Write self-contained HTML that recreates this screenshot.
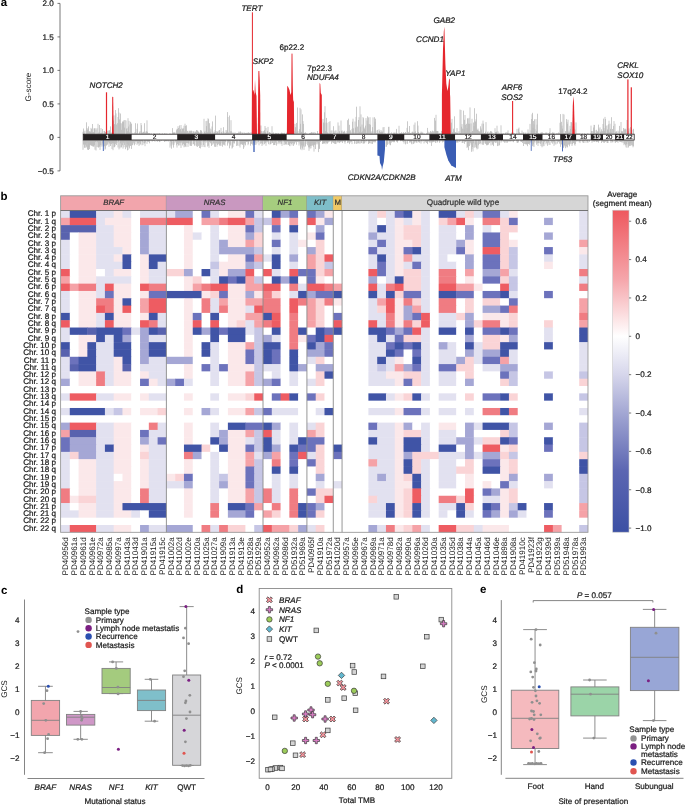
<!DOCTYPE html>
<html><head><meta charset="utf-8"><style>
html,body{margin:0;padding:0;background:#fff;}
body{width:685px;height:805px;overflow:hidden;}
svg{display:block;font-family:"Liberation Sans", sans-serif;will-change:transform;text-rendering:geometricPrecision;}
</style></head><body>
<svg width="685" height="805" viewBox="0 0 685 805" font-family='"Liberation Sans", sans-serif'>
<rect width="685" height="805" fill="#fff"/>
<text x="0.80" y="5.80" font-size="11.5" text-anchor="start" fill="#000" font-weight="bold" >a</text>
<line x1="60.0" y1="3.4000000000000057" x2="60.0" y2="170.9" stroke="#555" stroke-width="0.8"/>
<line x1="57.5" y1="3.40" x2="60.0" y2="3.40" stroke="#555" stroke-width="0.8"/>
<text x="53.80" y="6.20" font-size="8.1" text-anchor="end" fill="#1a1a1a" stroke="#1a1a1a" stroke-width="0.22"  >2.0</text>
<line x1="57.5" y1="36.90" x2="60.0" y2="36.90" stroke="#555" stroke-width="0.8"/>
<text x="53.80" y="39.70" font-size="8.1" text-anchor="end" fill="#1a1a1a" stroke="#1a1a1a" stroke-width="0.22"  >1.5</text>
<line x1="57.5" y1="70.40" x2="60.0" y2="70.40" stroke="#555" stroke-width="0.8"/>
<text x="53.80" y="73.20" font-size="8.1" text-anchor="end" fill="#1a1a1a" stroke="#1a1a1a" stroke-width="0.22"  >1.0</text>
<line x1="57.5" y1="103.90" x2="60.0" y2="103.90" stroke="#555" stroke-width="0.8"/>
<text x="53.80" y="106.70" font-size="8.1" text-anchor="end" fill="#1a1a1a" stroke="#1a1a1a" stroke-width="0.22"  >0.5</text>
<line x1="57.5" y1="137.40" x2="60.0" y2="137.40" stroke="#555" stroke-width="0.8"/>
<text x="53.80" y="140.20" font-size="8.1" text-anchor="end" fill="#1a1a1a" stroke="#1a1a1a" stroke-width="0.22"  >0</text>
<line x1="57.5" y1="170.90" x2="60.0" y2="170.90" stroke="#555" stroke-width="0.8"/>
<text x="53.80" y="173.70" font-size="8.1" text-anchor="end" fill="#1a1a1a" stroke="#1a1a1a" stroke-width="0.22"  >−0.5</text>
<text x="30.50" y="87.00" font-size="8.1" text-anchor="middle" fill="#1a1a1a"  transform="rotate(-90 30.5 87)" >G-score</text>
<path d="M83.0,134.2v-2.4M83.5,134.2v-5.7M84.0,134.2v-2.8M84.5,134.2v-0.8M85.0,134.2v-3.6M86.5,134.2v-11.9M87.0,134.2v-6.0M87.5,134.2v-4.3M88.0,134.2v-5.7M88.5,134.2v-7.8M89.0,134.2v-2.4M89.5,134.2v-2.9M90.0,134.2v-2.7M90.5,134.2v-2.5M91.0,134.2v-6.3M91.5,134.2v-5.1M92.0,134.2v-1.6M92.5,134.2v-10.2M93.0,134.2v-2.1M93.5,134.2v-2.0M94.0,134.2v-5.8M94.5,134.2v-5.6M95.0,134.2v-6.2M96.0,134.2v-4.7M97.0,134.2v-6.0M97.5,134.2v-0.5M98.0,134.2v-10.4M98.5,134.2v-0.8M99.0,134.2v-2.4M99.5,134.2v-9.2M100.0,134.2v-0.5M100.5,134.2v-1.0M101.0,134.2v-6.1M101.5,134.2v-1.5M102.0,134.2v-1.0M102.5,134.2v-5.2M103.5,134.2v-0.7M104.0,134.2v-3.1M104.5,134.2v-3.3M105.0,134.2v-2.2M105.5,134.2v-2.3M106.0,134.2v-1.6M106.5,134.2v-1.8M107.0,134.2v-3.5M107.5,134.2v-0.4M108.0,134.2v-3.3M108.5,134.2v-0.6M109.0,134.2v-3.9M109.5,134.2v-3.9M110.0,134.2v-2.3M110.5,134.2v-7.8M111.0,134.2v-0.8M111.5,134.2v-0.8M112.0,134.2v-2.3M112.5,134.2v-0.5M113.0,134.2v-18.6M113.5,134.2v-13.8M114.0,134.2v-9.4M114.5,134.2v-10.1M115.0,134.2v-18.8M115.5,134.2v-24.2M116.0,134.2v-20.8M116.5,134.2v-9.7M117.5,134.2v-11.0M118.0,134.2v-17.2M118.5,134.2v-26.0M119.0,134.2v-21.6M119.5,134.2v-14.8M120.0,134.2v-11.0M120.5,134.2v-20.7M121.0,134.2v-11.1M121.5,134.2v-4.4M122.0,134.2v-10.6M122.5,134.2v-12.4M123.0,134.2v-13.0M123.5,134.2v-12.5M124.0,134.2v-14.1M124.5,134.2v-6.6M125.0,134.2v-14.2M126.0,134.2v-13.7M126.5,134.2v-5.4M127.0,134.2v-6.1M127.5,134.2v-3.0M128.0,134.2v-16.0M128.5,134.2v-7.7M129.0,134.2v-13.3M129.5,134.2v-1.8M130.0,134.2v-9.7M130.5,134.2v-12.4M131.0,134.2v-11.4M131.5,134.2v-10.2M132.0,134.2v-1.4M132.5,134.2v-0.4M133.0,134.2v-0.8M134.0,134.2v-1.2M134.5,134.2v-0.5M135.0,134.2v-2.1M135.5,134.2v-11.0M136.5,134.2v-1.1M137.0,134.2v-5.3M137.5,134.2v-10.7M139.0,134.2v-1.2M139.5,134.2v-1.9M140.0,134.2v-3.0M140.5,134.2v-0.5M141.0,134.2v-11.2M141.5,134.2v-9.0M142.0,134.2v-0.9M142.5,134.2v-1.4M143.0,134.2v-2.3M143.5,134.2v-2.4M144.5,134.2v-11.0M145.0,134.2v-1.8M145.5,134.2v-1.0M146.0,134.2v-2.7M146.5,134.2v-2.9M147.0,134.2v-13.9M147.5,134.2v-2.5M148.0,134.2v-0.7M148.5,134.2v-0.9M149.0,134.2v-1.0M149.5,134.2v-0.8M150.0,134.2v-0.9M151.5,134.2v-0.8M153.5,134.2v-0.8M154.5,134.2v-0.7M155.0,134.2v-0.7M155.5,134.2v-0.4M156.5,134.2v-0.5M157.0,134.2v-0.7M157.5,134.2v-0.5M158.0,134.2v-0.5M159.0,134.2v-0.9M159.5,134.2v-0.9M160.0,134.2v-0.5M161.0,134.2v-0.5M162.0,134.2v-0.5M162.5,134.2v-0.8M163.0,134.2v-0.4M164.5,134.2v-1.0M165.0,134.2v-0.4M166.0,134.2v-0.9M167.0,134.2v-0.6M169.5,134.2v-0.6M170.0,134.2v-0.7M170.5,134.2v-0.5M172.0,134.2v-0.7M172.5,134.2v-6.1M173.0,134.2v-1.2M173.5,134.2v-1.7M174.0,134.2v-1.7M174.5,134.2v-1.5M175.0,134.2v-1.9M175.5,134.2v-0.5M176.5,134.2v-4.0M177.0,134.2v-5.4M177.5,134.2v-5.1M178.0,134.2v-8.0M178.5,134.2v-6.2M179.0,134.2v-4.0M179.5,134.2v-8.8M180.0,134.2v-4.5M180.5,134.2v-5.1M181.0,134.2v-9.2M181.5,134.2v-2.8M182.0,134.2v-6.3M182.5,134.2v-5.1M183.0,134.2v-5.1M183.5,134.2v-5.9M184.0,134.2v-8.5M184.5,134.2v-2.8M185.0,134.2v-10.5M185.5,134.2v-8.4M186.0,134.2v-4.4M186.5,134.2v-8.9M187.5,134.2v-3.2M188.0,134.2v-3.5M188.5,134.2v-1.4M189.0,134.2v-1.8M189.5,134.2v-3.2M190.0,134.2v-3.8M190.5,134.2v-3.1M191.0,134.2v-1.4M191.5,134.2v-3.6M192.0,134.2v-3.1M192.5,134.2v-1.4M193.5,134.2v-2.9M194.0,134.2v-2.5M194.5,134.2v-0.7M195.0,134.2v-2.6M195.5,134.2v-2.5M196.0,134.2v-2.0M196.5,134.2v-4.2M197.0,134.2v-2.7M197.5,134.2v-3.8M198.0,134.2v-2.9M198.5,134.2v-2.4M199.0,134.2v-1.3M199.5,134.2v-0.8M200.0,134.2v-2.0M200.5,134.2v-4.0M201.0,134.2v-4.2M201.5,134.2v-3.3M202.0,134.2v-2.3M203.0,134.2v-0.5M203.5,134.2v-0.5M204.0,134.2v-15.4M204.5,134.2v-2.2M205.0,134.2v-3.4M205.5,134.2v-1.4M206.0,134.2v-13.1M206.5,134.2v-8.1M207.0,134.2v-13.4M207.5,134.2v-2.0M208.0,134.2v-15.9M208.5,134.2v-15.0M209.0,134.2v-2.3M209.5,134.2v-11.0M210.0,134.2v-5.8M210.5,134.2v-2.5M211.0,134.2v-4.9M211.5,134.2v-0.5M212.0,134.2v-7.7M212.5,134.2v-12.8M213.0,134.2v-2.6M213.5,134.2v-0.8M214.0,134.2v-1.5M214.5,134.2v-2.0M215.0,134.2v-4.0M215.5,134.2v-18.6M216.0,134.2v-3.1M216.5,134.2v-1.2M217.0,134.2v-2.7M217.5,134.2v-2.2M218.0,134.2v-3.0M218.5,134.2v-0.8M219.0,134.2v-3.8M219.5,134.2v-4.2M220.0,134.2v-1.5M221.0,134.2v-6.3M221.5,134.2v-2.1M222.0,134.2v-1.3M222.5,134.2v-0.6M223.0,134.2v-2.9M223.5,134.2v-7.0M224.0,134.2v-2.4M224.5,134.2v-0.7M225.0,134.2v-0.8M225.5,134.2v-1.3M226.0,134.2v-4.1M226.5,134.2v-2.0M227.0,134.2v-3.8M227.5,134.2v-22.1M228.0,134.2v-17.2M228.5,134.2v-1.8M229.0,134.2v-1.0M229.5,134.2v-18.7M230.5,134.2v-2.9M231.0,134.2v-14.0M231.5,134.2v-2.9M232.5,134.2v-1.1M233.0,134.2v-1.9M233.5,134.2v-0.8M234.0,134.2v-0.5M234.5,134.2v-0.7M235.0,134.2v-1.8M235.5,134.2v-0.6M236.0,134.2v-0.6M236.5,134.2v-0.7M237.0,134.2v-1.1M237.5,134.2v-1.0M238.0,134.2v-1.1M238.5,134.2v-1.5M239.0,134.2v-2.7M239.5,134.2v-1.0M240.0,134.2v-2.0M240.5,134.2v-2.8M241.0,134.2v-1.6M242.0,134.2v-1.8M242.5,134.2v-1.2M243.0,134.2v-1.5M244.0,134.2v-1.5M244.5,134.2v-1.5M245.0,134.2v-0.6M245.5,134.2v-1.3M246.0,134.2v-1.0M246.5,134.2v-1.4M247.0,134.2v-0.7M247.5,134.2v-1.3M248.0,134.2v-1.6M248.5,134.2v-1.8M249.0,134.2v-1.2M249.5,134.2v-1.4M250.0,134.2v-0.7M251.0,134.2v-2.1M260.0,134.2v-1.2M260.5,134.2v-4.0M261.0,134.2v-8.7M261.5,134.2v-3.2M262.0,134.2v-1.9M262.5,134.2v-0.9M263.0,134.2v-3.2M263.5,134.2v-1.7M264.0,134.2v-3.2M264.5,134.2v-4.1M265.0,134.2v-8.2M265.5,134.2v-1.9M266.0,134.2v-6.3M266.5,134.2v-0.4M267.5,134.2v-3.4M268.0,134.2v-7.3M269.0,134.2v-1.7M269.5,134.2v-2.2M270.0,134.2v-1.0M270.5,134.2v-1.5M271.5,134.2v-0.6M272.0,134.2v-8.0M272.5,134.2v-1.0M273.5,134.2v-1.7M274.0,134.2v-0.5M275.0,134.2v-0.7M275.5,134.2v-1.3M276.5,134.2v-1.1M277.0,134.2v-0.8M278.0,134.2v-1.3M278.5,134.2v-0.9M279.0,134.2v-0.5M280.0,134.2v-0.5M281.0,134.2v-1.2M281.5,134.2v-1.6M282.0,134.2v-1.1M282.5,134.2v-1.3M283.5,134.2v-1.1M284.5,134.2v-1.4M286.0,134.2v-0.6M286.5,134.2v-1.5M294.0,134.2v-3.0M294.5,134.2v-1.0M295.0,134.2v-10.3M295.5,134.2v-7.0M296.0,134.2v-1.5M296.5,134.2v-11.3M297.0,134.2v-1.9M297.5,134.2v-26.7M298.0,134.2v-3.1M298.5,134.2v-0.9M299.0,134.2v-1.0M299.5,134.2v-5.1M300.0,134.2v-26.3M300.5,134.2v-10.4M301.0,134.2v-24.8M301.5,134.2v-2.4M302.0,134.2v-1.9M302.5,134.2v-19.8M303.0,134.2v-13.1M303.5,134.2v-10.3M304.0,134.2v-1.3M304.5,134.2v-1.3M305.0,134.2v-0.7M305.5,134.2v-1.9M306.0,134.2v-0.8M306.5,134.2v-0.7M307.5,134.2v-0.4M308.0,134.2v-0.6M309.5,134.2v-1.1M310.0,134.2v-0.7M310.5,134.2v-1.3M311.0,134.2v-1.5M311.5,134.2v-2.1M312.0,134.2v-1.7M312.5,134.2v-0.8M313.0,134.2v-1.9M313.5,134.2v-1.0M314.0,134.2v-1.9M315.0,134.2v-1.9M315.5,134.2v-1.1M316.0,134.2v-0.5M317.0,134.2v-0.8M317.5,134.2v-3.2M318.0,134.2v-1.0M318.5,134.2v-0.5M322.0,134.2v-0.8M322.5,134.2v-1.0M323.0,134.2v-15.3M323.5,134.2v-11.7M324.0,134.2v-11.0M324.5,134.2v-21.9M325.0,134.2v-28.0M325.5,134.2v-3.1M326.0,134.2v-11.6M326.5,134.2v-16.3M327.0,134.2v-11.4M327.5,134.2v-1.8M328.0,134.2v-1.2M328.5,134.2v-0.5M329.0,134.2v-12.2M329.5,134.2v-0.6M330.0,134.2v-13.1M330.5,134.2v-1.0M331.0,134.2v-3.6M332.0,134.2v-3.9M333.0,134.2v-1.0M333.5,134.2v-8.0M334.0,134.2v-2.6M334.5,134.2v-1.3M335.0,134.2v-3.6M335.5,134.2v-0.7M336.0,134.2v-3.8M336.5,134.2v-0.9M337.5,134.2v-1.6M338.0,134.2v-11.8M338.5,134.2v-0.9M339.0,134.2v-8.6M339.5,134.2v-3.0M340.0,134.2v-0.9M340.5,134.2v-0.6M341.0,134.2v-13.7M341.5,134.2v-3.0M342.0,134.2v-3.8M342.5,134.2v-0.5M343.0,134.2v-2.5M343.5,134.2v-2.5M344.0,134.2v-1.9M344.5,134.2v-3.4M345.0,134.2v-1.9M345.5,134.2v-0.5M346.0,134.2v-0.5M346.5,134.2v-0.7M347.0,134.2v-3.1M347.5,134.2v-14.0M348.0,134.2v-0.7M348.5,134.2v-15.5M349.0,134.2v-2.8M349.5,134.2v-9.4M350.5,134.2v-3.9M351.0,134.2v-2.1M351.5,134.2v-0.5M352.0,134.2v-5.3M352.5,134.2v-12.5M353.0,134.2v-15.5M353.5,134.2v-5.9M354.0,134.2v-2.1M354.5,134.2v-0.6M355.0,134.2v-12.7M355.5,134.2v-6.7M356.0,134.2v-17.3M356.5,134.2v-27.5M357.5,134.2v-7.6M358.0,134.2v-1.0M358.5,134.2v-14.2M359.0,134.2v-17.0M359.5,134.2v-2.5M360.0,134.2v-27.9M360.5,134.2v-7.6M361.0,134.2v-19.8M361.5,134.2v-1.9M362.0,134.2v-9.7M362.5,134.2v-2.8M363.0,134.2v-17.1M363.5,134.2v-16.0M364.0,134.2v-6.8M364.5,134.2v-5.6M365.0,134.2v-4.2M365.5,134.2v-8.6M366.0,134.2v-16.1M366.5,134.2v-1.4M367.0,134.2v-13.7M367.5,134.2v-17.9M368.0,134.2v-10.4M368.5,134.2v-16.8M369.0,134.2v-0.5M369.5,134.2v-10.1M370.0,134.2v-17.0M370.5,134.2v-9.5M371.0,134.2v-2.2M371.5,134.2v-1.1M372.0,134.2v-3.1M372.5,134.2v-7.1M373.0,134.2v-16.8M373.5,134.2v-0.5M374.0,134.2v-2.7M374.5,134.2v-17.0M375.0,134.2v-12.5M375.5,134.2v-15.5M376.0,134.2v-3.8M376.5,134.2v-1.0M377.0,134.2v-0.8M377.5,134.2v-4.3M378.0,134.2v-0.9M378.5,134.2v-1.4M379.0,134.2v-4.9M379.5,134.2v-3.4M380.5,134.2v-2.1M381.0,134.2v-4.1M381.5,134.2v-2.6M382.0,134.2v-0.7M382.5,134.2v-2.6M383.0,134.2v-6.9M384.0,134.2v-7.2M384.5,134.2v-0.6M385.0,134.2v-0.5M385.5,134.2v-0.7M387.0,134.2v-0.6M388.0,134.2v-1.4M388.5,134.2v-7.3M389.0,134.2v-7.4M390.0,134.2v-1.1M390.5,134.2v-0.5M391.5,134.2v-1.8M392.0,134.2v-0.4M393.0,134.2v-1.2M393.5,134.2v-0.6M394.0,134.2v-2.0M394.5,134.2v-1.2M395.0,134.2v-0.7M395.5,134.2v-0.4M396.0,134.2v-1.8M396.5,134.2v-5.3M397.0,134.2v-0.9M397.5,134.2v-0.6M399.0,134.2v-8.4M399.5,134.2v-0.7M400.0,134.2v-0.9M400.5,134.2v-1.0M401.0,134.2v-1.0M401.5,134.2v-2.0M402.0,134.2v-0.6M402.5,134.2v-0.5M403.0,134.2v-1.4M403.5,134.2v-2.0M404.5,134.2v-1.3M405.0,134.2v-1.0M405.5,134.2v-2.2M406.0,134.2v-0.6M406.5,134.2v-0.8M407.0,134.2v-6.3M407.5,134.2v-12.9M408.5,134.2v-2.3M409.5,134.2v-8.2M410.0,134.2v-1.4M410.5,134.2v-1.0M411.0,134.2v-0.6M411.5,134.2v-0.8M412.0,134.2v-2.3M412.5,134.2v-2.5M413.0,134.2v-1.1M413.5,134.2v-1.8M414.0,134.2v-9.5M414.5,134.2v-1.9M415.0,134.2v-11.7M415.5,134.2v-2.9M416.5,134.2v-1.1M417.0,134.2v-1.0M417.5,134.2v-13.0M418.0,134.2v-8.6M418.5,134.2v-2.2M420.0,134.2v-1.3M420.5,134.2v-0.8M421.0,134.2v-2.6M421.5,134.2v-1.0M422.0,134.2v-2.3M422.5,134.2v-1.0M423.0,134.2v-1.5M424.5,134.2v-0.6M426.5,134.2v-0.7M427.0,134.2v-1.3M427.5,134.2v-6.3M428.0,134.2v-2.7M429.0,134.2v-1.8M429.5,134.2v-0.6M430.0,134.2v-1.8M430.5,134.2v-3.2M431.5,134.2v-2.5M432.0,134.2v-0.9M432.5,134.2v-3.5M433.0,134.2v-1.6M433.5,134.2v-2.9M434.5,134.2v-16.3M435.0,134.2v-3.0M435.5,134.2v-13.6M436.0,134.2v-19.4M436.5,134.2v-3.3M437.0,134.2v-2.9M437.5,134.2v-3.2M438.0,134.2v-3.1M439.0,134.2v-1.4M439.5,134.2v-0.8M440.5,134.2v-0.7M441.0,134.2v-1.3M441.5,134.2v-3.3M451.0,134.2v-3.9M451.5,134.2v-11.6M452.0,134.2v-15.3M452.5,134.2v-2.0M453.0,134.2v-1.0M453.5,134.2v-5.5M454.0,134.2v-3.6M454.5,134.2v-17.9M455.0,134.2v-2.0M455.5,134.2v-1.9M456.0,134.2v-1.0M456.5,134.2v-1.7M457.0,134.2v-6.1M457.5,134.2v-1.2M458.0,134.2v-1.7M459.0,134.2v-3.1M459.5,134.2v-0.8M460.0,134.2v-24.7M460.5,134.2v-1.1M461.0,134.2v-24.2M461.5,134.2v-7.5M462.0,134.2v-10.1M462.5,134.2v-5.6M463.0,134.2v-0.5M463.5,134.2v-23.6M464.0,134.2v-4.9M464.5,134.2v-14.4M465.0,134.2v-19.2M465.5,134.2v-9.5M466.0,134.2v-2.3M466.5,134.2v-10.4M467.0,134.2v-6.1M467.5,134.2v-15.9M468.0,134.2v-15.5M468.5,134.2v-10.6M469.0,134.2v-16.3M469.5,134.2v-10.4M470.0,134.2v-26.8M470.5,134.2v-1.9M471.0,134.2v-10.8M471.5,134.2v-1.8M472.0,134.2v-15.4M472.5,134.2v-3.2M473.0,134.2v-2.7M473.5,134.2v-11.7M474.0,134.2v-8.1M474.5,134.2v-26.0M475.0,134.2v-12.9M475.5,134.2v-12.5M476.0,134.2v-14.9M476.5,134.2v-20.5M477.0,134.2v-4.5M477.5,134.2v-4.3M478.0,134.2v-5.6M478.5,134.2v-3.5M479.0,134.2v-2.2M479.5,134.2v-2.8M480.0,134.2v-2.8M480.5,134.2v-7.9M481.0,134.2v-5.8M481.5,134.2v-4.4M482.0,134.2v-10.6M482.5,134.2v-1.4M483.0,134.2v-13.6M483.5,134.2v-10.5M484.0,134.2v-0.6M484.5,134.2v-1.2M485.0,134.2v-0.9M485.5,134.2v-2.6M486.0,134.2v-12.1M487.0,134.2v-1.0M487.5,134.2v-1.9M488.0,134.2v-2.8M489.0,134.2v-1.3M489.5,134.2v-1.3M490.0,134.2v-2.0M490.5,134.2v-3.0M491.0,134.2v-3.1M491.5,134.2v-2.5M492.0,134.2v-2.1M493.0,134.2v-1.1M493.5,134.2v-0.5M494.0,134.2v-0.5M495.0,134.2v-6.0M495.5,134.2v-1.9M496.0,134.2v-2.2M496.5,134.2v-2.5M497.0,134.2v-8.5M498.0,134.2v-2.9M499.0,134.2v-1.5M500.0,134.2v-0.7M501.0,134.2v-8.9M501.5,134.2v-0.7M502.0,134.2v-0.6M503.0,134.2v-0.8M503.5,134.2v-0.8M505.0,134.2v-1.0M505.5,134.2v-1.2M506.0,134.2v-2.0M507.0,134.2v-1.7M507.5,134.2v-1.4M508.0,134.2v-3.8M508.5,134.2v-0.5M509.0,134.2v-1.2M511.0,134.2v-0.6M511.5,134.2v-1.3M512.0,134.2v-2.0M512.5,134.2v-0.9M513.0,134.2v-0.7M513.5,134.2v-1.5M514.0,134.2v-0.6M514.5,134.2v-0.9M515.0,134.2v-0.8M516.5,134.2v-1.0M517.0,134.2v-5.3M517.5,134.2v-0.5M518.5,134.2v-5.5M519.0,134.2v-6.6M519.5,134.2v-2.0M520.0,134.2v-1.1M520.5,134.2v-0.5M521.0,134.2v-1.1M521.5,134.2v-0.9M522.0,134.2v-3.7M522.5,134.2v-0.4M523.0,134.2v-1.6M523.5,134.2v-1.8M524.0,134.2v-0.5M525.0,134.2v-1.7M525.5,134.2v-0.5M526.0,134.2v-1.6M527.5,134.2v-1.0M528.0,134.2v-4.8M528.5,134.2v-1.5M529.5,134.2v-0.7M530.0,134.2v-10.3M530.5,134.2v-0.5M531.0,134.2v-3.9M531.5,134.2v-15.2M532.0,134.2v-19.9M532.5,134.2v-21.4M533.0,134.2v-6.4M533.5,134.2v-13.2M534.0,134.2v-9.9M534.5,134.2v-14.9M535.0,134.2v-5.0M535.5,134.2v-0.9M536.0,134.2v-15.1M536.5,134.2v-3.3M537.0,134.2v-9.6M537.5,134.2v-20.5M538.0,134.2v-0.7M538.5,134.2v-1.2M540.0,134.2v-1.1M540.5,134.2v-0.7M541.0,134.2v-1.7M541.5,134.2v-1.1M542.0,134.2v-2.1M542.5,134.2v-1.4M543.0,134.2v-0.4M543.5,134.2v-1.1M544.5,134.2v-0.7M545.0,134.2v-0.8M545.5,134.2v-1.0M546.0,134.2v-1.9M546.5,134.2v-0.9M547.0,134.2v-1.5M547.5,134.2v-0.5M548.5,134.2v-1.1M549.0,134.2v-0.6M549.5,134.2v-2.0M550.0,134.2v-6.0M551.0,134.2v-1.0M552.0,134.2v-1.1M552.5,134.2v-1.9M553.0,134.2v-0.6M553.5,134.2v-1.4M554.0,134.2v-1.7M554.5,134.2v-0.4M555.5,134.2v-0.4M556.0,134.2v-0.4M556.5,134.2v-0.9M557.0,134.2v-0.5M557.5,134.2v-0.9M558.5,134.2v-1.7M559.0,134.2v-1.0M559.5,134.2v-1.0M560.0,134.2v-11.4M560.5,134.2v-20.1M561.0,134.2v-3.7M561.5,134.2v-12.4M562.0,134.2v-8.6M562.5,134.2v-5.6M563.0,134.2v-20.3M563.5,134.2v-0.9M564.0,134.2v-19.7M564.5,134.2v-0.8M565.0,134.2v-1.0M565.5,134.2v-3.1M566.0,134.2v-0.4M566.5,134.2v-15.1M567.0,134.2v-12.3M567.5,134.2v-10.4M568.0,134.2v-14.5M568.5,134.2v-1.7M569.0,134.2v-3.6M569.5,134.2v-1.8M570.0,134.2v-8.4M570.5,134.2v-5.3M571.0,134.2v-12.2M571.5,134.2v-11.9M575.0,134.2v-4.7M575.5,134.2v-0.4M576.0,134.2v-11.8M576.5,134.2v-0.9M577.5,134.2v-0.8M578.0,134.2v-0.5M578.5,134.2v-0.8M579.5,134.2v-0.8M580.0,134.2v-0.8M582.0,134.2v-0.5M582.5,134.2v-0.7M584.5,134.2v-0.8M587.5,134.2v-0.7M588.0,134.2v-0.8M590.5,134.2v-0.9M591.0,134.2v-8.6M591.5,134.2v-3.1M592.0,134.2v-3.2M592.5,134.2v-0.9M593.0,134.2v-2.9M593.5,134.2v-6.7M594.0,134.2v-9.4M594.5,134.2v-9.2M595.0,134.2v-4.0M595.5,134.2v-1.2M596.0,134.2v-0.4M596.5,134.2v-4.4M597.0,134.2v-2.6M597.5,134.2v-2.9M598.0,134.2v-1.6M598.5,134.2v-9.6M599.0,134.2v-5.8M600.0,134.2v-6.9M600.5,134.2v-2.0M601.0,134.2v-3.0M601.5,134.2v-4.9M602.5,134.2v-3.0M603.0,134.2v-10.2M603.5,134.2v-15.6M604.0,134.2v-6.1M604.5,134.2v-3.4M605.0,134.2v-17.3M605.5,134.2v-15.2M606.0,134.2v-8.2M606.5,134.2v-0.8M607.0,134.2v-8.9M607.5,134.2v-4.8M608.0,134.2v-3.8M608.5,134.2v-9.9M609.0,134.2v-13.5M609.5,134.2v-1.9M610.0,134.2v-10.5M610.5,134.2v-5.4M611.0,134.2v-2.2M611.5,134.2v-17.0M612.0,134.2v-1.1M612.5,134.2v-5.2M613.0,134.2v-0.7M613.5,134.2v-8.3M614.0,134.2v-13.1M614.5,134.2v-0.7M615.0,134.2v-10.4M615.5,134.2v-1.8M616.0,134.2v-2.7M616.5,134.2v-2.8M617.5,134.2v-1.3M618.0,134.2v-3.6M619.0,134.2v-2.6M619.5,134.2v-8.3M620.5,134.2v-1.1M621.0,134.2v-12.2M621.5,134.2v-2.8M622.0,134.2v-3.1M622.5,134.2v-2.7M623.0,134.2v-1.4M623.5,134.2v-6.2M624.0,134.2v-1.0M624.5,134.2v-4.8M625.0,134.2v-5.7M625.5,134.2v-4.8M626.0,134.2v-4.9M626.5,134.2v-0.8M627.0,134.2v-14.2M628.0,134.2v-1.7M628.5,134.2v-3.5M629.0,134.2v-5.8M630.0,134.2v-0.4M630.5,134.2v-7.1M631.0,134.2v-4.1M631.5,134.2v-6.2M632.0,134.2v-0.5M633.0,134.2v-4.6M633.5,134.2v-5.4" stroke="#b8b8b8" stroke-width="0.75" fill="none"/>
<path d="M83.0,140.0v9.8M83.5,140.0v4.5M84.0,140.0v4.5M84.5,140.0v7.7M85.0,140.0v7.7M85.5,140.0v4.7M86.0,140.0v7.7M86.5,140.0v6.7M87.0,140.0v2.8M87.5,140.0v9.4M88.0,140.0v9.9M88.5,140.0v10.0M89.0,140.0v6.9M89.5,140.0v9.1M90.0,140.0v5.0M90.5,140.0v4.8M91.0,140.0v5.6M91.5,140.0v5.8M92.0,140.0v4.9M92.5,140.0v6.1M93.0,140.0v6.6M93.5,140.0v6.3M94.0,140.0v6.7M94.5,140.0v5.2M95.0,140.0v9.7M95.5,140.0v2.0M96.0,140.0v10.5M96.5,140.0v1.4M97.0,140.0v7.1M97.5,140.0v2.2M98.0,140.0v7.2M98.5,140.0v7.6M99.0,140.0v6.9M99.5,140.0v6.6M100.0,140.0v9.9M100.5,140.0v5.3M101.0,140.0v6.8M101.5,140.0v0.9M102.0,140.0v5.4M102.5,140.0v3.5M103.0,140.0v6.6M104.0,140.0v6.6M104.5,140.0v6.0M105.0,140.0v9.7M105.5,140.0v8.7M106.0,140.0v5.5M106.5,140.0v5.5M107.0,140.0v1.7M107.5,140.0v4.7M108.0,140.0v3.5M108.5,140.0v2.1M109.0,140.0v6.9M109.5,140.0v3.1M110.0,140.0v4.1M110.5,140.0v6.0M111.0,140.0v2.5M111.5,140.0v4.1M112.0,140.0v9.0M112.5,140.0v3.2M113.0,140.0v10.2M113.5,140.0v3.5M114.0,140.0v7.3M114.5,140.0v7.1M115.0,140.0v6.3M115.5,140.0v3.9M116.0,140.0v1.8M116.5,140.0v5.0M117.0,140.0v2.9M118.0,140.0v7.5M118.5,140.0v1.7M119.0,140.0v9.4M120.0,140.0v8.3M120.5,140.0v3.4M121.0,140.0v7.0M121.5,140.0v7.4M122.0,140.0v2.0M122.5,140.0v5.3M123.0,140.0v8.6M123.5,140.0v2.7M124.0,140.0v7.2M124.5,140.0v4.9M125.0,140.0v1.2M125.5,140.0v9.2M126.0,140.0v2.4M126.5,140.0v7.4M127.0,140.0v4.1M127.5,140.0v10.4M128.0,140.0v9.9M128.5,140.0v5.5M129.0,140.0v6.7M129.5,140.0v8.4M130.0,140.0v2.2M130.5,140.0v5.9M131.0,140.0v5.5M131.5,140.0v8.9M132.0,140.0v1.2M132.5,140.0v5.2M133.0,140.0v4.4M133.5,140.0v2.7M134.5,140.0v5.3M135.0,140.0v4.1M135.5,140.0v1.7M136.0,140.0v1.0M136.5,140.0v1.6M137.0,140.0v4.9M137.5,140.0v3.5M138.0,140.0v1.0M138.5,140.0v3.5M139.0,140.0v6.0M139.5,140.0v2.4M140.0,140.0v5.0M140.5,140.0v3.9M141.0,140.0v1.8M141.5,140.0v1.0M142.0,140.0v5.3M142.5,140.0v1.9M143.0,140.0v4.8M144.0,140.0v3.0M144.5,140.0v3.5M145.0,140.0v6.2M145.5,140.0v2.5M146.5,140.0v0.8M147.0,140.0v3.9M147.5,140.0v1.6M148.0,140.0v1.4M148.5,140.0v1.8M149.0,140.0v1.2M149.5,140.0v3.3M150.0,140.0v1.1M151.0,140.0v0.8M151.5,140.0v0.5M152.0,140.0v1.5M152.5,140.0v1.3M153.0,140.0v0.9M153.5,140.0v0.7M154.0,140.0v0.8M154.5,140.0v1.0M155.0,140.0v1.8M156.5,140.0v1.2M157.5,140.0v1.7M158.0,140.0v1.3M158.5,140.0v0.8M159.0,140.0v1.0M159.5,140.0v2.1M160.0,140.0v1.7M161.0,140.0v1.0M161.5,140.0v0.5M162.0,140.0v1.0M163.5,140.0v0.7M164.5,140.0v1.9M165.0,140.0v1.5M165.5,140.0v1.1M166.0,140.0v0.8M166.5,140.0v1.3M167.0,140.0v0.8M167.5,140.0v0.6M168.0,140.0v1.5M168.5,140.0v1.3M169.5,140.0v0.6M170.0,140.0v7.6M170.5,140.0v1.7M171.0,140.0v5.7M171.5,140.0v8.7M172.0,140.0v3.7M172.5,140.0v1.0M173.0,140.0v5.2M173.5,140.0v7.6M174.0,140.0v4.7M175.0,140.0v2.7M175.5,140.0v1.6M176.0,140.0v1.1M176.5,140.0v5.3M177.0,140.0v7.6M177.5,140.0v4.0M178.0,140.0v1.9M178.5,140.0v5.5M179.0,140.0v5.2M179.5,140.0v2.7M180.0,140.0v5.4M180.5,140.0v2.7M181.0,140.0v7.9M181.5,140.0v2.6M182.0,140.0v0.9M182.5,140.0v5.4M183.0,140.0v3.7M183.5,140.0v3.8M184.0,140.0v7.3M184.5,140.0v5.2M185.0,140.0v6.9M185.5,140.0v5.9M186.0,140.0v7.1M186.5,140.0v3.0M187.5,140.0v3.0M188.0,140.0v6.9M188.5,140.0v3.4M189.0,140.0v3.4M189.5,140.0v1.2M190.0,140.0v5.6M190.5,140.0v5.8M191.0,140.0v3.7M191.5,140.0v6.0M192.0,140.0v1.2M193.0,140.0v4.4M193.5,140.0v4.0M194.0,140.0v0.7M194.5,140.0v5.6M195.0,140.0v5.5M196.0,140.0v1.9M196.5,140.0v6.3M197.0,140.0v4.8M197.5,140.0v6.9M198.0,140.0v0.6M198.5,140.0v5.9M199.0,140.0v2.5M199.5,140.0v8.0M200.0,140.0v4.3M200.5,140.0v8.4M201.0,140.0v5.1M201.5,140.0v0.8M202.0,140.0v6.9M203.0,140.0v1.8M203.5,140.0v5.1M204.0,140.0v7.0M204.5,140.0v1.7M205.0,140.0v7.2M205.5,140.0v1.2M206.0,140.0v2.8M207.0,140.0v1.8M207.5,140.0v6.5M208.0,140.0v1.5M208.5,140.0v5.7M209.0,140.0v7.8M209.5,140.0v2.1M210.0,140.0v2.1M210.5,140.0v3.3M211.0,140.0v0.9M211.5,140.0v6.0M212.0,140.0v5.0M212.5,140.0v1.1M213.0,140.0v4.3M213.5,140.0v3.3M214.5,140.0v6.7M215.0,140.0v3.1M215.5,140.0v6.9M216.5,140.0v3.5M217.0,140.0v6.7M217.5,140.0v5.0M218.0,140.0v0.5M218.5,140.0v4.3M219.0,140.0v3.1M219.5,140.0v5.3M220.0,140.0v6.1M220.5,140.0v4.6M221.0,140.0v5.9M221.5,140.0v1.3M222.0,140.0v2.8M222.5,140.0v6.7M223.0,140.0v4.0M223.5,140.0v4.8M224.0,140.0v2.5M224.5,140.0v4.8M225.0,140.0v5.7M225.5,140.0v2.1M226.0,140.0v1.8M227.5,140.0v5.6M228.0,140.0v3.4M228.5,140.0v2.4M229.0,140.0v1.9M229.5,140.0v8.3M230.0,140.0v3.9M230.5,140.0v5.5M231.5,140.0v1.0M232.0,140.0v8.6M232.5,140.0v7.7M233.0,140.0v7.0M233.5,140.0v2.5M234.0,140.0v3.4M234.5,140.0v3.4M235.0,140.0v1.5M235.5,140.0v1.0M236.5,140.0v5.9M237.0,140.0v1.6M237.5,140.0v5.6M238.5,140.0v0.6M239.0,140.0v5.9M239.5,140.0v1.2M240.0,140.0v7.5M240.5,140.0v4.5M241.0,140.0v2.2M241.5,140.0v4.3M242.0,140.0v4.1M242.5,140.0v5.0M243.0,140.0v3.7M243.5,140.0v8.9M244.0,140.0v7.3M244.5,140.0v3.4M245.0,140.0v4.6M245.5,140.0v5.4M246.0,140.0v2.1M246.5,140.0v1.9M247.0,140.0v1.9M247.5,140.0v1.8M248.0,140.0v5.2M248.5,140.0v3.9M249.0,140.0v2.0M249.5,140.0v1.2M250.0,140.0v0.4M250.5,140.0v5.7M251.0,140.0v4.0M251.5,140.0v3.7M252.5,140.0v4.5M253.0,140.0v5.4M253.5,140.0v3.2M254.0,140.0v2.3M254.5,140.0v4.6M255.0,140.0v4.8M255.5,140.0v2.4M256.0,140.0v4.8M257.0,140.0v3.4M258.0,140.0v1.8M258.5,140.0v1.8M259.0,140.0v5.3M259.5,140.0v0.5M260.5,140.0v3.7M261.0,140.0v0.7M261.5,140.0v3.3M262.0,140.0v6.0M262.5,140.0v3.7M263.0,140.0v4.7M263.5,140.0v0.7M264.0,140.0v2.2M264.5,140.0v4.2M265.0,140.0v3.2M265.5,140.0v2.7M266.0,140.0v5.8M266.5,140.0v1.5M267.0,140.0v2.5M267.5,140.0v1.4M268.0,140.0v1.7M268.5,140.0v4.2M270.0,140.0v4.6M270.5,140.0v3.9M271.0,140.0v3.9M271.5,140.0v1.2M272.0,140.0v2.9M272.5,140.0v3.0M273.5,140.0v5.1M274.0,140.0v0.7M274.5,140.0v5.0M275.0,140.0v5.0M275.5,140.0v2.7M276.0,140.0v1.1M276.5,140.0v5.6M277.0,140.0v0.5M277.5,140.0v1.1M278.0,140.0v4.2M278.5,140.0v2.3M279.0,140.0v2.5M279.5,140.0v2.4M280.0,140.0v4.2M280.5,140.0v2.3M281.0,140.0v2.0M281.5,140.0v3.8M282.0,140.0v5.9M283.0,140.0v1.9M283.5,140.0v0.6M284.0,140.0v5.1M284.5,140.0v2.2M285.0,140.0v4.6M285.5,140.0v4.3M286.0,140.0v3.3M286.5,140.0v4.6M287.0,140.0v1.5M287.5,140.0v1.8M288.0,140.0v4.8M288.5,140.0v4.9M289.0,140.0v3.4M289.5,140.0v5.8M290.0,140.0v6.2M290.5,140.0v3.3M291.0,140.0v2.4M291.5,140.0v4.0M292.0,140.0v5.5M292.5,140.0v3.2M293.0,140.0v1.4M293.5,140.0v5.9M294.0,140.0v3.1M294.5,140.0v4.3M295.0,140.0v2.3M295.5,140.0v2.2M296.0,140.0v2.1M296.5,140.0v4.7M297.0,140.0v1.7M297.5,140.0v2.0M298.5,140.0v2.2M299.0,140.0v5.5M299.5,140.0v1.9M300.0,140.0v3.7M300.5,140.0v9.4M301.0,140.0v7.5M301.5,140.0v5.5M302.0,140.0v10.2M302.5,140.0v8.6M303.0,140.0v5.0M303.5,140.0v6.5M304.0,140.0v9.9M305.0,140.0v7.0M305.5,140.0v5.9M306.0,140.0v3.9M306.5,140.0v1.4M307.0,140.0v1.2M307.5,140.0v5.3M308.0,140.0v3.1M308.5,140.0v7.4M309.0,140.0v10.8M309.5,140.0v7.3M310.0,140.0v8.6M310.5,140.0v6.0M311.0,140.0v8.3M311.5,140.0v5.8M312.0,140.0v2.7M312.5,140.0v5.6M313.0,140.0v5.1M313.5,140.0v6.8M314.0,140.0v11.6M314.5,140.0v4.6M315.0,140.0v5.0M315.5,140.0v9.0M316.0,140.0v3.7M316.5,140.0v1.9M317.0,140.0v4.5M317.5,140.0v2.3M318.0,140.0v3.7M318.5,140.0v12.1M319.0,140.0v8.4M319.5,140.0v8.9M320.0,140.0v1.9M320.5,140.0v1.9M321.0,140.0v1.1M321.5,140.0v0.4M322.0,140.0v0.7M322.5,140.0v4.0M323.0,140.0v3.8M323.5,140.0v3.4M324.0,140.0v3.3M324.5,140.0v3.4M325.0,140.0v3.3M325.5,140.0v1.8M326.0,140.0v4.2M326.5,140.0v2.6M327.0,140.0v2.7M327.5,140.0v3.7M328.0,140.0v2.8M328.5,140.0v1.7M329.0,140.0v1.6M329.5,140.0v1.4M330.0,140.0v1.4M330.5,140.0v0.7M331.0,140.0v1.5M331.5,140.0v3.8M332.5,140.0v2.3M333.0,140.0v2.3M333.5,140.0v3.1M334.5,140.0v3.8M335.0,140.0v2.3M335.5,140.0v4.0M336.0,140.0v4.1M337.0,140.0v2.5M337.5,140.0v2.3M338.5,140.0v2.4M339.0,140.0v2.2M339.5,140.0v3.1M340.0,140.0v1.7M340.5,140.0v2.2M341.0,140.0v1.2M341.5,140.0v1.4M342.0,140.0v2.2M342.5,140.0v3.0M343.0,140.0v1.5M343.5,140.0v1.1M344.0,140.0v0.6M344.5,140.0v2.2M345.0,140.0v3.7M345.5,140.0v1.8M346.0,140.0v0.9M347.0,140.0v0.9M347.5,140.0v3.1M348.0,140.0v2.3M348.5,140.0v1.7M349.0,140.0v3.0M349.5,140.0v4.1M350.0,140.0v0.5M350.5,140.0v2.4M351.5,140.0v1.9M352.0,140.0v4.1M353.0,140.0v0.8M353.5,140.0v1.0M354.0,140.0v1.1M354.5,140.0v3.7M355.0,140.0v3.6M355.5,140.0v0.8M356.5,140.0v3.9M357.5,140.0v3.5M358.5,140.0v3.3M359.0,140.0v3.2M360.0,140.0v3.8M361.0,140.0v2.7M361.5,140.0v3.1M362.0,140.0v1.5M362.5,140.0v0.9M363.0,140.0v3.6M363.5,140.0v3.1M364.0,140.0v3.9M364.5,140.0v3.0M365.0,140.0v1.8M366.0,140.0v2.4M366.5,140.0v1.0M367.0,140.0v0.7M368.0,140.0v1.5M368.5,140.0v4.0M369.0,140.0v3.3M369.5,140.0v3.0M370.0,140.0v3.2M370.5,140.0v0.7M371.0,140.0v3.4M371.5,140.0v0.8M372.0,140.0v4.0M372.5,140.0v3.8M373.5,140.0v2.2M374.5,140.0v2.3M375.0,140.0v0.6M375.5,140.0v2.3M386.0,140.0v6.9M386.5,140.0v6.6M387.0,140.0v3.7M387.5,140.0v4.9M388.0,140.0v0.6M389.0,140.0v4.0M389.5,140.0v2.7M390.0,140.0v5.1M390.5,140.0v5.2M391.5,140.0v2.6M392.0,140.0v0.5M392.5,140.0v1.8M393.0,140.0v1.5M393.5,140.0v1.9M394.0,140.0v2.4M394.5,140.0v2.0M396.5,140.0v1.6M397.0,140.0v1.7M397.5,140.0v2.6M398.0,140.0v1.1M400.5,140.0v1.2M401.0,140.0v1.0M401.5,140.0v0.4M402.0,140.0v1.1M402.5,140.0v1.4M403.0,140.0v0.8M403.5,140.0v2.0M404.0,140.0v3.6M404.5,140.0v1.4M405.0,140.0v0.6M405.5,140.0v4.4M406.0,140.0v3.6M407.0,140.0v0.8M407.5,140.0v3.8M408.0,140.0v0.9M408.5,140.0v0.9M409.0,140.0v0.8M409.5,140.0v2.6M410.0,140.0v1.2M410.5,140.0v2.2M411.0,140.0v2.5M411.5,140.0v3.7M412.0,140.0v4.3M412.5,140.0v0.4M413.0,140.0v0.9M413.5,140.0v3.9M414.0,140.0v3.4M414.5,140.0v2.3M415.0,140.0v2.4M415.5,140.0v1.1M416.0,140.0v2.1M416.5,140.0v2.5M417.0,140.0v2.8M418.0,140.0v1.5M418.5,140.0v2.0M419.0,140.0v2.3M419.5,140.0v2.6M420.0,140.0v2.1M421.0,140.0v3.6M421.5,140.0v1.0M422.0,140.0v1.9M422.5,140.0v0.5M423.5,140.0v0.9M424.0,140.0v3.5M424.5,140.0v0.5M425.0,140.0v2.3M425.5,140.0v1.7M426.0,140.0v1.0M426.5,140.0v2.7M427.0,140.0v2.9M427.5,140.0v4.1M428.0,140.0v2.0M428.5,140.0v0.9M429.0,140.0v1.2M429.5,140.0v2.1M430.0,140.0v3.0M430.5,140.0v1.4M431.0,140.0v1.8M431.5,140.0v5.9M432.0,140.0v2.1M432.5,140.0v2.3M433.0,140.0v2.2M433.5,140.0v1.8M434.0,140.0v1.9M435.0,140.0v2.1M435.5,140.0v3.0M436.5,140.0v0.9M437.0,140.0v2.7M437.5,140.0v2.1M438.0,140.0v1.4M439.5,140.0v2.8M440.0,140.0v1.8M441.0,140.0v1.2M442.0,140.0v1.3M442.5,140.0v2.4M443.0,140.0v0.8M443.5,140.0v1.7M444.0,140.0v1.5M456.0,140.0v2.8M456.5,140.0v1.8M457.0,140.0v2.5M457.5,140.0v2.2M458.0,140.0v2.6M458.5,140.0v1.3M459.5,140.0v1.8M460.0,140.0v1.8M460.5,140.0v0.9M461.5,140.0v0.6M462.0,140.0v2.7M462.5,140.0v2.7M463.0,140.0v3.0M463.5,140.0v1.1M464.0,140.0v1.6M464.5,140.0v3.8M465.0,140.0v2.0M465.5,140.0v2.0M466.0,140.0v0.8M466.5,140.0v1.6M467.0,140.0v7.9M467.5,140.0v7.1M468.0,140.0v6.0M468.5,140.0v10.2M469.0,140.0v2.4M469.5,140.0v6.1M470.0,140.0v1.7M470.5,140.0v2.8M471.0,140.0v4.6M471.5,140.0v11.8M472.0,140.0v9.2M472.5,140.0v7.0M473.0,140.0v11.4M473.5,140.0v3.2M474.0,140.0v7.7M475.0,140.0v7.4M475.5,140.0v4.6M476.0,140.0v6.8M476.5,140.0v8.0M477.0,140.0v9.4M477.5,140.0v0.8M478.0,140.0v8.7M478.5,140.0v5.2M479.0,140.0v1.4M479.5,140.0v3.9M480.5,140.0v3.2M481.0,140.0v4.3M482.5,140.0v4.7M483.0,140.0v1.1M483.5,140.0v4.8M484.0,140.0v2.4M484.5,140.0v0.8M485.0,140.0v3.4M485.5,140.0v3.7M486.0,140.0v3.7M486.5,140.0v5.1M487.0,140.0v5.4M487.5,140.0v5.0M488.0,140.0v4.0M488.5,140.0v4.7M489.0,140.0v1.2M489.5,140.0v3.1M490.0,140.0v2.3M490.5,140.0v1.5M491.0,140.0v5.4M491.5,140.0v1.6M492.0,140.0v2.3M492.5,140.0v4.5M493.0,140.0v4.9M493.5,140.0v6.1M494.0,140.0v2.4M494.5,140.0v1.6M495.0,140.0v2.2M495.5,140.0v2.9M496.5,140.0v2.6M497.0,140.0v0.6M497.5,140.0v6.1M498.0,140.0v5.5M499.0,140.0v5.8M499.5,140.0v5.0M500.0,140.0v0.8M501.0,140.0v2.7M501.5,140.0v1.4M502.0,140.0v0.6M503.0,140.0v1.7M503.5,140.0v1.1M504.0,140.0v2.1M504.5,140.0v2.7M505.0,140.0v0.7M505.5,140.0v1.7M506.0,140.0v2.9M506.5,140.0v1.3M507.0,140.0v2.3M507.5,140.0v2.6M508.0,140.0v0.6M508.5,140.0v1.3M509.0,140.0v1.6M509.5,140.0v1.1M510.0,140.0v1.5M510.5,140.0v1.1M511.0,140.0v1.7M511.5,140.0v0.7M512.0,140.0v0.9M512.5,140.0v0.6M513.0,140.0v2.0M513.5,140.0v2.2M514.0,140.0v1.0M514.5,140.0v0.8M516.0,140.0v0.9M516.5,140.0v1.1M517.0,140.0v2.7M517.5,140.0v2.6M518.0,140.0v2.9M518.5,140.0v1.8M519.0,140.0v0.8M520.5,140.0v1.3M521.0,140.0v1.8M521.5,140.0v1.9M522.0,140.0v1.8M522.5,140.0v3.0M523.0,140.0v1.3M523.5,140.0v6.0M524.0,140.0v1.2M524.5,140.0v3.9M525.5,140.0v4.3M526.0,140.0v4.0M526.5,140.0v4.2M527.0,140.0v4.8M527.5,140.0v6.2M528.0,140.0v3.7M528.5,140.0v4.0M529.0,140.0v2.7M529.5,140.0v4.7M530.0,140.0v2.9M531.0,140.0v2.0M531.5,140.0v0.4M532.0,140.0v3.6M532.5,140.0v5.8M533.0,140.0v6.3M533.5,140.0v4.3M534.0,140.0v6.9M534.5,140.0v2.4M535.5,140.0v0.5M536.0,140.0v2.6M536.5,140.0v4.7M537.0,140.0v1.4M537.5,140.0v3.4M538.0,140.0v6.0M538.5,140.0v3.0M539.0,140.0v3.0M539.5,140.0v0.4M540.0,140.0v3.5M540.5,140.0v3.8M541.0,140.0v6.0M541.5,140.0v2.3M542.0,140.0v7.3M542.5,140.0v0.7M543.0,140.0v6.3M543.5,140.0v4.3M544.0,140.0v6.1M544.5,140.0v2.1M545.5,140.0v1.3M546.0,140.0v4.3M546.5,140.0v2.8M547.5,140.0v5.8M548.0,140.0v2.7M548.5,140.0v2.4M549.0,140.0v4.8M550.0,140.0v5.0M550.5,140.0v0.8M551.0,140.0v0.8M551.5,140.0v2.6M552.0,140.0v1.9M552.5,140.0v3.7M553.0,140.0v1.2M553.5,140.0v2.2M554.0,140.0v5.8M554.5,140.0v2.5M555.0,140.0v4.4M556.0,140.0v4.4M556.5,140.0v0.5M557.0,140.0v0.8M557.5,140.0v3.6M558.5,140.0v1.9M559.0,140.0v2.2M559.5,140.0v3.6M560.0,140.0v0.4M560.5,140.0v6.8M561.0,140.0v1.3M561.5,140.0v4.5M562.0,140.0v3.6M562.5,140.0v5.8M563.0,140.0v7.2M563.5,140.0v8.1M564.0,140.0v6.6M564.5,140.0v5.0M565.0,140.0v6.0M565.5,140.0v8.2M566.0,140.0v3.2M566.5,140.0v6.3M567.0,140.0v7.5M567.5,140.0v7.2M568.5,140.0v4.7M569.0,140.0v4.2M569.5,140.0v6.3M570.0,140.0v4.2M570.5,140.0v2.5M571.0,140.0v4.1M572.0,140.0v6.0M572.5,140.0v4.3M573.0,140.0v3.3M573.5,140.0v2.9M574.0,140.0v2.9M574.5,140.0v4.6M575.0,140.0v5.7M575.5,140.0v3.9M576.0,140.0v0.5M576.5,140.0v1.3M577.0,140.0v1.7M577.5,140.0v0.7M578.0,140.0v0.6M578.5,140.0v0.5M579.0,140.0v2.2M579.5,140.0v1.5M580.0,140.0v3.1M580.5,140.0v0.9M581.0,140.0v1.4M582.0,140.0v1.0M582.5,140.0v2.4M583.0,140.0v0.9M583.5,140.0v2.8M584.0,140.0v3.0M584.5,140.0v1.0M585.0,140.0v1.2M586.0,140.0v2.8M586.5,140.0v0.9M587.0,140.0v1.2M587.5,140.0v2.4M588.0,140.0v2.8M589.0,140.0v1.4M589.5,140.0v1.8M591.0,140.0v0.7M592.0,140.0v2.8M592.5,140.0v0.5M593.0,140.0v1.7M593.5,140.0v0.9M594.0,140.0v2.0M594.5,140.0v1.7M595.5,140.0v0.9M596.0,140.0v1.8M596.5,140.0v2.1M597.0,140.0v2.0M597.5,140.0v1.5M598.0,140.0v1.6M598.5,140.0v2.7M599.0,140.0v1.2M599.5,140.0v0.7M600.5,140.0v0.5M601.5,140.0v3.0M602.5,140.0v1.8M603.0,140.0v0.5M603.5,140.0v2.4M604.0,140.0v2.7M604.5,140.0v2.6M605.0,140.0v0.8M605.5,140.0v1.8M606.0,140.0v1.5M606.5,140.0v1.2M607.0,140.0v2.8M607.5,140.0v3.0M608.0,140.0v3.0M609.0,140.0v0.9M610.5,140.0v1.3M611.0,140.0v2.9M611.5,140.0v1.4M612.0,140.0v0.9M612.5,140.0v2.3M613.0,140.0v2.2M614.5,140.0v0.6M615.0,140.0v2.4M615.5,140.0v2.8M616.0,140.0v2.0M616.5,140.0v2.0M617.0,140.0v1.7M617.5,140.0v1.5M618.0,140.0v2.9M618.5,140.0v0.4M619.0,140.0v0.8M619.5,140.0v1.5M620.0,140.0v1.8M620.5,140.0v2.0M621.5,140.0v2.3M622.0,140.0v1.8M622.5,140.0v1.4M623.0,140.0v3.1M623.5,140.0v1.2M624.0,140.0v5.2M624.5,140.0v3.9M625.0,140.0v1.5M625.5,140.0v5.3M626.0,140.0v7.3M626.5,140.0v4.4M627.0,140.0v7.8M627.5,140.0v1.9M628.0,140.0v4.4M628.5,140.0v7.5M629.0,140.0v6.1M629.5,140.0v5.8M630.0,140.0v3.3M630.5,140.0v5.8M631.0,140.0v3.3M631.5,140.0v5.3M632.0,140.0v0.7M632.5,140.0v5.6M633.0,140.0v7.3M633.5,140.0v6.2" stroke="#b8b8b8" stroke-width="0.75" fill="none"/>
<rect x="105.90" y="92.30" width="1.2" height="41.90" fill="#e5262d"/>
<polygon points="112.00,134.20 112.20,96.60 113.20,97.50 113.80,134.20" fill="#e5262d"/>
<rect x="251.90" y="12.30" width="1.0" height="121.90" fill="#e5262d"/>
<polygon points="251.80,134.20 252.00,92.00 253.50,90.00 254.50,95.00 255.00,79.50 255.60,92.00 256.50,96.00 257.00,134.20" fill="#e5262d"/>
<polygon points="257.80,134.20 258.20,96.00 258.90,71.00 259.60,80.00 260.20,95.00 260.40,134.20" fill="#e5262d"/>
<polygon points="286.90,134.20 287.20,85.80 288.20,87.00 289.50,90.00 290.50,95.00 291.50,92.00 292.00,53.60 292.60,85.00 293.20,100.00 293.90,102.00 294.20,134.20" fill="#e5262d"/>
<rect x="291.55" y="53.60" width="0.9" height="80.60" fill="#e5262d"/>
<rect x="258.45" y="71.00" width="0.9" height="63.20" fill="#e5262d"/>
<rect x="449.00" y="79.30" width="0.8" height="54.90" fill="#e5262d"/>
<polygon points="319.30,134.20 319.60,83.00 320.30,84.00 320.80,93.00 321.80,95.00 322.00,134.20" fill="#e5262d"/>
<polygon points="441.90,134.20 441.90,95.00 442.50,70.00 443.00,48.80 443.80,31.50 444.40,26.70 445.00,50.00 445.40,64.00 446.30,83.50 447.00,88.00 447.70,91.00 448.50,85.00 449.20,77.70 449.70,90.00 450.20,97.00 450.80,134.20" fill="#e5262d"/>
<rect x="512.05" y="101.00" width="1.1" height="33.20" fill="#e5262d"/>
<polygon points="572.20,134.20 572.80,105.00 573.30,96.20 574.00,103.00 574.80,134.20" fill="#e5262d"/>
<rect x="627.30" y="79.40" width="1.2" height="54.80" fill="#e5262d"/>
<rect x="630.70" y="87.30" width="1.2" height="46.90" fill="#e5262d"/>
<rect x="102.85" y="140.0" width="0.9" height="11.00" fill="#3a5db4"/>
<rect x="253.35" y="140.0" width="1.3" height="12.00" fill="#3a5db4"/>
<polygon points="377.40,140.00 377.40,155.50 379.50,156.00 380.00,163.00 381.50,166.00 382.00,170.00 382.80,166.00 383.80,162.00 385.00,149.00 385.00,140.00" fill="#3a5db4"/>
<polygon points="444.40,140.00 444.40,147.00 446.30,154.60 448.30,160.40 451.20,165.20 454.00,167.10 456.00,168.00 456.00,140.00" fill="#3a5db4"/>
<rect x="530.80" y="140.0" width="0.8" height="10.90" fill="#3a5db4"/>
<rect x="562.05" y="140.0" width="0.9" height="11.40" fill="#3a5db4"/>
<rect x="83.20" y="134.2" width="48.60" height="5.80" fill="#231f20"/>
<text x="107.50" y="139.20" font-size="6.6" text-anchor="middle" fill="#fff" stroke="#fff" stroke-width="0.22"  >1</text>
<rect x="131.80" y="134.2" width="45.40" height="5.80" fill="#fff"/>
<text x="154.50" y="139.20" font-size="6.6" text-anchor="middle" fill="#231f20" stroke="#231f20" stroke-width="0.22"  >2</text>
<rect x="177.20" y="134.2" width="38.10" height="5.80" fill="#231f20"/>
<text x="196.25" y="139.20" font-size="6.6" text-anchor="middle" fill="#fff" stroke="#fff" stroke-width="0.22"  >3</text>
<rect x="215.30" y="134.2" width="36.80" height="5.80" fill="#fff"/>
<text x="233.70" y="139.20" font-size="6.6" text-anchor="middle" fill="#231f20" stroke="#231f20" stroke-width="0.22"  >4</text>
<rect x="252.10" y="134.2" width="34.70" height="5.80" fill="#231f20"/>
<text x="269.45" y="139.20" font-size="6.6" text-anchor="middle" fill="#fff" stroke="#fff" stroke-width="0.22"  >5</text>
<rect x="286.80" y="134.2" width="32.80" height="5.80" fill="#fff"/>
<text x="303.20" y="139.20" font-size="6.6" text-anchor="middle" fill="#231f20" stroke="#231f20" stroke-width="0.22"  >6</text>
<rect x="319.60" y="134.2" width="30.20" height="5.80" fill="#231f20"/>
<text x="334.70" y="139.20" font-size="6.6" text-anchor="middle" fill="#fff" stroke="#fff" stroke-width="0.22"  >7</text>
<rect x="349.80" y="134.2" width="27.60" height="5.80" fill="#fff"/>
<text x="363.60" y="139.20" font-size="6.6" text-anchor="middle" fill="#231f20" stroke="#231f20" stroke-width="0.22"  >8</text>
<rect x="377.40" y="134.2" width="27.10" height="5.80" fill="#231f20"/>
<text x="390.95" y="139.20" font-size="6.6" text-anchor="middle" fill="#fff" stroke="#fff" stroke-width="0.22"  >9</text>
<rect x="404.50" y="134.2" width="24.90" height="5.80" fill="#fff"/>
<text x="416.95" y="139.20" font-size="6.6" text-anchor="middle" fill="#231f20" stroke="#231f20" stroke-width="0.22"  >10</text>
<rect x="429.40" y="134.2" width="25.80" height="5.80" fill="#231f20"/>
<text x="442.30" y="139.20" font-size="6.6" text-anchor="middle" fill="#fff" stroke="#fff" stroke-width="0.22"  >11</text>
<rect x="455.20" y="134.2" width="25.70" height="5.80" fill="#fff"/>
<text x="468.05" y="139.20" font-size="6.6" text-anchor="middle" fill="#231f20" stroke="#231f20" stroke-width="0.22"  >12</text>
<rect x="480.90" y="134.2" width="22.10" height="5.80" fill="#231f20"/>
<text x="491.95" y="139.20" font-size="6.6" text-anchor="middle" fill="#fff" stroke="#fff" stroke-width="0.22"  >13</text>
<rect x="503.00" y="134.2" width="20.00" height="5.80" fill="#fff"/>
<text x="513.00" y="139.20" font-size="6.6" text-anchor="middle" fill="#231f20" stroke="#231f20" stroke-width="0.22"  >14</text>
<rect x="523.00" y="134.2" width="19.70" height="5.80" fill="#231f20"/>
<text x="532.85" y="139.20" font-size="6.6" text-anchor="middle" fill="#fff" stroke="#fff" stroke-width="0.22"  >15</text>
<rect x="542.70" y="134.2" width="17.50" height="5.80" fill="#fff"/>
<text x="551.45" y="139.20" font-size="6.6" text-anchor="middle" fill="#231f20" stroke="#231f20" stroke-width="0.22"  >16</text>
<rect x="560.20" y="134.2" width="16.10" height="5.80" fill="#231f20"/>
<text x="568.25" y="139.20" font-size="6.6" text-anchor="middle" fill="#fff" stroke="#fff" stroke-width="0.22"  >17</text>
<rect x="576.30" y="134.2" width="14.50" height="5.80" fill="#fff"/>
<text x="583.55" y="139.20" font-size="6.6" text-anchor="middle" fill="#231f20" stroke="#231f20" stroke-width="0.22"  >18</text>
<rect x="590.80" y="134.2" width="12.30" height="5.80" fill="#231f20"/>
<text x="596.95" y="139.20" font-size="6.6" text-anchor="middle" fill="#fff" stroke="#fff" stroke-width="0.22"  >19</text>
<rect x="603.10" y="134.2" width="12.00" height="5.80" fill="#fff"/>
<text x="609.10" y="139.20" font-size="6.0" text-anchor="middle" fill="#231f20" stroke="#231f20" stroke-width="0.22"  >20</text>
<rect x="615.10" y="134.2" width="9.20" height="5.80" fill="#231f20"/>
<text x="619.70" y="139.20" font-size="6.0" text-anchor="middle" fill="#fff" stroke="#fff" stroke-width="0.22"  >21</text>
<rect x="624.30" y="134.2" width="9.90" height="5.80" fill="#fff"/>
<text x="629.25" y="139.20" font-size="6.0" text-anchor="middle" fill="#231f20" stroke="#231f20" stroke-width="0.22"  >22</text>
<rect x="83.20" y="134.2" width="551.00" height="5.80" fill="none" stroke="#231f20" stroke-width="0.8"/>
<text x="106.20" y="88.00" font-size="8.1" text-anchor="middle" fill="#1a1a1a" stroke="#1a1a1a" stroke-width="0.22" font-style="italic" >NOTCH2</text>
<text x="251.90" y="11.00" font-size="8.1" text-anchor="middle" fill="#1a1a1a" stroke="#1a1a1a" stroke-width="0.22" font-style="italic" >TERT</text>
<text x="263.10" y="64.30" font-size="8.1" text-anchor="middle" fill="#1a1a1a" stroke="#1a1a1a" stroke-width="0.22" font-style="italic" >SKP2</text>
<text x="291.80" y="50.40" font-size="8.1" text-anchor="middle" fill="#1a1a1a" stroke="#1a1a1a" stroke-width="0.22"  >6p22.2</text>
<text x="319.70" y="71.20" font-size="8.1" text-anchor="middle" fill="#1a1a1a" stroke="#1a1a1a" stroke-width="0.22"  >7p22.3</text>
<text x="322.90" y="80.20" font-size="8.1" text-anchor="middle" fill="#1a1a1a" stroke="#1a1a1a" stroke-width="0.22" font-style="italic" >NDUFA4</text>
<text x="444.30" y="22.80" font-size="8.1" text-anchor="middle" fill="#1a1a1a" stroke="#1a1a1a" stroke-width="0.22" font-style="italic" >GAB2</text>
<text x="430.00" y="41.80" font-size="8.1" text-anchor="middle" fill="#1a1a1a" stroke="#1a1a1a" stroke-width="0.22" font-style="italic" >CCND1</text>
<text x="455.30" y="76.00" font-size="8.1" text-anchor="middle" fill="#1a1a1a" stroke="#1a1a1a" stroke-width="0.22" font-style="italic" >YAP1</text>
<text x="512.00" y="89.70" font-size="8.1" text-anchor="middle" fill="#1a1a1a" stroke="#1a1a1a" stroke-width="0.22" font-style="italic" >ARF6</text>
<text x="512.00" y="99.70" font-size="8.1" text-anchor="middle" fill="#1a1a1a" stroke="#1a1a1a" stroke-width="0.22" font-style="italic" >SOS2</text>
<text x="573.00" y="93.70" font-size="8.1" text-anchor="middle" fill="#1a1a1a" stroke="#1a1a1a" stroke-width="0.22"  >17q24.2</text>
<text x="628.00" y="68.20" font-size="8.1" text-anchor="middle" fill="#1a1a1a" stroke="#1a1a1a" stroke-width="0.22" font-style="italic" >CRKL</text>
<text x="630.30" y="77.90" font-size="8.1" text-anchor="middle" fill="#1a1a1a" stroke="#1a1a1a" stroke-width="0.22" font-style="italic" >SOX10</text>
<text x="381.70" y="180.30" font-size="8.1" text-anchor="middle" fill="#1a1a1a" stroke="#1a1a1a" stroke-width="0.22" font-style="italic" >CDKN2A/CDKN2B</text>
<text x="453.40" y="180.70" font-size="8.1" text-anchor="middle" fill="#1a1a1a" stroke="#1a1a1a" stroke-width="0.22" font-style="italic" >ATM</text>
<text x="562.70" y="162.20" font-size="8.1" text-anchor="middle" fill="#1a1a1a" stroke="#1a1a1a" stroke-width="0.22" font-style="italic" >TP53</text>
<text x="0.60" y="199.70" font-size="11.5" text-anchor="start" fill="#000" font-weight="bold" >b</text>
<rect x="61.00" y="210.50" width="9.23" height="7.76" fill="rgb(226, 225, 240)"/>
<rect x="69.78" y="210.50" width="26.80" height="7.76" fill="rgb(64, 84, 166)"/>
<rect x="96.13" y="210.50" width="18.02" height="7.76" fill="rgb(226, 225, 240)"/>
<rect x="113.70" y="210.50" width="9.23" height="7.76" fill="rgb(251, 232, 234)"/>
<rect x="122.48" y="210.50" width="9.23" height="7.76" fill="rgb(226, 225, 240)"/>
<rect x="131.26" y="210.50" width="9.23" height="7.76" fill="rgb(255, 255, 255)"/>
<rect x="140.05" y="210.50" width="35.58" height="7.76" fill="rgb(226, 225, 240)"/>
<rect x="175.18" y="210.50" width="18.02" height="7.76" fill="rgb(165, 167, 213)"/>
<rect x="192.75" y="210.50" width="9.23" height="7.76" fill="rgb(255, 255, 255)"/>
<rect x="201.53" y="210.50" width="9.23" height="7.76" fill="rgb(108, 114, 188)"/>
<rect x="210.31" y="210.50" width="9.23" height="7.76" fill="rgb(226, 225, 240)"/>
<rect x="219.09" y="210.50" width="9.23" height="7.76" fill="rgb(255, 255, 255)"/>
<rect x="227.88" y="210.50" width="18.02" height="7.76" fill="rgb(251, 232, 234)"/>
<rect x="245.44" y="210.50" width="9.23" height="7.76" fill="rgb(108, 114, 188)"/>
<rect x="254.23" y="210.50" width="9.23" height="7.76" fill="rgb(226, 225, 240)"/>
<rect x="263.01" y="210.50" width="9.23" height="7.76" fill="rgb(255, 255, 255)"/>
<rect x="271.79" y="210.50" width="9.23" height="7.76" fill="rgb(64, 84, 166)"/>
<rect x="280.57" y="210.50" width="9.23" height="7.76" fill="rgb(165, 167, 213)"/>
<rect x="289.36" y="210.50" width="9.23" height="7.76" fill="rgb(108, 114, 188)"/>
<rect x="298.14" y="210.50" width="9.23" height="7.76" fill="rgb(255, 255, 255)"/>
<rect x="306.92" y="210.50" width="9.23" height="7.76" fill="rgb(108, 114, 188)"/>
<rect x="315.71" y="210.50" width="9.23" height="7.76" fill="rgb(165, 167, 213)"/>
<rect x="324.49" y="210.50" width="9.23" height="7.76" fill="rgb(251, 232, 234)"/>
<rect x="333.27" y="210.50" width="35.58" height="7.76" fill="rgb(255, 255, 255)"/>
<rect x="368.40" y="210.50" width="9.23" height="7.76" fill="rgb(226, 225, 240)"/>
<rect x="377.19" y="210.50" width="9.23" height="7.76" fill="rgb(250, 212, 214)"/>
<rect x="385.97" y="210.50" width="9.23" height="7.76" fill="rgb(226, 225, 240)"/>
<rect x="394.75" y="210.50" width="9.23" height="7.76" fill="rgb(108, 114, 188)"/>
<rect x="403.54" y="210.50" width="9.23" height="7.76" fill="rgb(64, 84, 166)"/>
<rect x="412.32" y="210.50" width="9.23" height="7.76" fill="rgb(251, 232, 234)"/>
<rect x="421.10" y="210.50" width="9.23" height="7.76" fill="rgb(226, 225, 240)"/>
<rect x="429.89" y="210.50" width="9.23" height="7.76" fill="rgb(255, 255, 255)"/>
<rect x="438.67" y="210.50" width="18.02" height="7.76" fill="rgb(64, 84, 166)"/>
<rect x="456.23" y="210.50" width="9.23" height="7.76" fill="rgb(226, 225, 240)"/>
<rect x="465.02" y="210.50" width="9.23" height="7.76" fill="rgb(250, 212, 214)"/>
<rect x="473.80" y="210.50" width="9.23" height="7.76" fill="rgb(226, 225, 240)"/>
<rect x="482.58" y="210.50" width="18.02" height="7.76" fill="rgb(108, 114, 188)"/>
<rect x="500.15" y="210.50" width="9.23" height="7.76" fill="rgb(226, 225, 240)"/>
<rect x="508.93" y="210.50" width="9.23" height="7.76" fill="rgb(251, 232, 234)"/>
<rect x="517.72" y="210.50" width="61.93" height="7.76" fill="rgb(255, 255, 255)"/>
<rect x="579.20" y="210.50" width="8.78" height="7.76" fill="rgb(226, 225, 240)"/>
<rect x="61.00" y="217.81" width="9.23" height="7.76" fill="rgb(245, 162, 167)"/>
<rect x="69.78" y="217.81" width="26.80" height="7.76" fill="rgb(238, 92, 98)"/>
<rect x="96.13" y="217.81" width="9.23" height="7.76" fill="rgb(226, 225, 240)"/>
<rect x="104.91" y="217.81" width="26.80" height="7.76" fill="rgb(251, 232, 234)"/>
<rect x="131.26" y="217.81" width="9.23" height="7.76" fill="rgb(255, 255, 255)"/>
<rect x="140.05" y="217.81" width="26.80" height="7.76" fill="rgb(240, 124, 130)"/>
<rect x="166.40" y="217.81" width="26.80" height="7.76" fill="rgb(238, 92, 98)"/>
<rect x="192.75" y="217.81" width="9.23" height="7.76" fill="rgb(255, 255, 255)"/>
<rect x="201.53" y="217.81" width="18.02" height="7.76" fill="rgb(245, 162, 167)"/>
<rect x="219.09" y="217.81" width="9.23" height="7.76" fill="rgb(240, 124, 130)"/>
<rect x="227.88" y="217.81" width="18.02" height="7.76" fill="rgb(238, 92, 98)"/>
<rect x="245.44" y="217.81" width="9.23" height="7.76" fill="rgb(245, 162, 167)"/>
<rect x="254.23" y="217.81" width="18.02" height="7.76" fill="rgb(198, 198, 229)"/>
<rect x="271.79" y="217.81" width="9.23" height="7.76" fill="rgb(240, 124, 130)"/>
<rect x="280.57" y="217.81" width="9.23" height="7.76" fill="rgb(255, 255, 255)"/>
<rect x="289.36" y="217.81" width="9.23" height="7.76" fill="rgb(245, 162, 167)"/>
<rect x="298.14" y="217.81" width="9.23" height="7.76" fill="rgb(255, 255, 255)"/>
<rect x="306.92" y="217.81" width="9.23" height="7.76" fill="rgb(238, 92, 98)"/>
<rect x="315.71" y="217.81" width="9.23" height="7.76" fill="rgb(251, 232, 234)"/>
<rect x="324.49" y="217.81" width="9.23" height="7.76" fill="rgb(165, 167, 213)"/>
<rect x="333.27" y="217.81" width="35.58" height="7.76" fill="rgb(255, 255, 255)"/>
<rect x="368.40" y="217.81" width="9.23" height="7.76" fill="rgb(226, 225, 240)"/>
<rect x="377.19" y="217.81" width="9.23" height="7.76" fill="rgb(255, 255, 255)"/>
<rect x="385.97" y="217.81" width="9.23" height="7.76" fill="rgb(226, 225, 240)"/>
<rect x="394.75" y="217.81" width="9.23" height="7.76" fill="rgb(251, 232, 234)"/>
<rect x="403.54" y="217.81" width="9.23" height="7.76" fill="rgb(226, 225, 240)"/>
<rect x="412.32" y="217.81" width="9.23" height="7.76" fill="rgb(251, 232, 234)"/>
<rect x="421.10" y="217.81" width="9.23" height="7.76" fill="rgb(226, 225, 240)"/>
<rect x="429.89" y="217.81" width="9.23" height="7.76" fill="rgb(255, 255, 255)"/>
<rect x="438.67" y="217.81" width="9.23" height="7.76" fill="rgb(250, 212, 214)"/>
<rect x="447.45" y="217.81" width="9.23" height="7.76" fill="rgb(245, 162, 167)"/>
<rect x="456.23" y="217.81" width="9.23" height="7.76" fill="rgb(238, 92, 98)"/>
<rect x="465.02" y="217.81" width="9.23" height="7.76" fill="rgb(251, 232, 234)"/>
<rect x="473.80" y="217.81" width="9.23" height="7.76" fill="rgb(255, 255, 255)"/>
<rect x="482.58" y="217.81" width="18.02" height="7.76" fill="rgb(240, 124, 130)"/>
<rect x="500.15" y="217.81" width="9.23" height="7.76" fill="rgb(250, 212, 214)"/>
<rect x="508.93" y="217.81" width="9.23" height="7.76" fill="rgb(108, 114, 188)"/>
<rect x="517.72" y="217.81" width="26.80" height="7.76" fill="rgb(255, 255, 255)"/>
<rect x="544.07" y="217.81" width="9.23" height="7.76" fill="rgb(165, 167, 213)"/>
<rect x="552.85" y="217.81" width="26.80" height="7.76" fill="rgb(255, 255, 255)"/>
<rect x="579.20" y="217.81" width="8.78" height="7.76" fill="rgb(226, 225, 240)"/>
<rect x="61.00" y="225.13" width="35.58" height="7.76" fill="rgb(88, 98, 174)"/>
<rect x="96.13" y="225.13" width="18.02" height="7.76" fill="rgb(226, 225, 240)"/>
<rect x="113.70" y="225.13" width="18.02" height="7.76" fill="rgb(251, 232, 234)"/>
<rect x="131.26" y="225.13" width="9.23" height="7.76" fill="rgb(255, 255, 255)"/>
<rect x="140.05" y="225.13" width="9.23" height="7.76" fill="rgb(165, 167, 213)"/>
<rect x="148.83" y="225.13" width="18.02" height="7.76" fill="rgb(226, 225, 240)"/>
<rect x="166.40" y="225.13" width="18.02" height="7.76" fill="rgb(255, 255, 255)"/>
<rect x="183.96" y="225.13" width="9.23" height="7.76" fill="rgb(251, 232, 234)"/>
<rect x="192.75" y="225.13" width="18.02" height="7.76" fill="rgb(255, 255, 255)"/>
<rect x="210.31" y="225.13" width="9.23" height="7.76" fill="rgb(226, 225, 240)"/>
<rect x="219.09" y="225.13" width="9.23" height="7.76" fill="rgb(255, 255, 255)"/>
<rect x="227.88" y="225.13" width="18.02" height="7.76" fill="rgb(251, 232, 234)"/>
<rect x="245.44" y="225.13" width="9.23" height="7.76" fill="rgb(108, 114, 188)"/>
<rect x="254.23" y="225.13" width="9.23" height="7.76" fill="rgb(198, 198, 229)"/>
<rect x="263.01" y="225.13" width="9.23" height="7.76" fill="rgb(255, 255, 255)"/>
<rect x="271.79" y="225.13" width="9.23" height="7.76" fill="rgb(108, 114, 188)"/>
<rect x="280.57" y="225.13" width="9.23" height="7.76" fill="rgb(255, 255, 255)"/>
<rect x="289.36" y="225.13" width="9.23" height="7.76" fill="rgb(64, 84, 166)"/>
<rect x="298.14" y="225.13" width="18.02" height="7.76" fill="rgb(255, 255, 255)"/>
<rect x="315.71" y="225.13" width="9.23" height="7.76" fill="rgb(165, 167, 213)"/>
<rect x="324.49" y="225.13" width="44.36" height="7.76" fill="rgb(255, 255, 255)"/>
<rect x="368.40" y="225.13" width="9.23" height="7.76" fill="rgb(226, 225, 240)"/>
<rect x="377.19" y="225.13" width="9.23" height="7.76" fill="rgb(64, 84, 166)"/>
<rect x="385.97" y="225.13" width="9.23" height="7.76" fill="rgb(226, 225, 240)"/>
<rect x="394.75" y="225.13" width="9.23" height="7.76" fill="rgb(251, 232, 234)"/>
<rect x="403.54" y="225.13" width="18.02" height="7.76" fill="rgb(250, 212, 214)"/>
<rect x="421.10" y="225.13" width="9.23" height="7.76" fill="rgb(226, 225, 240)"/>
<rect x="429.89" y="225.13" width="9.23" height="7.76" fill="rgb(255, 255, 255)"/>
<rect x="438.67" y="225.13" width="18.02" height="7.76" fill="rgb(226, 225, 240)"/>
<rect x="456.23" y="225.13" width="9.23" height="7.76" fill="rgb(255, 255, 255)"/>
<rect x="465.02" y="225.13" width="9.23" height="7.76" fill="rgb(165, 167, 213)"/>
<rect x="473.80" y="225.13" width="9.23" height="7.76" fill="rgb(255, 255, 255)"/>
<rect x="482.58" y="225.13" width="9.23" height="7.76" fill="rgb(226, 225, 240)"/>
<rect x="491.37" y="225.13" width="9.23" height="7.76" fill="rgb(255, 255, 255)"/>
<rect x="500.15" y="225.13" width="18.02" height="7.76" fill="rgb(250, 212, 214)"/>
<rect x="517.72" y="225.13" width="61.93" height="7.76" fill="rgb(255, 255, 255)"/>
<rect x="579.20" y="225.13" width="8.78" height="7.76" fill="rgb(226, 225, 240)"/>
<rect x="61.00" y="232.44" width="9.23" height="7.76" fill="rgb(88, 98, 174)"/>
<rect x="69.78" y="232.44" width="9.23" height="7.76" fill="rgb(255, 255, 255)"/>
<rect x="78.57" y="232.44" width="18.02" height="7.76" fill="rgb(251, 232, 234)"/>
<rect x="96.13" y="232.44" width="18.02" height="7.76" fill="rgb(226, 225, 240)"/>
<rect x="113.70" y="232.44" width="18.02" height="7.76" fill="rgb(251, 232, 234)"/>
<rect x="131.26" y="232.44" width="9.23" height="7.76" fill="rgb(255, 255, 255)"/>
<rect x="140.05" y="232.44" width="9.23" height="7.76" fill="rgb(165, 167, 213)"/>
<rect x="148.83" y="232.44" width="18.02" height="7.76" fill="rgb(226, 225, 240)"/>
<rect x="166.40" y="232.44" width="18.02" height="7.76" fill="rgb(255, 255, 255)"/>
<rect x="183.96" y="232.44" width="9.23" height="7.76" fill="rgb(251, 232, 234)"/>
<rect x="192.75" y="232.44" width="9.23" height="7.76" fill="rgb(226, 225, 240)"/>
<rect x="201.53" y="232.44" width="9.23" height="7.76" fill="rgb(255, 255, 255)"/>
<rect x="210.31" y="232.44" width="9.23" height="7.76" fill="rgb(226, 225, 240)"/>
<rect x="219.09" y="232.44" width="9.23" height="7.76" fill="rgb(255, 255, 255)"/>
<rect x="227.88" y="232.44" width="18.02" height="7.76" fill="rgb(251, 232, 234)"/>
<rect x="245.44" y="232.44" width="9.23" height="7.76" fill="rgb(165, 167, 213)"/>
<rect x="254.23" y="232.44" width="9.23" height="7.76" fill="rgb(250, 212, 214)"/>
<rect x="263.01" y="232.44" width="9.23" height="7.76" fill="rgb(255, 255, 255)"/>
<rect x="271.79" y="232.44" width="9.23" height="7.76" fill="rgb(226, 225, 240)"/>
<rect x="280.57" y="232.44" width="9.23" height="7.76" fill="rgb(255, 255, 255)"/>
<rect x="289.36" y="232.44" width="9.23" height="7.76" fill="rgb(226, 225, 240)"/>
<rect x="298.14" y="232.44" width="9.23" height="7.76" fill="rgb(255, 255, 255)"/>
<rect x="306.92" y="232.44" width="9.23" height="7.76" fill="rgb(251, 232, 234)"/>
<rect x="315.71" y="232.44" width="9.23" height="7.76" fill="rgb(108, 114, 188)"/>
<rect x="324.49" y="232.44" width="44.36" height="7.76" fill="rgb(255, 255, 255)"/>
<rect x="368.40" y="232.44" width="9.23" height="7.76" fill="rgb(165, 167, 213)"/>
<rect x="377.19" y="232.44" width="18.02" height="7.76" fill="rgb(226, 225, 240)"/>
<rect x="394.75" y="232.44" width="9.23" height="7.76" fill="rgb(251, 232, 234)"/>
<rect x="403.54" y="232.44" width="18.02" height="7.76" fill="rgb(250, 212, 214)"/>
<rect x="421.10" y="232.44" width="9.23" height="7.76" fill="rgb(226, 225, 240)"/>
<rect x="429.89" y="232.44" width="9.23" height="7.76" fill="rgb(255, 255, 255)"/>
<rect x="438.67" y="232.44" width="18.02" height="7.76" fill="rgb(226, 225, 240)"/>
<rect x="456.23" y="232.44" width="9.23" height="7.76" fill="rgb(255, 255, 255)"/>
<rect x="465.02" y="232.44" width="9.23" height="7.76" fill="rgb(165, 167, 213)"/>
<rect x="473.80" y="232.44" width="9.23" height="7.76" fill="rgb(255, 255, 255)"/>
<rect x="482.58" y="232.44" width="18.02" height="7.76" fill="rgb(108, 114, 188)"/>
<rect x="500.15" y="232.44" width="9.23" height="7.76" fill="rgb(250, 212, 214)"/>
<rect x="508.93" y="232.44" width="35.58" height="7.76" fill="rgb(255, 255, 255)"/>
<rect x="544.07" y="232.44" width="9.23" height="7.76" fill="rgb(165, 167, 213)"/>
<rect x="552.85" y="232.44" width="26.80" height="7.76" fill="rgb(255, 255, 255)"/>
<rect x="579.20" y="232.44" width="8.78" height="7.76" fill="rgb(226, 225, 240)"/>
<rect x="61.00" y="239.76" width="9.23" height="7.76" fill="rgb(226, 225, 240)"/>
<rect x="69.78" y="239.76" width="9.23" height="7.76" fill="rgb(255, 255, 255)"/>
<rect x="78.57" y="239.76" width="18.02" height="7.76" fill="rgb(251, 232, 234)"/>
<rect x="96.13" y="239.76" width="18.02" height="7.76" fill="rgb(226, 225, 240)"/>
<rect x="113.70" y="239.76" width="18.02" height="7.76" fill="rgb(251, 232, 234)"/>
<rect x="131.26" y="239.76" width="9.23" height="7.76" fill="rgb(255, 255, 255)"/>
<rect x="140.05" y="239.76" width="9.23" height="7.76" fill="rgb(165, 167, 213)"/>
<rect x="148.83" y="239.76" width="18.02" height="7.76" fill="rgb(226, 225, 240)"/>
<rect x="166.40" y="239.76" width="18.02" height="7.76" fill="rgb(255, 255, 255)"/>
<rect x="183.96" y="239.76" width="9.23" height="7.76" fill="rgb(251, 232, 234)"/>
<rect x="192.75" y="239.76" width="18.02" height="7.76" fill="rgb(255, 255, 255)"/>
<rect x="210.31" y="239.76" width="9.23" height="7.76" fill="rgb(226, 225, 240)"/>
<rect x="219.09" y="239.76" width="9.23" height="7.76" fill="rgb(165, 167, 213)"/>
<rect x="227.88" y="239.76" width="18.02" height="7.76" fill="rgb(251, 232, 234)"/>
<rect x="245.44" y="239.76" width="9.23" height="7.76" fill="rgb(245, 162, 167)"/>
<rect x="254.23" y="239.76" width="9.23" height="7.76" fill="rgb(250, 212, 214)"/>
<rect x="263.01" y="239.76" width="9.23" height="7.76" fill="rgb(255, 255, 255)"/>
<rect x="271.79" y="239.76" width="9.23" height="7.76" fill="rgb(108, 114, 188)"/>
<rect x="280.57" y="239.76" width="9.23" height="7.76" fill="rgb(255, 255, 255)"/>
<rect x="289.36" y="239.76" width="9.23" height="7.76" fill="rgb(226, 225, 240)"/>
<rect x="298.14" y="239.76" width="9.23" height="7.76" fill="rgb(251, 232, 234)"/>
<rect x="306.92" y="239.76" width="9.23" height="7.76" fill="rgb(255, 255, 255)"/>
<rect x="315.71" y="239.76" width="9.23" height="7.76" fill="rgb(250, 212, 214)"/>
<rect x="324.49" y="239.76" width="44.36" height="7.76" fill="rgb(255, 255, 255)"/>
<rect x="368.40" y="239.76" width="9.23" height="7.76" fill="rgb(226, 225, 240)"/>
<rect x="377.19" y="239.76" width="9.23" height="7.76" fill="rgb(108, 114, 188)"/>
<rect x="385.97" y="239.76" width="9.23" height="7.76" fill="rgb(226, 225, 240)"/>
<rect x="394.75" y="239.76" width="18.02" height="7.76" fill="rgb(251, 232, 234)"/>
<rect x="412.32" y="239.76" width="9.23" height="7.76" fill="rgb(250, 212, 214)"/>
<rect x="421.10" y="239.76" width="9.23" height="7.76" fill="rgb(226, 225, 240)"/>
<rect x="429.89" y="239.76" width="9.23" height="7.76" fill="rgb(255, 255, 255)"/>
<rect x="438.67" y="239.76" width="18.02" height="7.76" fill="rgb(226, 225, 240)"/>
<rect x="456.23" y="239.76" width="9.23" height="7.76" fill="rgb(165, 167, 213)"/>
<rect x="465.02" y="239.76" width="9.23" height="7.76" fill="rgb(251, 232, 234)"/>
<rect x="473.80" y="239.76" width="9.23" height="7.76" fill="rgb(255, 255, 255)"/>
<rect x="482.58" y="239.76" width="18.02" height="7.76" fill="rgb(108, 114, 188)"/>
<rect x="500.15" y="239.76" width="9.23" height="7.76" fill="rgb(250, 212, 214)"/>
<rect x="508.93" y="239.76" width="9.23" height="7.76" fill="rgb(251, 232, 234)"/>
<rect x="517.72" y="239.76" width="61.93" height="7.76" fill="rgb(255, 255, 255)"/>
<rect x="579.20" y="239.76" width="8.78" height="7.76" fill="rgb(245, 162, 167)"/>
<rect x="61.00" y="247.07" width="9.23" height="7.76" fill="rgb(226, 225, 240)"/>
<rect x="69.78" y="247.07" width="9.23" height="7.76" fill="rgb(255, 255, 255)"/>
<rect x="78.57" y="247.07" width="18.02" height="7.76" fill="rgb(251, 232, 234)"/>
<rect x="96.13" y="247.07" width="26.80" height="7.76" fill="rgb(226, 225, 240)"/>
<rect x="122.48" y="247.07" width="9.23" height="7.76" fill="rgb(251, 232, 234)"/>
<rect x="131.26" y="247.07" width="9.23" height="7.76" fill="rgb(255, 255, 255)"/>
<rect x="140.05" y="247.07" width="9.23" height="7.76" fill="rgb(165, 167, 213)"/>
<rect x="148.83" y="247.07" width="18.02" height="7.76" fill="rgb(226, 225, 240)"/>
<rect x="166.40" y="247.07" width="18.02" height="7.76" fill="rgb(255, 255, 255)"/>
<rect x="183.96" y="247.07" width="9.23" height="7.76" fill="rgb(251, 232, 234)"/>
<rect x="192.75" y="247.07" width="18.02" height="7.76" fill="rgb(255, 255, 255)"/>
<rect x="210.31" y="247.07" width="9.23" height="7.76" fill="rgb(226, 225, 240)"/>
<rect x="219.09" y="247.07" width="35.58" height="7.76" fill="rgb(165, 167, 213)"/>
<rect x="254.23" y="247.07" width="9.23" height="7.76" fill="rgb(198, 198, 229)"/>
<rect x="263.01" y="247.07" width="9.23" height="7.76" fill="rgb(255, 255, 255)"/>
<rect x="271.79" y="247.07" width="9.23" height="7.76" fill="rgb(226, 225, 240)"/>
<rect x="280.57" y="247.07" width="9.23" height="7.76" fill="rgb(255, 255, 255)"/>
<rect x="289.36" y="247.07" width="9.23" height="7.76" fill="rgb(226, 225, 240)"/>
<rect x="298.14" y="247.07" width="9.23" height="7.76" fill="rgb(255, 255, 255)"/>
<rect x="306.92" y="247.07" width="9.23" height="7.76" fill="rgb(165, 167, 213)"/>
<rect x="315.71" y="247.07" width="9.23" height="7.76" fill="rgb(250, 212, 214)"/>
<rect x="324.49" y="247.07" width="44.36" height="7.76" fill="rgb(255, 255, 255)"/>
<rect x="368.40" y="247.07" width="9.23" height="7.76" fill="rgb(108, 114, 188)"/>
<rect x="377.19" y="247.07" width="18.02" height="7.76" fill="rgb(226, 225, 240)"/>
<rect x="394.75" y="247.07" width="9.23" height="7.76" fill="rgb(251, 232, 234)"/>
<rect x="403.54" y="247.07" width="9.23" height="7.76" fill="rgb(108, 114, 188)"/>
<rect x="412.32" y="247.07" width="9.23" height="7.76" fill="rgb(64, 84, 166)"/>
<rect x="421.10" y="247.07" width="9.23" height="7.76" fill="rgb(226, 225, 240)"/>
<rect x="429.89" y="247.07" width="9.23" height="7.76" fill="rgb(255, 255, 255)"/>
<rect x="438.67" y="247.07" width="18.02" height="7.76" fill="rgb(226, 225, 240)"/>
<rect x="456.23" y="247.07" width="9.23" height="7.76" fill="rgb(108, 114, 188)"/>
<rect x="465.02" y="247.07" width="9.23" height="7.76" fill="rgb(251, 232, 234)"/>
<rect x="473.80" y="247.07" width="9.23" height="7.76" fill="rgb(255, 255, 255)"/>
<rect x="482.58" y="247.07" width="18.02" height="7.76" fill="rgb(238, 92, 98)"/>
<rect x="500.15" y="247.07" width="9.23" height="7.76" fill="rgb(250, 212, 214)"/>
<rect x="508.93" y="247.07" width="9.23" height="7.76" fill="rgb(198, 198, 229)"/>
<rect x="517.72" y="247.07" width="26.80" height="7.76" fill="rgb(255, 255, 255)"/>
<rect x="544.07" y="247.07" width="9.23" height="7.76" fill="rgb(108, 114, 188)"/>
<rect x="552.85" y="247.07" width="26.80" height="7.76" fill="rgb(255, 255, 255)"/>
<rect x="579.20" y="247.07" width="8.78" height="7.76" fill="rgb(251, 232, 234)"/>
<rect x="61.00" y="254.38" width="9.23" height="7.76" fill="rgb(226, 225, 240)"/>
<rect x="69.78" y="254.38" width="9.23" height="7.76" fill="rgb(255, 255, 255)"/>
<rect x="78.57" y="254.38" width="18.02" height="7.76" fill="rgb(251, 232, 234)"/>
<rect x="96.13" y="254.38" width="18.02" height="7.76" fill="rgb(226, 225, 240)"/>
<rect x="113.70" y="254.38" width="9.23" height="7.76" fill="rgb(251, 232, 234)"/>
<rect x="122.48" y="254.38" width="9.23" height="7.76" fill="rgb(64, 84, 166)"/>
<rect x="131.26" y="254.38" width="9.23" height="7.76" fill="rgb(255, 255, 255)"/>
<rect x="140.05" y="254.38" width="9.23" height="7.76" fill="rgb(251, 232, 234)"/>
<rect x="148.83" y="254.38" width="18.02" height="7.76" fill="rgb(64, 84, 166)"/>
<rect x="166.40" y="254.38" width="18.02" height="7.76" fill="rgb(255, 255, 255)"/>
<rect x="183.96" y="254.38" width="9.23" height="7.76" fill="rgb(251, 232, 234)"/>
<rect x="192.75" y="254.38" width="18.02" height="7.76" fill="rgb(255, 255, 255)"/>
<rect x="210.31" y="254.38" width="9.23" height="7.76" fill="rgb(226, 225, 240)"/>
<rect x="219.09" y="254.38" width="9.23" height="7.76" fill="rgb(255, 255, 255)"/>
<rect x="227.88" y="254.38" width="18.02" height="7.76" fill="rgb(251, 232, 234)"/>
<rect x="245.44" y="254.38" width="9.23" height="7.76" fill="rgb(108, 114, 188)"/>
<rect x="254.23" y="254.38" width="9.23" height="7.76" fill="rgb(245, 162, 167)"/>
<rect x="263.01" y="254.38" width="9.23" height="7.76" fill="rgb(226, 225, 240)"/>
<rect x="271.79" y="254.38" width="9.23" height="7.76" fill="rgb(64, 84, 166)"/>
<rect x="280.57" y="254.38" width="9.23" height="7.76" fill="rgb(255, 255, 255)"/>
<rect x="289.36" y="254.38" width="9.23" height="7.76" fill="rgb(165, 167, 213)"/>
<rect x="298.14" y="254.38" width="9.23" height="7.76" fill="rgb(255, 255, 255)"/>
<rect x="306.92" y="254.38" width="9.23" height="7.76" fill="rgb(245, 162, 167)"/>
<rect x="315.71" y="254.38" width="9.23" height="7.76" fill="rgb(250, 212, 214)"/>
<rect x="324.49" y="254.38" width="9.23" height="7.76" fill="rgb(238, 92, 98)"/>
<rect x="333.27" y="254.38" width="35.58" height="7.76" fill="rgb(255, 255, 255)"/>
<rect x="368.40" y="254.38" width="9.23" height="7.76" fill="rgb(226, 225, 240)"/>
<rect x="377.19" y="254.38" width="9.23" height="7.76" fill="rgb(64, 84, 166)"/>
<rect x="385.97" y="254.38" width="9.23" height="7.76" fill="rgb(226, 225, 240)"/>
<rect x="394.75" y="254.38" width="9.23" height="7.76" fill="rgb(251, 232, 234)"/>
<rect x="403.54" y="254.38" width="9.23" height="7.76" fill="rgb(245, 162, 167)"/>
<rect x="412.32" y="254.38" width="18.02" height="7.76" fill="rgb(226, 225, 240)"/>
<rect x="429.89" y="254.38" width="9.23" height="7.76" fill="rgb(255, 255, 255)"/>
<rect x="438.67" y="254.38" width="9.23" height="7.76" fill="rgb(226, 225, 240)"/>
<rect x="447.45" y="254.38" width="18.02" height="7.76" fill="rgb(255, 255, 255)"/>
<rect x="465.02" y="254.38" width="9.23" height="7.76" fill="rgb(165, 167, 213)"/>
<rect x="473.80" y="254.38" width="9.23" height="7.76" fill="rgb(255, 255, 255)"/>
<rect x="482.58" y="254.38" width="18.02" height="7.76" fill="rgb(108, 114, 188)"/>
<rect x="500.15" y="254.38" width="9.23" height="7.76" fill="rgb(250, 212, 214)"/>
<rect x="508.93" y="254.38" width="9.23" height="7.76" fill="rgb(198, 198, 229)"/>
<rect x="517.72" y="254.38" width="26.80" height="7.76" fill="rgb(255, 255, 255)"/>
<rect x="544.07" y="254.38" width="9.23" height="7.76" fill="rgb(226, 225, 240)"/>
<rect x="552.85" y="254.38" width="26.80" height="7.76" fill="rgb(255, 255, 255)"/>
<rect x="579.20" y="254.38" width="8.78" height="7.76" fill="rgb(226, 225, 240)"/>
<rect x="61.00" y="261.70" width="9.23" height="7.76" fill="rgb(226, 225, 240)"/>
<rect x="69.78" y="261.70" width="9.23" height="7.76" fill="rgb(255, 255, 255)"/>
<rect x="78.57" y="261.70" width="18.02" height="7.76" fill="rgb(251, 232, 234)"/>
<rect x="96.13" y="261.70" width="26.80" height="7.76" fill="rgb(226, 225, 240)"/>
<rect x="122.48" y="261.70" width="9.23" height="7.76" fill="rgb(64, 84, 166)"/>
<rect x="131.26" y="261.70" width="9.23" height="7.76" fill="rgb(255, 255, 255)"/>
<rect x="140.05" y="261.70" width="9.23" height="7.76" fill="rgb(251, 232, 234)"/>
<rect x="148.83" y="261.70" width="9.23" height="7.76" fill="rgb(64, 84, 166)"/>
<rect x="157.61" y="261.70" width="9.23" height="7.76" fill="rgb(226, 225, 240)"/>
<rect x="166.40" y="261.70" width="18.02" height="7.76" fill="rgb(255, 255, 255)"/>
<rect x="183.96" y="261.70" width="9.23" height="7.76" fill="rgb(251, 232, 234)"/>
<rect x="192.75" y="261.70" width="18.02" height="7.76" fill="rgb(255, 255, 255)"/>
<rect x="210.31" y="261.70" width="9.23" height="7.76" fill="rgb(198, 198, 229)"/>
<rect x="219.09" y="261.70" width="26.80" height="7.76" fill="rgb(251, 232, 234)"/>
<rect x="245.44" y="261.70" width="9.23" height="7.76" fill="rgb(165, 167, 213)"/>
<rect x="254.23" y="261.70" width="9.23" height="7.76" fill="rgb(198, 198, 229)"/>
<rect x="263.01" y="261.70" width="9.23" height="7.76" fill="rgb(255, 255, 255)"/>
<rect x="271.79" y="261.70" width="9.23" height="7.76" fill="rgb(64, 84, 166)"/>
<rect x="280.57" y="261.70" width="9.23" height="7.76" fill="rgb(255, 255, 255)"/>
<rect x="289.36" y="261.70" width="9.23" height="7.76" fill="rgb(226, 225, 240)"/>
<rect x="298.14" y="261.70" width="9.23" height="7.76" fill="rgb(255, 255, 255)"/>
<rect x="306.92" y="261.70" width="9.23" height="7.76" fill="rgb(245, 162, 167)"/>
<rect x="315.71" y="261.70" width="9.23" height="7.76" fill="rgb(250, 212, 214)"/>
<rect x="324.49" y="261.70" width="9.23" height="7.76" fill="rgb(198, 198, 229)"/>
<rect x="333.27" y="261.70" width="35.58" height="7.76" fill="rgb(255, 255, 255)"/>
<rect x="368.40" y="261.70" width="9.23" height="7.76" fill="rgb(226, 225, 240)"/>
<rect x="377.19" y="261.70" width="9.23" height="7.76" fill="rgb(108, 114, 188)"/>
<rect x="385.97" y="261.70" width="9.23" height="7.76" fill="rgb(226, 225, 240)"/>
<rect x="394.75" y="261.70" width="9.23" height="7.76" fill="rgb(251, 232, 234)"/>
<rect x="403.54" y="261.70" width="9.23" height="7.76" fill="rgb(226, 225, 240)"/>
<rect x="412.32" y="261.70" width="9.23" height="7.76" fill="rgb(108, 114, 188)"/>
<rect x="421.10" y="261.70" width="9.23" height="7.76" fill="rgb(226, 225, 240)"/>
<rect x="429.89" y="261.70" width="9.23" height="7.76" fill="rgb(255, 255, 255)"/>
<rect x="438.67" y="261.70" width="18.02" height="7.76" fill="rgb(226, 225, 240)"/>
<rect x="456.23" y="261.70" width="9.23" height="7.76" fill="rgb(255, 255, 255)"/>
<rect x="465.02" y="261.70" width="9.23" height="7.76" fill="rgb(165, 167, 213)"/>
<rect x="473.80" y="261.70" width="9.23" height="7.76" fill="rgb(255, 255, 255)"/>
<rect x="482.58" y="261.70" width="18.02" height="7.76" fill="rgb(108, 114, 188)"/>
<rect x="500.15" y="261.70" width="9.23" height="7.76" fill="rgb(250, 212, 214)"/>
<rect x="508.93" y="261.70" width="9.23" height="7.76" fill="rgb(198, 198, 229)"/>
<rect x="517.72" y="261.70" width="26.80" height="7.76" fill="rgb(255, 255, 255)"/>
<rect x="544.07" y="261.70" width="9.23" height="7.76" fill="rgb(251, 232, 234)"/>
<rect x="552.85" y="261.70" width="26.80" height="7.76" fill="rgb(255, 255, 255)"/>
<rect x="579.20" y="261.70" width="8.78" height="7.76" fill="rgb(226, 225, 240)"/>
<rect x="61.00" y="269.01" width="9.23" height="7.76" fill="rgb(238, 92, 98)"/>
<rect x="69.78" y="269.01" width="9.23" height="7.76" fill="rgb(255, 255, 255)"/>
<rect x="78.57" y="269.01" width="18.02" height="7.76" fill="rgb(251, 232, 234)"/>
<rect x="96.13" y="269.01" width="9.23" height="7.76" fill="rgb(255, 255, 255)"/>
<rect x="104.91" y="269.01" width="9.23" height="7.76" fill="rgb(226, 225, 240)"/>
<rect x="113.70" y="269.01" width="18.02" height="7.76" fill="rgb(251, 232, 234)"/>
<rect x="131.26" y="269.01" width="9.23" height="7.76" fill="rgb(255, 255, 255)"/>
<rect x="140.05" y="269.01" width="9.23" height="7.76" fill="rgb(251, 232, 234)"/>
<rect x="148.83" y="269.01" width="18.02" height="7.76" fill="rgb(226, 225, 240)"/>
<rect x="166.40" y="269.01" width="18.02" height="7.76" fill="rgb(250, 212, 214)"/>
<rect x="183.96" y="269.01" width="9.23" height="7.76" fill="rgb(165, 167, 213)"/>
<rect x="192.75" y="269.01" width="9.23" height="7.76" fill="rgb(255, 255, 255)"/>
<rect x="201.53" y="269.01" width="9.23" height="7.76" fill="rgb(64, 84, 166)"/>
<rect x="210.31" y="269.01" width="9.23" height="7.76" fill="rgb(226, 225, 240)"/>
<rect x="219.09" y="269.01" width="9.23" height="7.76" fill="rgb(251, 232, 234)"/>
<rect x="227.88" y="269.01" width="18.02" height="7.76" fill="rgb(165, 167, 213)"/>
<rect x="245.44" y="269.01" width="9.23" height="7.76" fill="rgb(238, 92, 98)"/>
<rect x="254.23" y="269.01" width="9.23" height="7.76" fill="rgb(255, 255, 255)"/>
<rect x="263.01" y="269.01" width="9.23" height="7.76" fill="rgb(238, 92, 98)"/>
<rect x="271.79" y="269.01" width="9.23" height="7.76" fill="rgb(226, 225, 240)"/>
<rect x="280.57" y="269.01" width="9.23" height="7.76" fill="rgb(255, 255, 255)"/>
<rect x="289.36" y="269.01" width="9.23" height="7.76" fill="rgb(238, 92, 98)"/>
<rect x="298.14" y="269.01" width="18.02" height="7.76" fill="rgb(108, 114, 188)"/>
<rect x="315.71" y="269.01" width="9.23" height="7.76" fill="rgb(250, 212, 214)"/>
<rect x="324.49" y="269.01" width="9.23" height="7.76" fill="rgb(245, 162, 167)"/>
<rect x="333.27" y="269.01" width="35.58" height="7.76" fill="rgb(255, 255, 255)"/>
<rect x="368.40" y="269.01" width="9.23" height="7.76" fill="rgb(238, 92, 98)"/>
<rect x="377.19" y="269.01" width="9.23" height="7.76" fill="rgb(108, 114, 188)"/>
<rect x="385.97" y="269.01" width="9.23" height="7.76" fill="rgb(226, 225, 240)"/>
<rect x="394.75" y="269.01" width="9.23" height="7.76" fill="rgb(251, 232, 234)"/>
<rect x="403.54" y="269.01" width="18.02" height="7.76" fill="rgb(250, 212, 214)"/>
<rect x="421.10" y="269.01" width="9.23" height="7.76" fill="rgb(226, 225, 240)"/>
<rect x="429.89" y="269.01" width="9.23" height="7.76" fill="rgb(255, 255, 255)"/>
<rect x="438.67" y="269.01" width="18.02" height="7.76" fill="rgb(240, 124, 130)"/>
<rect x="456.23" y="269.01" width="9.23" height="7.76" fill="rgb(255, 255, 255)"/>
<rect x="465.02" y="269.01" width="9.23" height="7.76" fill="rgb(245, 162, 167)"/>
<rect x="473.80" y="269.01" width="9.23" height="7.76" fill="rgb(255, 255, 255)"/>
<rect x="482.58" y="269.01" width="18.02" height="7.76" fill="rgb(165, 167, 213)"/>
<rect x="500.15" y="269.01" width="9.23" height="7.76" fill="rgb(245, 162, 167)"/>
<rect x="508.93" y="269.01" width="9.23" height="7.76" fill="rgb(226, 225, 240)"/>
<rect x="517.72" y="269.01" width="61.93" height="7.76" fill="rgb(255, 255, 255)"/>
<rect x="579.20" y="269.01" width="8.78" height="7.76" fill="rgb(240, 124, 130)"/>
<rect x="61.00" y="276.33" width="9.23" height="7.76" fill="rgb(245, 162, 167)"/>
<rect x="69.78" y="276.33" width="9.23" height="7.76" fill="rgb(255, 255, 255)"/>
<rect x="78.57" y="276.33" width="18.02" height="7.76" fill="rgb(251, 232, 234)"/>
<rect x="96.13" y="276.33" width="35.58" height="7.76" fill="rgb(226, 225, 240)"/>
<rect x="131.26" y="276.33" width="9.23" height="7.76" fill="rgb(255, 255, 255)"/>
<rect x="140.05" y="276.33" width="9.23" height="7.76" fill="rgb(251, 232, 234)"/>
<rect x="148.83" y="276.33" width="18.02" height="7.76" fill="rgb(226, 225, 240)"/>
<rect x="166.40" y="276.33" width="18.02" height="7.76" fill="rgb(255, 255, 255)"/>
<rect x="183.96" y="276.33" width="9.23" height="7.76" fill="rgb(251, 232, 234)"/>
<rect x="192.75" y="276.33" width="9.23" height="7.76" fill="rgb(250, 212, 214)"/>
<rect x="201.53" y="276.33" width="9.23" height="7.76" fill="rgb(255, 255, 255)"/>
<rect x="210.31" y="276.33" width="9.23" height="7.76" fill="rgb(226, 225, 240)"/>
<rect x="219.09" y="276.33" width="9.23" height="7.76" fill="rgb(64, 84, 166)"/>
<rect x="227.88" y="276.33" width="9.23" height="7.76" fill="rgb(108, 114, 188)"/>
<rect x="236.66" y="276.33" width="9.23" height="7.76" fill="rgb(64, 84, 166)"/>
<rect x="245.44" y="276.33" width="9.23" height="7.76" fill="rgb(245, 162, 167)"/>
<rect x="254.23" y="276.33" width="9.23" height="7.76" fill="rgb(198, 198, 229)"/>
<rect x="263.01" y="276.33" width="9.23" height="7.76" fill="rgb(255, 255, 255)"/>
<rect x="271.79" y="276.33" width="9.23" height="7.76" fill="rgb(64, 84, 166)"/>
<rect x="280.57" y="276.33" width="9.23" height="7.76" fill="rgb(165, 167, 213)"/>
<rect x="289.36" y="276.33" width="9.23" height="7.76" fill="rgb(64, 84, 166)"/>
<rect x="298.14" y="276.33" width="9.23" height="7.76" fill="rgb(255, 255, 255)"/>
<rect x="306.92" y="276.33" width="9.23" height="7.76" fill="rgb(108, 114, 188)"/>
<rect x="315.71" y="276.33" width="9.23" height="7.76" fill="rgb(251, 232, 234)"/>
<rect x="324.49" y="276.33" width="44.36" height="7.76" fill="rgb(255, 255, 255)"/>
<rect x="368.40" y="276.33" width="9.23" height="7.76" fill="rgb(165, 167, 213)"/>
<rect x="377.19" y="276.33" width="9.23" height="7.76" fill="rgb(255, 255, 255)"/>
<rect x="385.97" y="276.33" width="9.23" height="7.76" fill="rgb(226, 225, 240)"/>
<rect x="394.75" y="276.33" width="9.23" height="7.76" fill="rgb(64, 84, 166)"/>
<rect x="403.54" y="276.33" width="18.02" height="7.76" fill="rgb(250, 212, 214)"/>
<rect x="421.10" y="276.33" width="9.23" height="7.76" fill="rgb(226, 225, 240)"/>
<rect x="429.89" y="276.33" width="9.23" height="7.76" fill="rgb(255, 255, 255)"/>
<rect x="438.67" y="276.33" width="18.02" height="7.76" fill="rgb(240, 124, 130)"/>
<rect x="456.23" y="276.33" width="9.23" height="7.76" fill="rgb(255, 255, 255)"/>
<rect x="465.02" y="276.33" width="9.23" height="7.76" fill="rgb(251, 232, 234)"/>
<rect x="473.80" y="276.33" width="9.23" height="7.76" fill="rgb(255, 255, 255)"/>
<rect x="482.58" y="276.33" width="18.02" height="7.76" fill="rgb(108, 114, 188)"/>
<rect x="500.15" y="276.33" width="9.23" height="7.76" fill="rgb(250, 212, 214)"/>
<rect x="508.93" y="276.33" width="9.23" height="7.76" fill="rgb(198, 198, 229)"/>
<rect x="517.72" y="276.33" width="61.93" height="7.76" fill="rgb(255, 255, 255)"/>
<rect x="579.20" y="276.33" width="8.78" height="7.76" fill="rgb(226, 225, 240)"/>
<rect x="61.00" y="283.64" width="9.23" height="7.76" fill="rgb(238, 92, 98)"/>
<rect x="69.78" y="283.64" width="9.23" height="7.76" fill="rgb(245, 162, 167)"/>
<rect x="78.57" y="283.64" width="18.02" height="7.76" fill="rgb(240, 124, 130)"/>
<rect x="96.13" y="283.64" width="9.23" height="7.76" fill="rgb(226, 225, 240)"/>
<rect x="104.91" y="283.64" width="9.23" height="7.76" fill="rgb(238, 92, 98)"/>
<rect x="113.70" y="283.64" width="18.02" height="7.76" fill="rgb(251, 232, 234)"/>
<rect x="131.26" y="283.64" width="9.23" height="7.76" fill="rgb(255, 255, 255)"/>
<rect x="140.05" y="283.64" width="9.23" height="7.76" fill="rgb(238, 92, 98)"/>
<rect x="148.83" y="283.64" width="18.02" height="7.76" fill="rgb(240, 124, 130)"/>
<rect x="166.40" y="283.64" width="18.02" height="7.76" fill="rgb(255, 255, 255)"/>
<rect x="183.96" y="283.64" width="9.23" height="7.76" fill="rgb(251, 232, 234)"/>
<rect x="192.75" y="283.64" width="9.23" height="7.76" fill="rgb(245, 162, 167)"/>
<rect x="201.53" y="283.64" width="9.23" height="7.76" fill="rgb(240, 124, 130)"/>
<rect x="210.31" y="283.64" width="18.02" height="7.76" fill="rgb(238, 92, 98)"/>
<rect x="227.88" y="283.64" width="18.02" height="7.76" fill="rgb(251, 232, 234)"/>
<rect x="245.44" y="283.64" width="18.02" height="7.76" fill="rgb(245, 162, 167)"/>
<rect x="263.01" y="283.64" width="18.02" height="7.76" fill="rgb(238, 92, 98)"/>
<rect x="280.57" y="283.64" width="9.23" height="7.76" fill="rgb(255, 255, 255)"/>
<rect x="289.36" y="283.64" width="9.23" height="7.76" fill="rgb(240, 124, 130)"/>
<rect x="298.14" y="283.64" width="9.23" height="7.76" fill="rgb(226, 225, 240)"/>
<rect x="306.92" y="283.64" width="18.02" height="7.76" fill="rgb(238, 92, 98)"/>
<rect x="324.49" y="283.64" width="9.23" height="7.76" fill="rgb(240, 124, 130)"/>
<rect x="333.27" y="283.64" width="9.23" height="7.76" fill="rgb(245, 162, 167)"/>
<rect x="342.06" y="283.64" width="26.80" height="7.76" fill="rgb(255, 255, 255)"/>
<rect x="368.40" y="283.64" width="9.23" height="7.76" fill="rgb(238, 92, 98)"/>
<rect x="377.19" y="283.64" width="9.23" height="7.76" fill="rgb(226, 225, 240)"/>
<rect x="385.97" y="283.64" width="9.23" height="7.76" fill="rgb(240, 124, 130)"/>
<rect x="394.75" y="283.64" width="9.23" height="7.76" fill="rgb(238, 92, 98)"/>
<rect x="403.54" y="283.64" width="18.02" height="7.76" fill="rgb(250, 212, 214)"/>
<rect x="421.10" y="283.64" width="9.23" height="7.76" fill="rgb(226, 225, 240)"/>
<rect x="429.89" y="283.64" width="9.23" height="7.76" fill="rgb(255, 255, 255)"/>
<rect x="438.67" y="283.64" width="18.02" height="7.76" fill="rgb(238, 92, 98)"/>
<rect x="456.23" y="283.64" width="18.02" height="7.76" fill="rgb(245, 162, 167)"/>
<rect x="473.80" y="283.64" width="9.23" height="7.76" fill="rgb(251, 232, 234)"/>
<rect x="482.58" y="283.64" width="18.02" height="7.76" fill="rgb(255, 255, 255)"/>
<rect x="500.15" y="283.64" width="9.23" height="7.76" fill="rgb(238, 92, 98)"/>
<rect x="508.93" y="283.64" width="9.23" height="7.76" fill="rgb(198, 198, 229)"/>
<rect x="517.72" y="283.64" width="61.93" height="7.76" fill="rgb(255, 255, 255)"/>
<rect x="579.20" y="283.64" width="8.78" height="7.76" fill="rgb(240, 124, 130)"/>
<rect x="61.00" y="290.95" width="9.23" height="7.76" fill="rgb(226, 225, 240)"/>
<rect x="69.78" y="290.95" width="9.23" height="7.76" fill="rgb(255, 255, 255)"/>
<rect x="78.57" y="290.95" width="18.02" height="7.76" fill="rgb(251, 232, 234)"/>
<rect x="96.13" y="290.95" width="9.23" height="7.76" fill="rgb(226, 225, 240)"/>
<rect x="104.91" y="290.95" width="9.23" height="7.76" fill="rgb(108, 114, 188)"/>
<rect x="113.70" y="290.95" width="18.02" height="7.76" fill="rgb(251, 232, 234)"/>
<rect x="131.26" y="290.95" width="9.23" height="7.76" fill="rgb(255, 255, 255)"/>
<rect x="140.05" y="290.95" width="9.23" height="7.76" fill="rgb(251, 232, 234)"/>
<rect x="148.83" y="290.95" width="18.02" height="7.76" fill="rgb(108, 114, 188)"/>
<rect x="166.40" y="290.95" width="35.58" height="7.76" fill="rgb(64, 84, 166)"/>
<rect x="201.53" y="290.95" width="9.23" height="7.76" fill="rgb(251, 232, 234)"/>
<rect x="210.31" y="290.95" width="9.23" height="7.76" fill="rgb(250, 212, 214)"/>
<rect x="219.09" y="290.95" width="9.23" height="7.76" fill="rgb(108, 114, 188)"/>
<rect x="227.88" y="290.95" width="18.02" height="7.76" fill="rgb(251, 232, 234)"/>
<rect x="245.44" y="290.95" width="9.23" height="7.76" fill="rgb(165, 167, 213)"/>
<rect x="254.23" y="290.95" width="9.23" height="7.76" fill="rgb(251, 232, 234)"/>
<rect x="263.01" y="290.95" width="9.23" height="7.76" fill="rgb(240, 124, 130)"/>
<rect x="271.79" y="290.95" width="9.23" height="7.76" fill="rgb(250, 212, 214)"/>
<rect x="280.57" y="290.95" width="9.23" height="7.76" fill="rgb(255, 255, 255)"/>
<rect x="289.36" y="290.95" width="9.23" height="7.76" fill="rgb(226, 225, 240)"/>
<rect x="298.14" y="290.95" width="9.23" height="7.76" fill="rgb(64, 84, 166)"/>
<rect x="306.92" y="290.95" width="9.23" height="7.76" fill="rgb(165, 167, 213)"/>
<rect x="315.71" y="290.95" width="18.02" height="7.76" fill="rgb(108, 114, 188)"/>
<rect x="333.27" y="290.95" width="9.23" height="7.76" fill="rgb(64, 84, 166)"/>
<rect x="342.06" y="290.95" width="26.80" height="7.76" fill="rgb(255, 255, 255)"/>
<rect x="368.40" y="290.95" width="9.23" height="7.76" fill="rgb(64, 84, 166)"/>
<rect x="377.19" y="290.95" width="9.23" height="7.76" fill="rgb(226, 225, 240)"/>
<rect x="385.97" y="290.95" width="9.23" height="7.76" fill="rgb(64, 84, 166)"/>
<rect x="394.75" y="290.95" width="9.23" height="7.76" fill="rgb(250, 212, 214)"/>
<rect x="403.54" y="290.95" width="18.02" height="7.76" fill="rgb(108, 114, 188)"/>
<rect x="421.10" y="290.95" width="9.23" height="7.76" fill="rgb(226, 225, 240)"/>
<rect x="429.89" y="290.95" width="9.23" height="7.76" fill="rgb(255, 255, 255)"/>
<rect x="438.67" y="290.95" width="18.02" height="7.76" fill="rgb(64, 84, 166)"/>
<rect x="456.23" y="290.95" width="18.02" height="7.76" fill="rgb(108, 114, 188)"/>
<rect x="473.80" y="290.95" width="9.23" height="7.76" fill="rgb(255, 255, 255)"/>
<rect x="482.58" y="290.95" width="18.02" height="7.76" fill="rgb(108, 114, 188)"/>
<rect x="500.15" y="290.95" width="9.23" height="7.76" fill="rgb(64, 84, 166)"/>
<rect x="508.93" y="290.95" width="9.23" height="7.76" fill="rgb(226, 225, 240)"/>
<rect x="517.72" y="290.95" width="26.80" height="7.76" fill="rgb(255, 255, 255)"/>
<rect x="544.07" y="290.95" width="9.23" height="7.76" fill="rgb(108, 114, 188)"/>
<rect x="552.85" y="290.95" width="35.13" height="7.76" fill="rgb(255, 255, 255)"/>
<rect x="61.00" y="298.27" width="9.23" height="7.76" fill="rgb(226, 225, 240)"/>
<rect x="69.78" y="298.27" width="9.23" height="7.76" fill="rgb(255, 255, 255)"/>
<rect x="78.57" y="298.27" width="18.02" height="7.76" fill="rgb(251, 232, 234)"/>
<rect x="96.13" y="298.27" width="18.02" height="7.76" fill="rgb(240, 124, 130)"/>
<rect x="113.70" y="298.27" width="9.23" height="7.76" fill="rgb(251, 232, 234)"/>
<rect x="122.48" y="298.27" width="9.23" height="7.76" fill="rgb(64, 84, 166)"/>
<rect x="131.26" y="298.27" width="9.23" height="7.76" fill="rgb(255, 255, 255)"/>
<rect x="140.05" y="298.27" width="9.23" height="7.76" fill="rgb(245, 162, 167)"/>
<rect x="148.83" y="298.27" width="18.02" height="7.76" fill="rgb(238, 92, 98)"/>
<rect x="166.40" y="298.27" width="18.02" height="7.76" fill="rgb(255, 255, 255)"/>
<rect x="183.96" y="298.27" width="9.23" height="7.76" fill="rgb(251, 232, 234)"/>
<rect x="192.75" y="298.27" width="9.23" height="7.76" fill="rgb(255, 255, 255)"/>
<rect x="201.53" y="298.27" width="9.23" height="7.76" fill="rgb(240, 124, 130)"/>
<rect x="210.31" y="298.27" width="9.23" height="7.76" fill="rgb(226, 225, 240)"/>
<rect x="219.09" y="298.27" width="9.23" height="7.76" fill="rgb(245, 162, 167)"/>
<rect x="227.88" y="298.27" width="18.02" height="7.76" fill="rgb(251, 232, 234)"/>
<rect x="245.44" y="298.27" width="18.02" height="7.76" fill="rgb(245, 162, 167)"/>
<rect x="263.01" y="298.27" width="18.02" height="7.76" fill="rgb(240, 124, 130)"/>
<rect x="280.57" y="298.27" width="9.23" height="7.76" fill="rgb(255, 255, 255)"/>
<rect x="289.36" y="298.27" width="9.23" height="7.76" fill="rgb(238, 92, 98)"/>
<rect x="298.14" y="298.27" width="9.23" height="7.76" fill="rgb(240, 124, 130)"/>
<rect x="306.92" y="298.27" width="9.23" height="7.76" fill="rgb(245, 162, 167)"/>
<rect x="315.71" y="298.27" width="9.23" height="7.76" fill="rgb(250, 212, 214)"/>
<rect x="324.49" y="298.27" width="9.23" height="7.76" fill="rgb(240, 124, 130)"/>
<rect x="333.27" y="298.27" width="9.23" height="7.76" fill="rgb(251, 232, 234)"/>
<rect x="342.06" y="298.27" width="26.80" height="7.76" fill="rgb(255, 255, 255)"/>
<rect x="368.40" y="298.27" width="9.23" height="7.76" fill="rgb(226, 225, 240)"/>
<rect x="377.19" y="298.27" width="9.23" height="7.76" fill="rgb(245, 162, 167)"/>
<rect x="385.97" y="298.27" width="9.23" height="7.76" fill="rgb(238, 92, 98)"/>
<rect x="394.75" y="298.27" width="9.23" height="7.76" fill="rgb(251, 232, 234)"/>
<rect x="403.54" y="298.27" width="9.23" height="7.76" fill="rgb(240, 124, 130)"/>
<rect x="412.32" y="298.27" width="9.23" height="7.76" fill="rgb(250, 212, 214)"/>
<rect x="421.10" y="298.27" width="9.23" height="7.76" fill="rgb(226, 225, 240)"/>
<rect x="429.89" y="298.27" width="9.23" height="7.76" fill="rgb(255, 255, 255)"/>
<rect x="438.67" y="298.27" width="18.02" height="7.76" fill="rgb(240, 124, 130)"/>
<rect x="456.23" y="298.27" width="9.23" height="7.76" fill="rgb(255, 255, 255)"/>
<rect x="465.02" y="298.27" width="9.23" height="7.76" fill="rgb(250, 212, 214)"/>
<rect x="473.80" y="298.27" width="9.23" height="7.76" fill="rgb(255, 255, 255)"/>
<rect x="482.58" y="298.27" width="18.02" height="7.76" fill="rgb(250, 212, 214)"/>
<rect x="500.15" y="298.27" width="9.23" height="7.76" fill="rgb(255, 255, 255)"/>
<rect x="508.93" y="298.27" width="9.23" height="7.76" fill="rgb(108, 114, 188)"/>
<rect x="517.72" y="298.27" width="61.93" height="7.76" fill="rgb(255, 255, 255)"/>
<rect x="579.20" y="298.27" width="8.78" height="7.76" fill="rgb(245, 162, 167)"/>
<rect x="61.00" y="305.58" width="9.23" height="7.76" fill="rgb(226, 225, 240)"/>
<rect x="69.78" y="305.58" width="9.23" height="7.76" fill="rgb(255, 255, 255)"/>
<rect x="78.57" y="305.58" width="18.02" height="7.76" fill="rgb(251, 232, 234)"/>
<rect x="96.13" y="305.58" width="9.23" height="7.76" fill="rgb(238, 92, 98)"/>
<rect x="104.91" y="305.58" width="9.23" height="7.76" fill="rgb(240, 124, 130)"/>
<rect x="113.70" y="305.58" width="9.23" height="7.76" fill="rgb(251, 232, 234)"/>
<rect x="122.48" y="305.58" width="9.23" height="7.76" fill="rgb(238, 92, 98)"/>
<rect x="131.26" y="305.58" width="9.23" height="7.76" fill="rgb(255, 255, 255)"/>
<rect x="140.05" y="305.58" width="9.23" height="7.76" fill="rgb(245, 162, 167)"/>
<rect x="148.83" y="305.58" width="18.02" height="7.76" fill="rgb(238, 92, 98)"/>
<rect x="166.40" y="305.58" width="18.02" height="7.76" fill="rgb(255, 255, 255)"/>
<rect x="183.96" y="305.58" width="9.23" height="7.76" fill="rgb(251, 232, 234)"/>
<rect x="192.75" y="305.58" width="9.23" height="7.76" fill="rgb(255, 255, 255)"/>
<rect x="201.53" y="305.58" width="9.23" height="7.76" fill="rgb(240, 124, 130)"/>
<rect x="210.31" y="305.58" width="9.23" height="7.76" fill="rgb(226, 225, 240)"/>
<rect x="219.09" y="305.58" width="9.23" height="7.76" fill="rgb(240, 124, 130)"/>
<rect x="227.88" y="305.58" width="18.02" height="7.76" fill="rgb(251, 232, 234)"/>
<rect x="245.44" y="305.58" width="9.23" height="7.76" fill="rgb(226, 225, 240)"/>
<rect x="254.23" y="305.58" width="9.23" height="7.76" fill="rgb(238, 92, 98)"/>
<rect x="263.01" y="305.58" width="18.02" height="7.76" fill="rgb(240, 124, 130)"/>
<rect x="280.57" y="305.58" width="9.23" height="7.76" fill="rgb(255, 255, 255)"/>
<rect x="289.36" y="305.58" width="9.23" height="7.76" fill="rgb(238, 92, 98)"/>
<rect x="298.14" y="305.58" width="9.23" height="7.76" fill="rgb(255, 255, 255)"/>
<rect x="306.92" y="305.58" width="9.23" height="7.76" fill="rgb(245, 162, 167)"/>
<rect x="315.71" y="305.58" width="9.23" height="7.76" fill="rgb(250, 212, 214)"/>
<rect x="324.49" y="305.58" width="44.36" height="7.76" fill="rgb(255, 255, 255)"/>
<rect x="368.40" y="305.58" width="9.23" height="7.76" fill="rgb(226, 225, 240)"/>
<rect x="377.19" y="305.58" width="9.23" height="7.76" fill="rgb(250, 212, 214)"/>
<rect x="385.97" y="305.58" width="9.23" height="7.76" fill="rgb(238, 92, 98)"/>
<rect x="394.75" y="305.58" width="9.23" height="7.76" fill="rgb(251, 232, 234)"/>
<rect x="403.54" y="305.58" width="9.23" height="7.76" fill="rgb(165, 167, 213)"/>
<rect x="412.32" y="305.58" width="9.23" height="7.76" fill="rgb(245, 162, 167)"/>
<rect x="421.10" y="305.58" width="9.23" height="7.76" fill="rgb(226, 225, 240)"/>
<rect x="429.89" y="305.58" width="9.23" height="7.76" fill="rgb(255, 255, 255)"/>
<rect x="438.67" y="305.58" width="18.02" height="7.76" fill="rgb(240, 124, 130)"/>
<rect x="456.23" y="305.58" width="9.23" height="7.76" fill="rgb(255, 255, 255)"/>
<rect x="465.02" y="305.58" width="9.23" height="7.76" fill="rgb(250, 212, 214)"/>
<rect x="473.80" y="305.58" width="9.23" height="7.76" fill="rgb(255, 255, 255)"/>
<rect x="482.58" y="305.58" width="18.02" height="7.76" fill="rgb(165, 167, 213)"/>
<rect x="500.15" y="305.58" width="9.23" height="7.76" fill="rgb(108, 114, 188)"/>
<rect x="508.93" y="305.58" width="9.23" height="7.76" fill="rgb(240, 124, 130)"/>
<rect x="517.72" y="305.58" width="61.93" height="7.76" fill="rgb(255, 255, 255)"/>
<rect x="579.20" y="305.58" width="8.78" height="7.76" fill="rgb(245, 162, 167)"/>
<rect x="61.00" y="312.90" width="9.23" height="7.76" fill="rgb(64, 84, 166)"/>
<rect x="69.78" y="312.90" width="9.23" height="7.76" fill="rgb(255, 255, 255)"/>
<rect x="78.57" y="312.90" width="18.02" height="7.76" fill="rgb(251, 232, 234)"/>
<rect x="96.13" y="312.90" width="9.23" height="7.76" fill="rgb(226, 225, 240)"/>
<rect x="104.91" y="312.90" width="9.23" height="7.76" fill="rgb(64, 84, 166)"/>
<rect x="113.70" y="312.90" width="18.02" height="7.76" fill="rgb(251, 232, 234)"/>
<rect x="131.26" y="312.90" width="9.23" height="7.76" fill="rgb(255, 255, 255)"/>
<rect x="140.05" y="312.90" width="9.23" height="7.76" fill="rgb(251, 232, 234)"/>
<rect x="148.83" y="312.90" width="9.23" height="7.76" fill="rgb(64, 84, 166)"/>
<rect x="157.61" y="312.90" width="9.23" height="7.76" fill="rgb(226, 225, 240)"/>
<rect x="166.40" y="312.90" width="18.02" height="7.76" fill="rgb(255, 255, 255)"/>
<rect x="183.96" y="312.90" width="9.23" height="7.76" fill="rgb(251, 232, 234)"/>
<rect x="192.75" y="312.90" width="9.23" height="7.76" fill="rgb(108, 114, 188)"/>
<rect x="201.53" y="312.90" width="9.23" height="7.76" fill="rgb(255, 255, 255)"/>
<rect x="210.31" y="312.90" width="9.23" height="7.76" fill="rgb(64, 84, 166)"/>
<rect x="219.09" y="312.90" width="9.23" height="7.76" fill="rgb(255, 255, 255)"/>
<rect x="227.88" y="312.90" width="18.02" height="7.76" fill="rgb(251, 232, 234)"/>
<rect x="245.44" y="312.90" width="18.02" height="7.76" fill="rgb(245, 162, 167)"/>
<rect x="263.01" y="312.90" width="9.23" height="7.76" fill="rgb(64, 84, 166)"/>
<rect x="271.79" y="312.90" width="9.23" height="7.76" fill="rgb(238, 92, 98)"/>
<rect x="280.57" y="312.90" width="9.23" height="7.76" fill="rgb(255, 255, 255)"/>
<rect x="289.36" y="312.90" width="9.23" height="7.76" fill="rgb(240, 124, 130)"/>
<rect x="298.14" y="312.90" width="9.23" height="7.76" fill="rgb(255, 255, 255)"/>
<rect x="306.92" y="312.90" width="9.23" height="7.76" fill="rgb(245, 162, 167)"/>
<rect x="315.71" y="312.90" width="9.23" height="7.76" fill="rgb(250, 212, 214)"/>
<rect x="324.49" y="312.90" width="9.23" height="7.76" fill="rgb(255, 255, 255)"/>
<rect x="333.27" y="312.90" width="9.23" height="7.76" fill="rgb(108, 114, 188)"/>
<rect x="342.06" y="312.90" width="26.80" height="7.76" fill="rgb(255, 255, 255)"/>
<rect x="368.40" y="312.90" width="18.02" height="7.76" fill="rgb(226, 225, 240)"/>
<rect x="385.97" y="312.90" width="9.23" height="7.76" fill="rgb(240, 124, 130)"/>
<rect x="394.75" y="312.90" width="9.23" height="7.76" fill="rgb(251, 232, 234)"/>
<rect x="403.54" y="312.90" width="9.23" height="7.76" fill="rgb(165, 167, 213)"/>
<rect x="412.32" y="312.90" width="9.23" height="7.76" fill="rgb(108, 114, 188)"/>
<rect x="421.10" y="312.90" width="9.23" height="7.76" fill="rgb(238, 92, 98)"/>
<rect x="429.89" y="312.90" width="9.23" height="7.76" fill="rgb(255, 255, 255)"/>
<rect x="438.67" y="312.90" width="18.02" height="7.76" fill="rgb(226, 225, 240)"/>
<rect x="456.23" y="312.90" width="9.23" height="7.76" fill="rgb(250, 212, 214)"/>
<rect x="465.02" y="312.90" width="9.23" height="7.76" fill="rgb(165, 167, 213)"/>
<rect x="473.80" y="312.90" width="9.23" height="7.76" fill="rgb(255, 255, 255)"/>
<rect x="482.58" y="312.90" width="26.80" height="7.76" fill="rgb(251, 232, 234)"/>
<rect x="508.93" y="312.90" width="9.23" height="7.76" fill="rgb(250, 212, 214)"/>
<rect x="517.72" y="312.90" width="61.93" height="7.76" fill="rgb(255, 255, 255)"/>
<rect x="579.20" y="312.90" width="8.78" height="7.76" fill="rgb(240, 124, 130)"/>
<rect x="61.00" y="320.21" width="9.23" height="7.76" fill="rgb(238, 92, 98)"/>
<rect x="69.78" y="320.21" width="9.23" height="7.76" fill="rgb(255, 255, 255)"/>
<rect x="78.57" y="320.21" width="18.02" height="7.76" fill="rgb(251, 232, 234)"/>
<rect x="96.13" y="320.21" width="9.23" height="7.76" fill="rgb(226, 225, 240)"/>
<rect x="104.91" y="320.21" width="9.23" height="7.76" fill="rgb(238, 92, 98)"/>
<rect x="113.70" y="320.21" width="18.02" height="7.76" fill="rgb(251, 232, 234)"/>
<rect x="131.26" y="320.21" width="9.23" height="7.76" fill="rgb(255, 255, 255)"/>
<rect x="140.05" y="320.21" width="9.23" height="7.76" fill="rgb(238, 92, 98)"/>
<rect x="148.83" y="320.21" width="9.23" height="7.76" fill="rgb(240, 124, 130)"/>
<rect x="157.61" y="320.21" width="9.23" height="7.76" fill="rgb(226, 225, 240)"/>
<rect x="166.40" y="320.21" width="18.02" height="7.76" fill="rgb(255, 255, 255)"/>
<rect x="183.96" y="320.21" width="9.23" height="7.76" fill="rgb(251, 232, 234)"/>
<rect x="192.75" y="320.21" width="9.23" height="7.76" fill="rgb(238, 92, 98)"/>
<rect x="201.53" y="320.21" width="9.23" height="7.76" fill="rgb(255, 255, 255)"/>
<rect x="210.31" y="320.21" width="9.23" height="7.76" fill="rgb(238, 92, 98)"/>
<rect x="219.09" y="320.21" width="9.23" height="7.76" fill="rgb(255, 255, 255)"/>
<rect x="227.88" y="320.21" width="9.23" height="7.76" fill="rgb(251, 232, 234)"/>
<rect x="236.66" y="320.21" width="9.23" height="7.76" fill="rgb(250, 212, 214)"/>
<rect x="245.44" y="320.21" width="9.23" height="7.76" fill="rgb(226, 225, 240)"/>
<rect x="254.23" y="320.21" width="9.23" height="7.76" fill="rgb(245, 162, 167)"/>
<rect x="263.01" y="320.21" width="9.23" height="7.76" fill="rgb(240, 124, 130)"/>
<rect x="271.79" y="320.21" width="9.23" height="7.76" fill="rgb(238, 92, 98)"/>
<rect x="280.57" y="320.21" width="9.23" height="7.76" fill="rgb(255, 255, 255)"/>
<rect x="289.36" y="320.21" width="9.23" height="7.76" fill="rgb(240, 124, 130)"/>
<rect x="298.14" y="320.21" width="9.23" height="7.76" fill="rgb(255, 255, 255)"/>
<rect x="306.92" y="320.21" width="9.23" height="7.76" fill="rgb(245, 162, 167)"/>
<rect x="315.71" y="320.21" width="9.23" height="7.76" fill="rgb(250, 212, 214)"/>
<rect x="324.49" y="320.21" width="9.23" height="7.76" fill="rgb(255, 255, 255)"/>
<rect x="333.27" y="320.21" width="9.23" height="7.76" fill="rgb(238, 92, 98)"/>
<rect x="342.06" y="320.21" width="26.80" height="7.76" fill="rgb(255, 255, 255)"/>
<rect x="368.40" y="320.21" width="9.23" height="7.76" fill="rgb(238, 92, 98)"/>
<rect x="377.19" y="320.21" width="9.23" height="7.76" fill="rgb(226, 225, 240)"/>
<rect x="385.97" y="320.21" width="9.23" height="7.76" fill="rgb(240, 124, 130)"/>
<rect x="394.75" y="320.21" width="9.23" height="7.76" fill="rgb(251, 232, 234)"/>
<rect x="403.54" y="320.21" width="9.23" height="7.76" fill="rgb(240, 124, 130)"/>
<rect x="412.32" y="320.21" width="9.23" height="7.76" fill="rgb(250, 212, 214)"/>
<rect x="421.10" y="320.21" width="9.23" height="7.76" fill="rgb(238, 92, 98)"/>
<rect x="429.89" y="320.21" width="9.23" height="7.76" fill="rgb(255, 255, 255)"/>
<rect x="438.67" y="320.21" width="18.02" height="7.76" fill="rgb(226, 225, 240)"/>
<rect x="456.23" y="320.21" width="9.23" height="7.76" fill="rgb(255, 255, 255)"/>
<rect x="465.02" y="320.21" width="9.23" height="7.76" fill="rgb(165, 167, 213)"/>
<rect x="473.80" y="320.21" width="9.23" height="7.76" fill="rgb(250, 212, 214)"/>
<rect x="482.58" y="320.21" width="18.02" height="7.76" fill="rgb(240, 124, 130)"/>
<rect x="500.15" y="320.21" width="9.23" height="7.76" fill="rgb(251, 232, 234)"/>
<rect x="508.93" y="320.21" width="9.23" height="7.76" fill="rgb(250, 212, 214)"/>
<rect x="517.72" y="320.21" width="26.80" height="7.76" fill="rgb(255, 255, 255)"/>
<rect x="544.07" y="320.21" width="9.23" height="7.76" fill="rgb(250, 212, 214)"/>
<rect x="552.85" y="320.21" width="26.80" height="7.76" fill="rgb(255, 255, 255)"/>
<rect x="579.20" y="320.21" width="8.78" height="7.76" fill="rgb(245, 162, 167)"/>
<rect x="61.00" y="327.52" width="9.23" height="7.76" fill="rgb(226, 225, 240)"/>
<rect x="69.78" y="327.52" width="18.02" height="7.76" fill="rgb(64, 84, 166)"/>
<rect x="87.35" y="327.52" width="9.23" height="7.76" fill="rgb(88, 98, 174)"/>
<rect x="96.13" y="327.52" width="26.80" height="7.76" fill="rgb(64, 84, 166)"/>
<rect x="122.48" y="327.52" width="9.23" height="7.76" fill="rgb(108, 114, 188)"/>
<rect x="131.26" y="327.52" width="9.23" height="7.76" fill="rgb(226, 225, 240)"/>
<rect x="140.05" y="327.52" width="9.23" height="7.76" fill="rgb(165, 167, 213)"/>
<rect x="148.83" y="327.52" width="9.23" height="7.76" fill="rgb(64, 84, 166)"/>
<rect x="157.61" y="327.52" width="9.23" height="7.76" fill="rgb(88, 98, 174)"/>
<rect x="166.40" y="327.52" width="18.02" height="7.76" fill="rgb(255, 255, 255)"/>
<rect x="183.96" y="327.52" width="9.23" height="7.76" fill="rgb(251, 232, 234)"/>
<rect x="192.75" y="327.52" width="9.23" height="7.76" fill="rgb(64, 84, 166)"/>
<rect x="201.53" y="327.52" width="9.23" height="7.76" fill="rgb(165, 167, 213)"/>
<rect x="210.31" y="327.52" width="9.23" height="7.76" fill="rgb(64, 84, 166)"/>
<rect x="219.09" y="327.52" width="9.23" height="7.76" fill="rgb(108, 114, 188)"/>
<rect x="227.88" y="327.52" width="18.02" height="7.76" fill="rgb(64, 84, 166)"/>
<rect x="245.44" y="327.52" width="9.23" height="7.76" fill="rgb(226, 225, 240)"/>
<rect x="254.23" y="327.52" width="9.23" height="7.76" fill="rgb(198, 198, 229)"/>
<rect x="263.01" y="327.52" width="9.23" height="7.76" fill="rgb(255, 255, 255)"/>
<rect x="271.79" y="327.52" width="9.23" height="7.76" fill="rgb(64, 84, 166)"/>
<rect x="280.57" y="327.52" width="9.23" height="7.76" fill="rgb(255, 255, 255)"/>
<rect x="289.36" y="327.52" width="9.23" height="7.76" fill="rgb(240, 124, 130)"/>
<rect x="298.14" y="327.52" width="9.23" height="7.76" fill="rgb(64, 84, 166)"/>
<rect x="306.92" y="327.52" width="9.23" height="7.76" fill="rgb(255, 255, 255)"/>
<rect x="315.71" y="327.52" width="9.23" height="7.76" fill="rgb(64, 84, 166)"/>
<rect x="324.49" y="327.52" width="9.23" height="7.76" fill="rgb(108, 114, 188)"/>
<rect x="333.27" y="327.52" width="9.23" height="7.76" fill="rgb(64, 84, 166)"/>
<rect x="342.06" y="327.52" width="26.80" height="7.76" fill="rgb(255, 255, 255)"/>
<rect x="368.40" y="327.52" width="18.02" height="7.76" fill="rgb(64, 84, 166)"/>
<rect x="385.97" y="327.52" width="9.23" height="7.76" fill="rgb(108, 114, 188)"/>
<rect x="394.75" y="327.52" width="9.23" height="7.76" fill="rgb(165, 167, 213)"/>
<rect x="403.54" y="327.52" width="9.23" height="7.76" fill="rgb(108, 114, 188)"/>
<rect x="412.32" y="327.52" width="9.23" height="7.76" fill="rgb(238, 92, 98)"/>
<rect x="421.10" y="327.52" width="9.23" height="7.76" fill="rgb(226, 225, 240)"/>
<rect x="429.89" y="327.52" width="9.23" height="7.76" fill="rgb(255, 255, 255)"/>
<rect x="438.67" y="327.52" width="18.02" height="7.76" fill="rgb(64, 84, 166)"/>
<rect x="456.23" y="327.52" width="9.23" height="7.76" fill="rgb(255, 255, 255)"/>
<rect x="465.02" y="327.52" width="9.23" height="7.76" fill="rgb(64, 84, 166)"/>
<rect x="473.80" y="327.52" width="9.23" height="7.76" fill="rgb(255, 255, 255)"/>
<rect x="482.58" y="327.52" width="18.02" height="7.76" fill="rgb(108, 114, 188)"/>
<rect x="500.15" y="327.52" width="9.23" height="7.76" fill="rgb(64, 84, 166)"/>
<rect x="508.93" y="327.52" width="9.23" height="7.76" fill="rgb(108, 114, 188)"/>
<rect x="517.72" y="327.52" width="26.80" height="7.76" fill="rgb(255, 255, 255)"/>
<rect x="544.07" y="327.52" width="9.23" height="7.76" fill="rgb(226, 225, 240)"/>
<rect x="552.85" y="327.52" width="26.80" height="7.76" fill="rgb(255, 255, 255)"/>
<rect x="579.20" y="327.52" width="8.78" height="7.76" fill="rgb(64, 84, 166)"/>
<rect x="61.00" y="334.84" width="9.23" height="7.76" fill="rgb(226, 225, 240)"/>
<rect x="69.78" y="334.84" width="9.23" height="7.76" fill="rgb(255, 255, 255)"/>
<rect x="78.57" y="334.84" width="18.02" height="7.76" fill="rgb(251, 232, 234)"/>
<rect x="96.13" y="334.84" width="9.23" height="7.76" fill="rgb(64, 84, 166)"/>
<rect x="104.91" y="334.84" width="9.23" height="7.76" fill="rgb(226, 225, 240)"/>
<rect x="113.70" y="334.84" width="9.23" height="7.76" fill="rgb(64, 84, 166)"/>
<rect x="122.48" y="334.84" width="9.23" height="7.76" fill="rgb(165, 167, 213)"/>
<rect x="131.26" y="334.84" width="9.23" height="7.76" fill="rgb(255, 255, 255)"/>
<rect x="140.05" y="334.84" width="9.23" height="7.76" fill="rgb(165, 167, 213)"/>
<rect x="148.83" y="334.84" width="18.02" height="7.76" fill="rgb(226, 225, 240)"/>
<rect x="166.40" y="334.84" width="18.02" height="7.76" fill="rgb(255, 255, 255)"/>
<rect x="183.96" y="334.84" width="9.23" height="7.76" fill="rgb(251, 232, 234)"/>
<rect x="192.75" y="334.84" width="18.02" height="7.76" fill="rgb(255, 255, 255)"/>
<rect x="210.31" y="334.84" width="9.23" height="7.76" fill="rgb(64, 84, 166)"/>
<rect x="219.09" y="334.84" width="9.23" height="7.76" fill="rgb(255, 255, 255)"/>
<rect x="227.88" y="334.84" width="18.02" height="7.76" fill="rgb(64, 84, 166)"/>
<rect x="245.44" y="334.84" width="9.23" height="7.76" fill="rgb(255, 255, 255)"/>
<rect x="254.23" y="334.84" width="9.23" height="7.76" fill="rgb(198, 198, 229)"/>
<rect x="263.01" y="334.84" width="9.23" height="7.76" fill="rgb(165, 167, 213)"/>
<rect x="271.79" y="334.84" width="9.23" height="7.76" fill="rgb(226, 225, 240)"/>
<rect x="280.57" y="334.84" width="9.23" height="7.76" fill="rgb(255, 255, 255)"/>
<rect x="289.36" y="334.84" width="9.23" height="7.76" fill="rgb(240, 124, 130)"/>
<rect x="298.14" y="334.84" width="9.23" height="7.76" fill="rgb(251, 232, 234)"/>
<rect x="306.92" y="334.84" width="9.23" height="7.76" fill="rgb(108, 114, 188)"/>
<rect x="315.71" y="334.84" width="9.23" height="7.76" fill="rgb(64, 84, 166)"/>
<rect x="324.49" y="334.84" width="9.23" height="7.76" fill="rgb(238, 92, 98)"/>
<rect x="333.27" y="334.84" width="35.58" height="7.76" fill="rgb(255, 255, 255)"/>
<rect x="368.40" y="334.84" width="9.23" height="7.76" fill="rgb(226, 225, 240)"/>
<rect x="377.19" y="334.84" width="9.23" height="7.76" fill="rgb(64, 84, 166)"/>
<rect x="385.97" y="334.84" width="9.23" height="7.76" fill="rgb(226, 225, 240)"/>
<rect x="394.75" y="334.84" width="9.23" height="7.76" fill="rgb(108, 114, 188)"/>
<rect x="403.54" y="334.84" width="18.02" height="7.76" fill="rgb(250, 212, 214)"/>
<rect x="421.10" y="334.84" width="9.23" height="7.76" fill="rgb(226, 225, 240)"/>
<rect x="429.89" y="334.84" width="35.58" height="7.76" fill="rgb(255, 255, 255)"/>
<rect x="465.02" y="334.84" width="9.23" height="7.76" fill="rgb(165, 167, 213)"/>
<rect x="473.80" y="334.84" width="9.23" height="7.76" fill="rgb(255, 255, 255)"/>
<rect x="482.58" y="334.84" width="18.02" height="7.76" fill="rgb(250, 212, 214)"/>
<rect x="500.15" y="334.84" width="9.23" height="7.76" fill="rgb(251, 232, 234)"/>
<rect x="508.93" y="334.84" width="9.23" height="7.76" fill="rgb(165, 167, 213)"/>
<rect x="517.72" y="334.84" width="26.80" height="7.76" fill="rgb(255, 255, 255)"/>
<rect x="544.07" y="334.84" width="9.23" height="7.76" fill="rgb(226, 225, 240)"/>
<rect x="552.85" y="334.84" width="26.80" height="7.76" fill="rgb(255, 255, 255)"/>
<rect x="579.20" y="334.84" width="8.78" height="7.76" fill="rgb(64, 84, 166)"/>
<rect x="61.00" y="342.15" width="9.23" height="7.76" fill="rgb(64, 84, 166)"/>
<rect x="69.78" y="342.15" width="9.23" height="7.76" fill="rgb(255, 255, 255)"/>
<rect x="78.57" y="342.15" width="9.23" height="7.76" fill="rgb(251, 232, 234)"/>
<rect x="87.35" y="342.15" width="9.23" height="7.76" fill="rgb(64, 84, 166)"/>
<rect x="96.13" y="342.15" width="18.02" height="7.76" fill="rgb(226, 225, 240)"/>
<rect x="113.70" y="342.15" width="18.02" height="7.76" fill="rgb(64, 84, 166)"/>
<rect x="131.26" y="342.15" width="9.23" height="7.76" fill="rgb(255, 255, 255)"/>
<rect x="140.05" y="342.15" width="9.23" height="7.76" fill="rgb(165, 167, 213)"/>
<rect x="148.83" y="342.15" width="18.02" height="7.76" fill="rgb(64, 84, 166)"/>
<rect x="166.40" y="342.15" width="18.02" height="7.76" fill="rgb(255, 255, 255)"/>
<rect x="183.96" y="342.15" width="9.23" height="7.76" fill="rgb(251, 232, 234)"/>
<rect x="192.75" y="342.15" width="9.23" height="7.76" fill="rgb(255, 255, 255)"/>
<rect x="201.53" y="342.15" width="9.23" height="7.76" fill="rgb(64, 84, 166)"/>
<rect x="210.31" y="342.15" width="9.23" height="7.76" fill="rgb(226, 225, 240)"/>
<rect x="219.09" y="342.15" width="9.23" height="7.76" fill="rgb(255, 255, 255)"/>
<rect x="227.88" y="342.15" width="18.02" height="7.76" fill="rgb(251, 232, 234)"/>
<rect x="245.44" y="342.15" width="9.23" height="7.76" fill="rgb(245, 162, 167)"/>
<rect x="254.23" y="342.15" width="9.23" height="7.76" fill="rgb(198, 198, 229)"/>
<rect x="263.01" y="342.15" width="18.02" height="7.76" fill="rgb(64, 84, 166)"/>
<rect x="280.57" y="342.15" width="9.23" height="7.76" fill="rgb(255, 255, 255)"/>
<rect x="289.36" y="342.15" width="9.23" height="7.76" fill="rgb(240, 124, 130)"/>
<rect x="298.14" y="342.15" width="9.23" height="7.76" fill="rgb(255, 255, 255)"/>
<rect x="306.92" y="342.15" width="9.23" height="7.76" fill="rgb(64, 84, 166)"/>
<rect x="315.71" y="342.15" width="9.23" height="7.76" fill="rgb(165, 167, 213)"/>
<rect x="324.49" y="342.15" width="9.23" height="7.76" fill="rgb(108, 114, 188)"/>
<rect x="333.27" y="342.15" width="35.58" height="7.76" fill="rgb(255, 255, 255)"/>
<rect x="368.40" y="342.15" width="18.02" height="7.76" fill="rgb(226, 225, 240)"/>
<rect x="385.97" y="342.15" width="9.23" height="7.76" fill="rgb(108, 114, 188)"/>
<rect x="394.75" y="342.15" width="9.23" height="7.76" fill="rgb(64, 84, 166)"/>
<rect x="403.54" y="342.15" width="9.23" height="7.76" fill="rgb(108, 114, 188)"/>
<rect x="412.32" y="342.15" width="9.23" height="7.76" fill="rgb(64, 84, 166)"/>
<rect x="421.10" y="342.15" width="9.23" height="7.76" fill="rgb(226, 225, 240)"/>
<rect x="429.89" y="342.15" width="9.23" height="7.76" fill="rgb(255, 255, 255)"/>
<rect x="438.67" y="342.15" width="9.23" height="7.76" fill="rgb(165, 167, 213)"/>
<rect x="447.45" y="342.15" width="9.23" height="7.76" fill="rgb(226, 225, 240)"/>
<rect x="456.23" y="342.15" width="9.23" height="7.76" fill="rgb(255, 255, 255)"/>
<rect x="465.02" y="342.15" width="9.23" height="7.76" fill="rgb(64, 84, 166)"/>
<rect x="473.80" y="342.15" width="9.23" height="7.76" fill="rgb(226, 225, 240)"/>
<rect x="482.58" y="342.15" width="18.02" height="7.76" fill="rgb(250, 212, 214)"/>
<rect x="500.15" y="342.15" width="18.02" height="7.76" fill="rgb(64, 84, 166)"/>
<rect x="517.72" y="342.15" width="26.80" height="7.76" fill="rgb(255, 255, 255)"/>
<rect x="544.07" y="342.15" width="9.23" height="7.76" fill="rgb(64, 84, 166)"/>
<rect x="552.85" y="342.15" width="26.80" height="7.76" fill="rgb(255, 255, 255)"/>
<rect x="579.20" y="342.15" width="8.78" height="7.76" fill="rgb(226, 225, 240)"/>
<rect x="61.00" y="349.47" width="9.23" height="7.76" fill="rgb(88, 98, 174)"/>
<rect x="69.78" y="349.47" width="9.23" height="7.76" fill="rgb(255, 255, 255)"/>
<rect x="78.57" y="349.47" width="9.23" height="7.76" fill="rgb(251, 232, 234)"/>
<rect x="87.35" y="349.47" width="9.23" height="7.76" fill="rgb(64, 84, 166)"/>
<rect x="96.13" y="349.47" width="18.02" height="7.76" fill="rgb(226, 225, 240)"/>
<rect x="113.70" y="349.47" width="18.02" height="7.76" fill="rgb(64, 84, 166)"/>
<rect x="131.26" y="349.47" width="9.23" height="7.76" fill="rgb(255, 255, 255)"/>
<rect x="140.05" y="349.47" width="9.23" height="7.76" fill="rgb(165, 167, 213)"/>
<rect x="148.83" y="349.47" width="18.02" height="7.76" fill="rgb(64, 84, 166)"/>
<rect x="166.40" y="349.47" width="18.02" height="7.76" fill="rgb(255, 255, 255)"/>
<rect x="183.96" y="349.47" width="9.23" height="7.76" fill="rgb(251, 232, 234)"/>
<rect x="192.75" y="349.47" width="9.23" height="7.76" fill="rgb(255, 255, 255)"/>
<rect x="201.53" y="349.47" width="9.23" height="7.76" fill="rgb(64, 84, 166)"/>
<rect x="210.31" y="349.47" width="9.23" height="7.76" fill="rgb(226, 225, 240)"/>
<rect x="219.09" y="349.47" width="9.23" height="7.76" fill="rgb(255, 255, 255)"/>
<rect x="227.88" y="349.47" width="18.02" height="7.76" fill="rgb(251, 232, 234)"/>
<rect x="245.44" y="349.47" width="9.23" height="7.76" fill="rgb(108, 114, 188)"/>
<rect x="254.23" y="349.47" width="9.23" height="7.76" fill="rgb(198, 198, 229)"/>
<rect x="263.01" y="349.47" width="9.23" height="7.76" fill="rgb(64, 84, 166)"/>
<rect x="271.79" y="349.47" width="9.23" height="7.76" fill="rgb(108, 114, 188)"/>
<rect x="280.57" y="349.47" width="9.23" height="7.76" fill="rgb(255, 255, 255)"/>
<rect x="289.36" y="349.47" width="9.23" height="7.76" fill="rgb(64, 84, 166)"/>
<rect x="298.14" y="349.47" width="9.23" height="7.76" fill="rgb(255, 255, 255)"/>
<rect x="306.92" y="349.47" width="18.02" height="7.76" fill="rgb(165, 167, 213)"/>
<rect x="324.49" y="349.47" width="9.23" height="7.76" fill="rgb(108, 114, 188)"/>
<rect x="333.27" y="349.47" width="35.58" height="7.76" fill="rgb(255, 255, 255)"/>
<rect x="368.40" y="349.47" width="18.02" height="7.76" fill="rgb(226, 225, 240)"/>
<rect x="385.97" y="349.47" width="9.23" height="7.76" fill="rgb(64, 84, 166)"/>
<rect x="394.75" y="349.47" width="9.23" height="7.76" fill="rgb(108, 114, 188)"/>
<rect x="403.54" y="349.47" width="9.23" height="7.76" fill="rgb(255, 255, 255)"/>
<rect x="412.32" y="349.47" width="9.23" height="7.76" fill="rgb(108, 114, 188)"/>
<rect x="421.10" y="349.47" width="9.23" height="7.76" fill="rgb(226, 225, 240)"/>
<rect x="429.89" y="349.47" width="9.23" height="7.76" fill="rgb(255, 255, 255)"/>
<rect x="438.67" y="349.47" width="18.02" height="7.76" fill="rgb(226, 225, 240)"/>
<rect x="456.23" y="349.47" width="9.23" height="7.76" fill="rgb(255, 255, 255)"/>
<rect x="465.02" y="349.47" width="9.23" height="7.76" fill="rgb(165, 167, 213)"/>
<rect x="473.80" y="349.47" width="9.23" height="7.76" fill="rgb(226, 225, 240)"/>
<rect x="482.58" y="349.47" width="18.02" height="7.76" fill="rgb(165, 167, 213)"/>
<rect x="500.15" y="349.47" width="9.23" height="7.76" fill="rgb(64, 84, 166)"/>
<rect x="508.93" y="349.47" width="9.23" height="7.76" fill="rgb(226, 225, 240)"/>
<rect x="517.72" y="349.47" width="61.93" height="7.76" fill="rgb(255, 255, 255)"/>
<rect x="579.20" y="349.47" width="8.78" height="7.76" fill="rgb(226, 225, 240)"/>
<rect x="61.00" y="356.78" width="9.23" height="7.76" fill="rgb(226, 225, 240)"/>
<rect x="69.78" y="356.78" width="9.23" height="7.76" fill="rgb(108, 114, 188)"/>
<rect x="78.57" y="356.78" width="18.02" height="7.76" fill="rgb(64, 84, 166)"/>
<rect x="96.13" y="356.78" width="18.02" height="7.76" fill="rgb(226, 225, 240)"/>
<rect x="113.70" y="356.78" width="9.23" height="7.76" fill="rgb(251, 232, 234)"/>
<rect x="122.48" y="356.78" width="9.23" height="7.76" fill="rgb(64, 84, 166)"/>
<rect x="131.26" y="356.78" width="9.23" height="7.76" fill="rgb(255, 255, 255)"/>
<rect x="140.05" y="356.78" width="9.23" height="7.76" fill="rgb(165, 167, 213)"/>
<rect x="148.83" y="356.78" width="18.02" height="7.76" fill="rgb(226, 225, 240)"/>
<rect x="166.40" y="356.78" width="26.80" height="7.76" fill="rgb(165, 167, 213)"/>
<rect x="192.75" y="356.78" width="18.02" height="7.76" fill="rgb(255, 255, 255)"/>
<rect x="210.31" y="356.78" width="9.23" height="7.76" fill="rgb(226, 225, 240)"/>
<rect x="219.09" y="356.78" width="9.23" height="7.76" fill="rgb(255, 255, 255)"/>
<rect x="227.88" y="356.78" width="18.02" height="7.76" fill="rgb(251, 232, 234)"/>
<rect x="245.44" y="356.78" width="9.23" height="7.76" fill="rgb(108, 114, 188)"/>
<rect x="254.23" y="356.78" width="9.23" height="7.76" fill="rgb(198, 198, 229)"/>
<rect x="263.01" y="356.78" width="9.23" height="7.76" fill="rgb(64, 84, 166)"/>
<rect x="271.79" y="356.78" width="9.23" height="7.76" fill="rgb(108, 114, 188)"/>
<rect x="280.57" y="356.78" width="9.23" height="7.76" fill="rgb(255, 255, 255)"/>
<rect x="289.36" y="356.78" width="9.23" height="7.76" fill="rgb(64, 84, 166)"/>
<rect x="298.14" y="356.78" width="9.23" height="7.76" fill="rgb(255, 255, 255)"/>
<rect x="306.92" y="356.78" width="9.23" height="7.76" fill="rgb(226, 225, 240)"/>
<rect x="315.71" y="356.78" width="9.23" height="7.76" fill="rgb(250, 212, 214)"/>
<rect x="324.49" y="356.78" width="44.36" height="7.76" fill="rgb(255, 255, 255)"/>
<rect x="368.40" y="356.78" width="9.23" height="7.76" fill="rgb(226, 225, 240)"/>
<rect x="377.19" y="356.78" width="9.23" height="7.76" fill="rgb(64, 84, 166)"/>
<rect x="385.97" y="356.78" width="9.23" height="7.76" fill="rgb(226, 225, 240)"/>
<rect x="394.75" y="356.78" width="9.23" height="7.76" fill="rgb(251, 232, 234)"/>
<rect x="403.54" y="356.78" width="9.23" height="7.76" fill="rgb(255, 255, 255)"/>
<rect x="412.32" y="356.78" width="9.23" height="7.76" fill="rgb(64, 84, 166)"/>
<rect x="421.10" y="356.78" width="9.23" height="7.76" fill="rgb(226, 225, 240)"/>
<rect x="429.89" y="356.78" width="9.23" height="7.76" fill="rgb(255, 255, 255)"/>
<rect x="438.67" y="356.78" width="18.02" height="7.76" fill="rgb(226, 225, 240)"/>
<rect x="456.23" y="356.78" width="9.23" height="7.76" fill="rgb(165, 167, 213)"/>
<rect x="465.02" y="356.78" width="9.23" height="7.76" fill="rgb(250, 212, 214)"/>
<rect x="473.80" y="356.78" width="9.23" height="7.76" fill="rgb(226, 225, 240)"/>
<rect x="482.58" y="356.78" width="18.02" height="7.76" fill="rgb(108, 114, 188)"/>
<rect x="500.15" y="356.78" width="9.23" height="7.76" fill="rgb(245, 162, 167)"/>
<rect x="508.93" y="356.78" width="9.23" height="7.76" fill="rgb(226, 225, 240)"/>
<rect x="517.72" y="356.78" width="61.93" height="7.76" fill="rgb(255, 255, 255)"/>
<rect x="579.20" y="356.78" width="8.78" height="7.76" fill="rgb(226, 225, 240)"/>
<rect x="61.00" y="364.09" width="9.23" height="7.76" fill="rgb(226, 225, 240)"/>
<rect x="69.78" y="364.09" width="9.23" height="7.76" fill="rgb(88, 98, 174)"/>
<rect x="78.57" y="364.09" width="18.02" height="7.76" fill="rgb(64, 84, 166)"/>
<rect x="96.13" y="364.09" width="18.02" height="7.76" fill="rgb(226, 225, 240)"/>
<rect x="113.70" y="364.09" width="9.23" height="7.76" fill="rgb(251, 232, 234)"/>
<rect x="122.48" y="364.09" width="9.23" height="7.76" fill="rgb(88, 98, 174)"/>
<rect x="131.26" y="364.09" width="9.23" height="7.76" fill="rgb(255, 255, 255)"/>
<rect x="140.05" y="364.09" width="26.80" height="7.76" fill="rgb(226, 225, 240)"/>
<rect x="166.40" y="364.09" width="18.02" height="7.76" fill="rgb(255, 255, 255)"/>
<rect x="183.96" y="364.09" width="9.23" height="7.76" fill="rgb(251, 232, 234)"/>
<rect x="192.75" y="364.09" width="9.23" height="7.76" fill="rgb(255, 255, 255)"/>
<rect x="201.53" y="364.09" width="9.23" height="7.76" fill="rgb(108, 114, 188)"/>
<rect x="210.31" y="364.09" width="9.23" height="7.76" fill="rgb(226, 225, 240)"/>
<rect x="219.09" y="364.09" width="9.23" height="7.76" fill="rgb(108, 114, 188)"/>
<rect x="227.88" y="364.09" width="26.80" height="7.76" fill="rgb(251, 232, 234)"/>
<rect x="254.23" y="364.09" width="9.23" height="7.76" fill="rgb(198, 198, 229)"/>
<rect x="263.01" y="364.09" width="18.02" height="7.76" fill="rgb(226, 225, 240)"/>
<rect x="280.57" y="364.09" width="9.23" height="7.76" fill="rgb(255, 255, 255)"/>
<rect x="289.36" y="364.09" width="9.23" height="7.76" fill="rgb(64, 84, 166)"/>
<rect x="298.14" y="364.09" width="9.23" height="7.76" fill="rgb(165, 167, 213)"/>
<rect x="306.92" y="364.09" width="9.23" height="7.76" fill="rgb(255, 255, 255)"/>
<rect x="315.71" y="364.09" width="18.02" height="7.76" fill="rgb(165, 167, 213)"/>
<rect x="333.27" y="364.09" width="35.58" height="7.76" fill="rgb(255, 255, 255)"/>
<rect x="368.40" y="364.09" width="9.23" height="7.76" fill="rgb(226, 225, 240)"/>
<rect x="377.19" y="364.09" width="9.23" height="7.76" fill="rgb(198, 198, 229)"/>
<rect x="385.97" y="364.09" width="9.23" height="7.76" fill="rgb(226, 225, 240)"/>
<rect x="394.75" y="364.09" width="9.23" height="7.76" fill="rgb(245, 162, 167)"/>
<rect x="403.54" y="364.09" width="9.23" height="7.76" fill="rgb(165, 167, 213)"/>
<rect x="412.32" y="364.09" width="9.23" height="7.76" fill="rgb(108, 114, 188)"/>
<rect x="421.10" y="364.09" width="9.23" height="7.76" fill="rgb(226, 225, 240)"/>
<rect x="429.89" y="364.09" width="9.23" height="7.76" fill="rgb(255, 255, 255)"/>
<rect x="438.67" y="364.09" width="18.02" height="7.76" fill="rgb(108, 114, 188)"/>
<rect x="456.23" y="364.09" width="18.02" height="7.76" fill="rgb(250, 212, 214)"/>
<rect x="473.80" y="364.09" width="9.23" height="7.76" fill="rgb(255, 255, 255)"/>
<rect x="482.58" y="364.09" width="18.02" height="7.76" fill="rgb(226, 225, 240)"/>
<rect x="500.15" y="364.09" width="18.02" height="7.76" fill="rgb(165, 167, 213)"/>
<rect x="517.72" y="364.09" width="61.93" height="7.76" fill="rgb(255, 255, 255)"/>
<rect x="579.20" y="364.09" width="8.78" height="7.76" fill="rgb(226, 225, 240)"/>
<rect x="61.00" y="371.41" width="9.23" height="7.76" fill="rgb(226, 225, 240)"/>
<rect x="69.78" y="371.41" width="9.23" height="7.76" fill="rgb(255, 255, 255)"/>
<rect x="78.57" y="371.41" width="18.02" height="7.76" fill="rgb(251, 232, 234)"/>
<rect x="96.13" y="371.41" width="9.23" height="7.76" fill="rgb(240, 124, 130)"/>
<rect x="104.91" y="371.41" width="9.23" height="7.76" fill="rgb(226, 225, 240)"/>
<rect x="113.70" y="371.41" width="18.02" height="7.76" fill="rgb(251, 232, 234)"/>
<rect x="131.26" y="371.41" width="9.23" height="7.76" fill="rgb(255, 255, 255)"/>
<rect x="140.05" y="371.41" width="9.23" height="7.76" fill="rgb(251, 232, 234)"/>
<rect x="148.83" y="371.41" width="18.02" height="7.76" fill="rgb(226, 225, 240)"/>
<rect x="166.40" y="371.41" width="18.02" height="7.76" fill="rgb(255, 255, 255)"/>
<rect x="183.96" y="371.41" width="9.23" height="7.76" fill="rgb(251, 232, 234)"/>
<rect x="192.75" y="371.41" width="18.02" height="7.76" fill="rgb(255, 255, 255)"/>
<rect x="210.31" y="371.41" width="9.23" height="7.76" fill="rgb(226, 225, 240)"/>
<rect x="219.09" y="371.41" width="9.23" height="7.76" fill="rgb(255, 255, 255)"/>
<rect x="227.88" y="371.41" width="18.02" height="7.76" fill="rgb(251, 232, 234)"/>
<rect x="245.44" y="371.41" width="9.23" height="7.76" fill="rgb(245, 162, 167)"/>
<rect x="254.23" y="371.41" width="9.23" height="7.76" fill="rgb(198, 198, 229)"/>
<rect x="263.01" y="371.41" width="9.23" height="7.76" fill="rgb(255, 255, 255)"/>
<rect x="271.79" y="371.41" width="9.23" height="7.76" fill="rgb(226, 225, 240)"/>
<rect x="280.57" y="371.41" width="9.23" height="7.76" fill="rgb(255, 255, 255)"/>
<rect x="289.36" y="371.41" width="9.23" height="7.76" fill="rgb(226, 225, 240)"/>
<rect x="298.14" y="371.41" width="18.02" height="7.76" fill="rgb(255, 255, 255)"/>
<rect x="315.71" y="371.41" width="9.23" height="7.76" fill="rgb(250, 212, 214)"/>
<rect x="324.49" y="371.41" width="9.23" height="7.76" fill="rgb(64, 84, 166)"/>
<rect x="333.27" y="371.41" width="35.58" height="7.76" fill="rgb(255, 255, 255)"/>
<rect x="368.40" y="371.41" width="18.02" height="7.76" fill="rgb(226, 225, 240)"/>
<rect x="385.97" y="371.41" width="18.02" height="7.76" fill="rgb(251, 232, 234)"/>
<rect x="403.54" y="371.41" width="18.02" height="7.76" fill="rgb(250, 212, 214)"/>
<rect x="421.10" y="371.41" width="9.23" height="7.76" fill="rgb(226, 225, 240)"/>
<rect x="429.89" y="371.41" width="9.23" height="7.76" fill="rgb(255, 255, 255)"/>
<rect x="438.67" y="371.41" width="18.02" height="7.76" fill="rgb(226, 225, 240)"/>
<rect x="456.23" y="371.41" width="9.23" height="7.76" fill="rgb(255, 255, 255)"/>
<rect x="465.02" y="371.41" width="9.23" height="7.76" fill="rgb(250, 212, 214)"/>
<rect x="473.80" y="371.41" width="26.80" height="7.76" fill="rgb(255, 255, 255)"/>
<rect x="500.15" y="371.41" width="9.23" height="7.76" fill="rgb(108, 114, 188)"/>
<rect x="508.93" y="371.41" width="9.23" height="7.76" fill="rgb(198, 198, 229)"/>
<rect x="517.72" y="371.41" width="26.80" height="7.76" fill="rgb(255, 255, 255)"/>
<rect x="544.07" y="371.41" width="9.23" height="7.76" fill="rgb(198, 198, 229)"/>
<rect x="552.85" y="371.41" width="26.80" height="7.76" fill="rgb(255, 255, 255)"/>
<rect x="579.20" y="371.41" width="8.78" height="7.76" fill="rgb(198, 198, 229)"/>
<rect x="61.00" y="378.72" width="9.23" height="7.76" fill="rgb(165, 167, 213)"/>
<rect x="69.78" y="378.72" width="9.23" height="7.76" fill="rgb(255, 255, 255)"/>
<rect x="78.57" y="378.72" width="18.02" height="7.76" fill="rgb(251, 232, 234)"/>
<rect x="96.13" y="378.72" width="9.23" height="7.76" fill="rgb(240, 124, 130)"/>
<rect x="104.91" y="378.72" width="9.23" height="7.76" fill="rgb(226, 225, 240)"/>
<rect x="113.70" y="378.72" width="18.02" height="7.76" fill="rgb(251, 232, 234)"/>
<rect x="131.26" y="378.72" width="9.23" height="7.76" fill="rgb(255, 255, 255)"/>
<rect x="140.05" y="378.72" width="9.23" height="7.76" fill="rgb(108, 114, 188)"/>
<rect x="148.83" y="378.72" width="9.23" height="7.76" fill="rgb(251, 232, 234)"/>
<rect x="157.61" y="378.72" width="9.23" height="7.76" fill="rgb(226, 225, 240)"/>
<rect x="166.40" y="378.72" width="9.23" height="7.76" fill="rgb(165, 167, 213)"/>
<rect x="175.18" y="378.72" width="9.23" height="7.76" fill="rgb(108, 114, 188)"/>
<rect x="183.96" y="378.72" width="9.23" height="7.76" fill="rgb(226, 225, 240)"/>
<rect x="192.75" y="378.72" width="18.02" height="7.76" fill="rgb(255, 255, 255)"/>
<rect x="210.31" y="378.72" width="9.23" height="7.76" fill="rgb(226, 225, 240)"/>
<rect x="219.09" y="378.72" width="9.23" height="7.76" fill="rgb(255, 255, 255)"/>
<rect x="227.88" y="378.72" width="18.02" height="7.76" fill="rgb(251, 232, 234)"/>
<rect x="245.44" y="378.72" width="9.23" height="7.76" fill="rgb(245, 162, 167)"/>
<rect x="254.23" y="378.72" width="9.23" height="7.76" fill="rgb(198, 198, 229)"/>
<rect x="263.01" y="378.72" width="9.23" height="7.76" fill="rgb(165, 167, 213)"/>
<rect x="271.79" y="378.72" width="9.23" height="7.76" fill="rgb(108, 114, 188)"/>
<rect x="280.57" y="378.72" width="9.23" height="7.76" fill="rgb(255, 255, 255)"/>
<rect x="289.36" y="378.72" width="9.23" height="7.76" fill="rgb(226, 225, 240)"/>
<rect x="298.14" y="378.72" width="9.23" height="7.76" fill="rgb(255, 255, 255)"/>
<rect x="306.92" y="378.72" width="9.23" height="7.76" fill="rgb(226, 225, 240)"/>
<rect x="315.71" y="378.72" width="9.23" height="7.76" fill="rgb(250, 212, 214)"/>
<rect x="324.49" y="378.72" width="44.36" height="7.76" fill="rgb(255, 255, 255)"/>
<rect x="368.40" y="378.72" width="26.80" height="7.76" fill="rgb(226, 225, 240)"/>
<rect x="394.75" y="378.72" width="9.23" height="7.76" fill="rgb(251, 232, 234)"/>
<rect x="403.54" y="378.72" width="9.23" height="7.76" fill="rgb(108, 114, 188)"/>
<rect x="412.32" y="378.72" width="9.23" height="7.76" fill="rgb(250, 212, 214)"/>
<rect x="421.10" y="378.72" width="9.23" height="7.76" fill="rgb(226, 225, 240)"/>
<rect x="429.89" y="378.72" width="9.23" height="7.76" fill="rgb(255, 255, 255)"/>
<rect x="438.67" y="378.72" width="18.02" height="7.76" fill="rgb(226, 225, 240)"/>
<rect x="456.23" y="378.72" width="9.23" height="7.76" fill="rgb(255, 255, 255)"/>
<rect x="465.02" y="378.72" width="9.23" height="7.76" fill="rgb(165, 167, 213)"/>
<rect x="473.80" y="378.72" width="26.80" height="7.76" fill="rgb(255, 255, 255)"/>
<rect x="500.15" y="378.72" width="9.23" height="7.76" fill="rgb(250, 212, 214)"/>
<rect x="508.93" y="378.72" width="9.23" height="7.76" fill="rgb(198, 198, 229)"/>
<rect x="517.72" y="378.72" width="61.93" height="7.76" fill="rgb(255, 255, 255)"/>
<rect x="579.20" y="378.72" width="8.78" height="7.76" fill="rgb(250, 212, 214)"/>
<rect x="61.00" y="386.04" width="526.98" height="7.76" fill="rgb(255, 255, 255)"/>
<rect x="61.00" y="393.35" width="9.23" height="7.76" fill="rgb(226, 225, 240)"/>
<rect x="69.78" y="393.35" width="26.80" height="7.76" fill="rgb(238, 92, 98)"/>
<rect x="96.13" y="393.35" width="18.02" height="7.76" fill="rgb(226, 225, 240)"/>
<rect x="113.70" y="393.35" width="18.02" height="7.76" fill="rgb(251, 232, 234)"/>
<rect x="131.26" y="393.35" width="9.23" height="7.76" fill="rgb(255, 255, 255)"/>
<rect x="140.05" y="393.35" width="9.23" height="7.76" fill="rgb(251, 232, 234)"/>
<rect x="148.83" y="393.35" width="18.02" height="7.76" fill="rgb(226, 225, 240)"/>
<rect x="166.40" y="393.35" width="18.02" height="7.76" fill="rgb(255, 255, 255)"/>
<rect x="183.96" y="393.35" width="9.23" height="7.76" fill="rgb(251, 232, 234)"/>
<rect x="192.75" y="393.35" width="18.02" height="7.76" fill="rgb(255, 255, 255)"/>
<rect x="210.31" y="393.35" width="9.23" height="7.76" fill="rgb(226, 225, 240)"/>
<rect x="219.09" y="393.35" width="9.23" height="7.76" fill="rgb(255, 255, 255)"/>
<rect x="227.88" y="393.35" width="18.02" height="7.76" fill="rgb(251, 232, 234)"/>
<rect x="245.44" y="393.35" width="9.23" height="7.76" fill="rgb(250, 212, 214)"/>
<rect x="254.23" y="393.35" width="9.23" height="7.76" fill="rgb(238, 92, 98)"/>
<rect x="263.01" y="393.35" width="9.23" height="7.76" fill="rgb(255, 255, 255)"/>
<rect x="271.79" y="393.35" width="9.23" height="7.76" fill="rgb(108, 114, 188)"/>
<rect x="280.57" y="393.35" width="9.23" height="7.76" fill="rgb(238, 92, 98)"/>
<rect x="289.36" y="393.35" width="9.23" height="7.76" fill="rgb(64, 84, 166)"/>
<rect x="298.14" y="393.35" width="9.23" height="7.76" fill="rgb(255, 255, 255)"/>
<rect x="306.92" y="393.35" width="9.23" height="7.76" fill="rgb(108, 114, 188)"/>
<rect x="315.71" y="393.35" width="9.23" height="7.76" fill="rgb(250, 212, 214)"/>
<rect x="324.49" y="393.35" width="44.36" height="7.76" fill="rgb(255, 255, 255)"/>
<rect x="368.40" y="393.35" width="18.02" height="7.76" fill="rgb(64, 84, 166)"/>
<rect x="385.97" y="393.35" width="9.23" height="7.76" fill="rgb(226, 225, 240)"/>
<rect x="394.75" y="393.35" width="9.23" height="7.76" fill="rgb(251, 232, 234)"/>
<rect x="403.54" y="393.35" width="9.23" height="7.76" fill="rgb(250, 212, 214)"/>
<rect x="412.32" y="393.35" width="9.23" height="7.76" fill="rgb(64, 84, 166)"/>
<rect x="421.10" y="393.35" width="9.23" height="7.76" fill="rgb(226, 225, 240)"/>
<rect x="429.89" y="393.35" width="9.23" height="7.76" fill="rgb(255, 255, 255)"/>
<rect x="438.67" y="393.35" width="18.02" height="7.76" fill="rgb(226, 225, 240)"/>
<rect x="456.23" y="393.35" width="9.23" height="7.76" fill="rgb(255, 255, 255)"/>
<rect x="465.02" y="393.35" width="9.23" height="7.76" fill="rgb(250, 212, 214)"/>
<rect x="473.80" y="393.35" width="9.23" height="7.76" fill="rgb(255, 255, 255)"/>
<rect x="482.58" y="393.35" width="18.02" height="7.76" fill="rgb(108, 114, 188)"/>
<rect x="500.15" y="393.35" width="9.23" height="7.76" fill="rgb(64, 84, 166)"/>
<rect x="508.93" y="393.35" width="9.23" height="7.76" fill="rgb(250, 212, 214)"/>
<rect x="517.72" y="393.35" width="26.80" height="7.76" fill="rgb(255, 255, 255)"/>
<rect x="544.07" y="393.35" width="9.23" height="7.76" fill="rgb(64, 84, 166)"/>
<rect x="552.85" y="393.35" width="26.80" height="7.76" fill="rgb(255, 255, 255)"/>
<rect x="579.20" y="393.35" width="8.78" height="7.76" fill="rgb(198, 198, 229)"/>
<rect x="61.00" y="400.66" width="526.98" height="7.76" fill="rgb(255, 255, 255)"/>
<rect x="61.00" y="407.98" width="9.23" height="7.76" fill="rgb(226, 225, 240)"/>
<rect x="69.78" y="407.98" width="35.58" height="7.76" fill="rgb(64, 84, 166)"/>
<rect x="104.91" y="407.98" width="9.23" height="7.76" fill="rgb(226, 225, 240)"/>
<rect x="113.70" y="407.98" width="9.23" height="7.76" fill="rgb(198, 198, 229)"/>
<rect x="122.48" y="407.98" width="9.23" height="7.76" fill="rgb(251, 232, 234)"/>
<rect x="131.26" y="407.98" width="9.23" height="7.76" fill="rgb(255, 255, 255)"/>
<rect x="140.05" y="407.98" width="18.02" height="7.76" fill="rgb(251, 232, 234)"/>
<rect x="157.61" y="407.98" width="9.23" height="7.76" fill="rgb(250, 212, 214)"/>
<rect x="166.40" y="407.98" width="18.02" height="7.76" fill="rgb(255, 255, 255)"/>
<rect x="183.96" y="407.98" width="9.23" height="7.76" fill="rgb(251, 232, 234)"/>
<rect x="192.75" y="407.98" width="9.23" height="7.76" fill="rgb(255, 255, 255)"/>
<rect x="201.53" y="407.98" width="9.23" height="7.76" fill="rgb(165, 167, 213)"/>
<rect x="210.31" y="407.98" width="9.23" height="7.76" fill="rgb(226, 225, 240)"/>
<rect x="219.09" y="407.98" width="9.23" height="7.76" fill="rgb(255, 255, 255)"/>
<rect x="227.88" y="407.98" width="18.02" height="7.76" fill="rgb(251, 232, 234)"/>
<rect x="245.44" y="407.98" width="9.23" height="7.76" fill="rgb(245, 162, 167)"/>
<rect x="254.23" y="407.98" width="9.23" height="7.76" fill="rgb(198, 198, 229)"/>
<rect x="263.01" y="407.98" width="9.23" height="7.76" fill="rgb(108, 114, 188)"/>
<rect x="271.79" y="407.98" width="26.80" height="7.76" fill="rgb(226, 225, 240)"/>
<rect x="298.14" y="407.98" width="18.02" height="7.76" fill="rgb(255, 255, 255)"/>
<rect x="315.71" y="407.98" width="9.23" height="7.76" fill="rgb(226, 225, 240)"/>
<rect x="324.49" y="407.98" width="9.23" height="7.76" fill="rgb(64, 84, 166)"/>
<rect x="333.27" y="407.98" width="35.58" height="7.76" fill="rgb(255, 255, 255)"/>
<rect x="368.40" y="407.98" width="26.80" height="7.76" fill="rgb(226, 225, 240)"/>
<rect x="394.75" y="407.98" width="9.23" height="7.76" fill="rgb(251, 232, 234)"/>
<rect x="403.54" y="407.98" width="18.02" height="7.76" fill="rgb(108, 114, 188)"/>
<rect x="421.10" y="407.98" width="9.23" height="7.76" fill="rgb(226, 225, 240)"/>
<rect x="429.89" y="407.98" width="9.23" height="7.76" fill="rgb(255, 255, 255)"/>
<rect x="438.67" y="407.98" width="18.02" height="7.76" fill="rgb(226, 225, 240)"/>
<rect x="456.23" y="407.98" width="9.23" height="7.76" fill="rgb(255, 255, 255)"/>
<rect x="465.02" y="407.98" width="9.23" height="7.76" fill="rgb(226, 225, 240)"/>
<rect x="473.80" y="407.98" width="9.23" height="7.76" fill="rgb(255, 255, 255)"/>
<rect x="482.58" y="407.98" width="18.02" height="7.76" fill="rgb(240, 124, 130)"/>
<rect x="500.15" y="407.98" width="9.23" height="7.76" fill="rgb(64, 84, 166)"/>
<rect x="508.93" y="407.98" width="9.23" height="7.76" fill="rgb(240, 124, 130)"/>
<rect x="517.72" y="407.98" width="61.93" height="7.76" fill="rgb(255, 255, 255)"/>
<rect x="579.20" y="407.98" width="8.78" height="7.76" fill="rgb(226, 225, 240)"/>
<rect x="61.00" y="415.29" width="526.98" height="7.76" fill="rgb(255, 255, 255)"/>
<rect x="61.00" y="422.61" width="9.23" height="7.76" fill="rgb(165, 167, 213)"/>
<rect x="69.78" y="422.61" width="26.80" height="7.76" fill="rgb(238, 92, 98)"/>
<rect x="96.13" y="422.61" width="18.02" height="7.76" fill="rgb(226, 225, 240)"/>
<rect x="113.70" y="422.61" width="18.02" height="7.76" fill="rgb(251, 232, 234)"/>
<rect x="131.26" y="422.61" width="18.02" height="7.76" fill="rgb(255, 255, 255)"/>
<rect x="148.83" y="422.61" width="9.23" height="7.76" fill="rgb(240, 124, 130)"/>
<rect x="157.61" y="422.61" width="9.23" height="7.76" fill="rgb(226, 225, 240)"/>
<rect x="166.40" y="422.61" width="18.02" height="7.76" fill="rgb(255, 255, 255)"/>
<rect x="183.96" y="422.61" width="9.23" height="7.76" fill="rgb(251, 232, 234)"/>
<rect x="192.75" y="422.61" width="18.02" height="7.76" fill="rgb(255, 255, 255)"/>
<rect x="210.31" y="422.61" width="9.23" height="7.76" fill="rgb(226, 225, 240)"/>
<rect x="219.09" y="422.61" width="9.23" height="7.76" fill="rgb(255, 255, 255)"/>
<rect x="227.88" y="422.61" width="18.02" height="7.76" fill="rgb(64, 84, 166)"/>
<rect x="245.44" y="422.61" width="18.02" height="7.76" fill="rgb(108, 114, 188)"/>
<rect x="263.01" y="422.61" width="9.23" height="7.76" fill="rgb(64, 84, 166)"/>
<rect x="271.79" y="422.61" width="9.23" height="7.76" fill="rgb(165, 167, 213)"/>
<rect x="280.57" y="422.61" width="9.23" height="7.76" fill="rgb(255, 255, 255)"/>
<rect x="289.36" y="422.61" width="9.23" height="7.76" fill="rgb(226, 225, 240)"/>
<rect x="298.14" y="422.61" width="9.23" height="7.76" fill="rgb(255, 255, 255)"/>
<rect x="306.92" y="422.61" width="9.23" height="7.76" fill="rgb(226, 225, 240)"/>
<rect x="315.71" y="422.61" width="9.23" height="7.76" fill="rgb(250, 212, 214)"/>
<rect x="324.49" y="422.61" width="44.36" height="7.76" fill="rgb(255, 255, 255)"/>
<rect x="368.40" y="422.61" width="9.23" height="7.76" fill="rgb(108, 114, 188)"/>
<rect x="377.19" y="422.61" width="18.02" height="7.76" fill="rgb(226, 225, 240)"/>
<rect x="394.75" y="422.61" width="9.23" height="7.76" fill="rgb(251, 232, 234)"/>
<rect x="403.54" y="422.61" width="9.23" height="7.76" fill="rgb(165, 167, 213)"/>
<rect x="412.32" y="422.61" width="9.23" height="7.76" fill="rgb(255, 255, 255)"/>
<rect x="421.10" y="422.61" width="9.23" height="7.76" fill="rgb(226, 225, 240)"/>
<rect x="429.89" y="422.61" width="9.23" height="7.76" fill="rgb(255, 255, 255)"/>
<rect x="438.67" y="422.61" width="18.02" height="7.76" fill="rgb(251, 232, 234)"/>
<rect x="456.23" y="422.61" width="9.23" height="7.76" fill="rgb(255, 255, 255)"/>
<rect x="465.02" y="422.61" width="9.23" height="7.76" fill="rgb(165, 167, 213)"/>
<rect x="473.80" y="422.61" width="9.23" height="7.76" fill="rgb(226, 225, 240)"/>
<rect x="482.58" y="422.61" width="26.80" height="7.76" fill="rgb(64, 84, 166)"/>
<rect x="508.93" y="422.61" width="9.23" height="7.76" fill="rgb(198, 198, 229)"/>
<rect x="517.72" y="422.61" width="26.80" height="7.76" fill="rgb(255, 255, 255)"/>
<rect x="544.07" y="422.61" width="9.23" height="7.76" fill="rgb(165, 167, 213)"/>
<rect x="552.85" y="422.61" width="26.80" height="7.76" fill="rgb(255, 255, 255)"/>
<rect x="579.20" y="422.61" width="8.78" height="7.76" fill="rgb(198, 198, 229)"/>
<rect x="61.00" y="429.92" width="9.23" height="7.76" fill="rgb(245, 162, 167)"/>
<rect x="69.78" y="429.92" width="26.80" height="7.76" fill="rgb(88, 98, 174)"/>
<rect x="96.13" y="429.92" width="18.02" height="7.76" fill="rgb(226, 225, 240)"/>
<rect x="113.70" y="429.92" width="18.02" height="7.76" fill="rgb(251, 232, 234)"/>
<rect x="131.26" y="429.92" width="9.23" height="7.76" fill="rgb(255, 255, 255)"/>
<rect x="140.05" y="429.92" width="9.23" height="7.76" fill="rgb(108, 114, 188)"/>
<rect x="148.83" y="429.92" width="18.02" height="7.76" fill="rgb(226, 225, 240)"/>
<rect x="166.40" y="429.92" width="18.02" height="7.76" fill="rgb(255, 255, 255)"/>
<rect x="183.96" y="429.92" width="9.23" height="7.76" fill="rgb(251, 232, 234)"/>
<rect x="192.75" y="429.92" width="18.02" height="7.76" fill="rgb(255, 255, 255)"/>
<rect x="210.31" y="429.92" width="9.23" height="7.76" fill="rgb(226, 225, 240)"/>
<rect x="219.09" y="429.92" width="9.23" height="7.76" fill="rgb(165, 167, 213)"/>
<rect x="227.88" y="429.92" width="18.02" height="7.76" fill="rgb(251, 232, 234)"/>
<rect x="245.44" y="429.92" width="9.23" height="7.76" fill="rgb(245, 162, 167)"/>
<rect x="254.23" y="429.92" width="9.23" height="7.76" fill="rgb(198, 198, 229)"/>
<rect x="263.01" y="429.92" width="9.23" height="7.76" fill="rgb(238, 92, 98)"/>
<rect x="271.79" y="429.92" width="9.23" height="7.76" fill="rgb(226, 225, 240)"/>
<rect x="280.57" y="429.92" width="9.23" height="7.76" fill="rgb(255, 255, 255)"/>
<rect x="289.36" y="429.92" width="9.23" height="7.76" fill="rgb(226, 225, 240)"/>
<rect x="298.14" y="429.92" width="9.23" height="7.76" fill="rgb(255, 255, 255)"/>
<rect x="306.92" y="429.92" width="9.23" height="7.76" fill="rgb(245, 162, 167)"/>
<rect x="315.71" y="429.92" width="9.23" height="7.76" fill="rgb(250, 212, 214)"/>
<rect x="324.49" y="429.92" width="44.36" height="7.76" fill="rgb(255, 255, 255)"/>
<rect x="368.40" y="429.92" width="26.80" height="7.76" fill="rgb(226, 225, 240)"/>
<rect x="394.75" y="429.92" width="9.23" height="7.76" fill="rgb(251, 232, 234)"/>
<rect x="403.54" y="429.92" width="18.02" height="7.76" fill="rgb(250, 212, 214)"/>
<rect x="421.10" y="429.92" width="9.23" height="7.76" fill="rgb(226, 225, 240)"/>
<rect x="429.89" y="429.92" width="9.23" height="7.76" fill="rgb(255, 255, 255)"/>
<rect x="438.67" y="429.92" width="18.02" height="7.76" fill="rgb(226, 225, 240)"/>
<rect x="456.23" y="429.92" width="9.23" height="7.76" fill="rgb(255, 255, 255)"/>
<rect x="465.02" y="429.92" width="9.23" height="7.76" fill="rgb(165, 167, 213)"/>
<rect x="473.80" y="429.92" width="26.80" height="7.76" fill="rgb(255, 255, 255)"/>
<rect x="500.15" y="429.92" width="9.23" height="7.76" fill="rgb(250, 212, 214)"/>
<rect x="508.93" y="429.92" width="9.23" height="7.76" fill="rgb(198, 198, 229)"/>
<rect x="517.72" y="429.92" width="61.93" height="7.76" fill="rgb(255, 255, 255)"/>
<rect x="579.20" y="429.92" width="8.78" height="7.76" fill="rgb(198, 198, 229)"/>
<rect x="61.00" y="437.23" width="9.23" height="7.76" fill="rgb(108, 114, 188)"/>
<rect x="69.78" y="437.23" width="26.80" height="7.76" fill="rgb(165, 167, 213)"/>
<rect x="96.13" y="437.23" width="18.02" height="7.76" fill="rgb(226, 225, 240)"/>
<rect x="113.70" y="437.23" width="18.02" height="7.76" fill="rgb(251, 232, 234)"/>
<rect x="131.26" y="437.23" width="9.23" height="7.76" fill="rgb(255, 255, 255)"/>
<rect x="140.05" y="437.23" width="9.23" height="7.76" fill="rgb(165, 167, 213)"/>
<rect x="148.83" y="437.23" width="9.23" height="7.76" fill="rgb(226, 225, 240)"/>
<rect x="157.61" y="437.23" width="9.23" height="7.76" fill="rgb(108, 114, 188)"/>
<rect x="166.40" y="437.23" width="18.02" height="7.76" fill="rgb(255, 255, 255)"/>
<rect x="183.96" y="437.23" width="9.23" height="7.76" fill="rgb(251, 232, 234)"/>
<rect x="192.75" y="437.23" width="18.02" height="7.76" fill="rgb(255, 255, 255)"/>
<rect x="210.31" y="437.23" width="9.23" height="7.76" fill="rgb(64, 84, 166)"/>
<rect x="219.09" y="437.23" width="9.23" height="7.76" fill="rgb(165, 167, 213)"/>
<rect x="227.88" y="437.23" width="18.02" height="7.76" fill="rgb(251, 232, 234)"/>
<rect x="245.44" y="437.23" width="9.23" height="7.76" fill="rgb(226, 225, 240)"/>
<rect x="254.23" y="437.23" width="9.23" height="7.76" fill="rgb(198, 198, 229)"/>
<rect x="263.01" y="437.23" width="9.23" height="7.76" fill="rgb(64, 84, 166)"/>
<rect x="271.79" y="437.23" width="9.23" height="7.76" fill="rgb(226, 225, 240)"/>
<rect x="280.57" y="437.23" width="9.23" height="7.76" fill="rgb(255, 255, 255)"/>
<rect x="289.36" y="437.23" width="9.23" height="7.76" fill="rgb(226, 225, 240)"/>
<rect x="298.14" y="437.23" width="9.23" height="7.76" fill="rgb(64, 84, 166)"/>
<rect x="306.92" y="437.23" width="18.02" height="7.76" fill="rgb(108, 114, 188)"/>
<rect x="324.49" y="437.23" width="44.36" height="7.76" fill="rgb(255, 255, 255)"/>
<rect x="368.40" y="437.23" width="9.23" height="7.76" fill="rgb(64, 84, 166)"/>
<rect x="377.19" y="437.23" width="18.02" height="7.76" fill="rgb(226, 225, 240)"/>
<rect x="394.75" y="437.23" width="9.23" height="7.76" fill="rgb(251, 232, 234)"/>
<rect x="403.54" y="437.23" width="18.02" height="7.76" fill="rgb(64, 84, 166)"/>
<rect x="421.10" y="437.23" width="9.23" height="7.76" fill="rgb(226, 225, 240)"/>
<rect x="429.89" y="437.23" width="9.23" height="7.76" fill="rgb(255, 255, 255)"/>
<rect x="438.67" y="437.23" width="18.02" height="7.76" fill="rgb(226, 225, 240)"/>
<rect x="456.23" y="437.23" width="18.02" height="7.76" fill="rgb(165, 167, 213)"/>
<rect x="473.80" y="437.23" width="9.23" height="7.76" fill="rgb(226, 225, 240)"/>
<rect x="482.58" y="437.23" width="18.02" height="7.76" fill="rgb(250, 212, 214)"/>
<rect x="500.15" y="437.23" width="9.23" height="7.76" fill="rgb(64, 84, 166)"/>
<rect x="508.93" y="437.23" width="9.23" height="7.76" fill="rgb(108, 114, 188)"/>
<rect x="517.72" y="437.23" width="26.80" height="7.76" fill="rgb(255, 255, 255)"/>
<rect x="544.07" y="437.23" width="9.23" height="7.76" fill="rgb(64, 84, 166)"/>
<rect x="552.85" y="437.23" width="26.80" height="7.76" fill="rgb(255, 255, 255)"/>
<rect x="579.20" y="437.23" width="8.78" height="7.76" fill="rgb(198, 198, 229)"/>
<rect x="61.00" y="444.55" width="9.23" height="7.76" fill="rgb(108, 114, 188)"/>
<rect x="69.78" y="444.55" width="26.80" height="7.76" fill="rgb(165, 167, 213)"/>
<rect x="96.13" y="444.55" width="9.23" height="7.76" fill="rgb(226, 225, 240)"/>
<rect x="104.91" y="444.55" width="9.23" height="7.76" fill="rgb(64, 84, 166)"/>
<rect x="113.70" y="444.55" width="18.02" height="7.76" fill="rgb(251, 232, 234)"/>
<rect x="131.26" y="444.55" width="9.23" height="7.76" fill="rgb(255, 255, 255)"/>
<rect x="140.05" y="444.55" width="9.23" height="7.76" fill="rgb(251, 232, 234)"/>
<rect x="148.83" y="444.55" width="18.02" height="7.76" fill="rgb(226, 225, 240)"/>
<rect x="166.40" y="444.55" width="18.02" height="7.76" fill="rgb(255, 255, 255)"/>
<rect x="183.96" y="444.55" width="18.02" height="7.76" fill="rgb(64, 84, 166)"/>
<rect x="201.53" y="444.55" width="9.23" height="7.76" fill="rgb(250, 212, 214)"/>
<rect x="210.31" y="444.55" width="9.23" height="7.76" fill="rgb(255, 255, 255)"/>
<rect x="219.09" y="444.55" width="9.23" height="7.76" fill="rgb(64, 84, 166)"/>
<rect x="227.88" y="444.55" width="18.02" height="7.76" fill="rgb(251, 232, 234)"/>
<rect x="245.44" y="444.55" width="9.23" height="7.76" fill="rgb(108, 114, 188)"/>
<rect x="254.23" y="444.55" width="9.23" height="7.76" fill="rgb(198, 198, 229)"/>
<rect x="263.01" y="444.55" width="9.23" height="7.76" fill="rgb(64, 84, 166)"/>
<rect x="271.79" y="444.55" width="9.23" height="7.76" fill="rgb(165, 167, 213)"/>
<rect x="280.57" y="444.55" width="9.23" height="7.76" fill="rgb(255, 255, 255)"/>
<rect x="289.36" y="444.55" width="9.23" height="7.76" fill="rgb(64, 84, 166)"/>
<rect x="298.14" y="444.55" width="18.02" height="7.76" fill="rgb(108, 114, 188)"/>
<rect x="315.71" y="444.55" width="9.23" height="7.76" fill="rgb(250, 212, 214)"/>
<rect x="324.49" y="444.55" width="9.23" height="7.76" fill="rgb(255, 255, 255)"/>
<rect x="333.27" y="444.55" width="9.23" height="7.76" fill="rgb(64, 84, 166)"/>
<rect x="342.06" y="444.55" width="26.80" height="7.76" fill="rgb(255, 255, 255)"/>
<rect x="368.40" y="444.55" width="26.80" height="7.76" fill="rgb(226, 225, 240)"/>
<rect x="394.75" y="444.55" width="9.23" height="7.76" fill="rgb(251, 232, 234)"/>
<rect x="403.54" y="444.55" width="18.02" height="7.76" fill="rgb(64, 84, 166)"/>
<rect x="421.10" y="444.55" width="9.23" height="7.76" fill="rgb(226, 225, 240)"/>
<rect x="429.89" y="444.55" width="9.23" height="7.76" fill="rgb(255, 255, 255)"/>
<rect x="438.67" y="444.55" width="18.02" height="7.76" fill="rgb(64, 84, 166)"/>
<rect x="456.23" y="444.55" width="9.23" height="7.76" fill="rgb(255, 255, 255)"/>
<rect x="465.02" y="444.55" width="9.23" height="7.76" fill="rgb(165, 167, 213)"/>
<rect x="473.80" y="444.55" width="9.23" height="7.76" fill="rgb(255, 255, 255)"/>
<rect x="482.58" y="444.55" width="18.02" height="7.76" fill="rgb(238, 92, 98)"/>
<rect x="500.15" y="444.55" width="9.23" height="7.76" fill="rgb(251, 232, 234)"/>
<rect x="508.93" y="444.55" width="9.23" height="7.76" fill="rgb(250, 212, 214)"/>
<rect x="517.72" y="444.55" width="26.80" height="7.76" fill="rgb(255, 255, 255)"/>
<rect x="544.07" y="444.55" width="9.23" height="7.76" fill="rgb(108, 114, 188)"/>
<rect x="552.85" y="444.55" width="26.80" height="7.76" fill="rgb(255, 255, 255)"/>
<rect x="579.20" y="444.55" width="8.78" height="7.76" fill="rgb(198, 198, 229)"/>
<rect x="61.00" y="451.86" width="9.23" height="7.76" fill="rgb(226, 225, 240)"/>
<rect x="69.78" y="451.86" width="9.23" height="7.76" fill="rgb(250, 212, 214)"/>
<rect x="78.57" y="451.86" width="18.02" height="7.76" fill="rgb(165, 167, 213)"/>
<rect x="96.13" y="451.86" width="18.02" height="7.76" fill="rgb(226, 225, 240)"/>
<rect x="113.70" y="451.86" width="18.02" height="7.76" fill="rgb(251, 232, 234)"/>
<rect x="131.26" y="451.86" width="9.23" height="7.76" fill="rgb(255, 255, 255)"/>
<rect x="140.05" y="451.86" width="9.23" height="7.76" fill="rgb(250, 212, 214)"/>
<rect x="148.83" y="451.86" width="18.02" height="7.76" fill="rgb(226, 225, 240)"/>
<rect x="166.40" y="451.86" width="18.02" height="7.76" fill="rgb(255, 255, 255)"/>
<rect x="183.96" y="451.86" width="9.23" height="7.76" fill="rgb(240, 124, 130)"/>
<rect x="192.75" y="451.86" width="9.23" height="7.76" fill="rgb(165, 167, 213)"/>
<rect x="201.53" y="451.86" width="9.23" height="7.76" fill="rgb(255, 255, 255)"/>
<rect x="210.31" y="451.86" width="9.23" height="7.76" fill="rgb(226, 225, 240)"/>
<rect x="219.09" y="451.86" width="9.23" height="7.76" fill="rgb(255, 255, 255)"/>
<rect x="227.88" y="451.86" width="18.02" height="7.76" fill="rgb(251, 232, 234)"/>
<rect x="245.44" y="451.86" width="9.23" height="7.76" fill="rgb(245, 162, 167)"/>
<rect x="254.23" y="451.86" width="9.23" height="7.76" fill="rgb(226, 225, 240)"/>
<rect x="263.01" y="451.86" width="9.23" height="7.76" fill="rgb(165, 167, 213)"/>
<rect x="271.79" y="451.86" width="9.23" height="7.76" fill="rgb(245, 162, 167)"/>
<rect x="280.57" y="451.86" width="9.23" height="7.76" fill="rgb(255, 255, 255)"/>
<rect x="289.36" y="451.86" width="9.23" height="7.76" fill="rgb(108, 114, 188)"/>
<rect x="298.14" y="451.86" width="9.23" height="7.76" fill="rgb(238, 92, 98)"/>
<rect x="306.92" y="451.86" width="9.23" height="7.76" fill="rgb(226, 225, 240)"/>
<rect x="315.71" y="451.86" width="9.23" height="7.76" fill="rgb(250, 212, 214)"/>
<rect x="324.49" y="451.86" width="9.23" height="7.76" fill="rgb(255, 255, 255)"/>
<rect x="333.27" y="451.86" width="9.23" height="7.76" fill="rgb(108, 114, 188)"/>
<rect x="342.06" y="451.86" width="26.80" height="7.76" fill="rgb(255, 255, 255)"/>
<rect x="368.40" y="451.86" width="26.80" height="7.76" fill="rgb(226, 225, 240)"/>
<rect x="394.75" y="451.86" width="9.23" height="7.76" fill="rgb(251, 232, 234)"/>
<rect x="403.54" y="451.86" width="9.23" height="7.76" fill="rgb(165, 167, 213)"/>
<rect x="412.32" y="451.86" width="26.80" height="7.76" fill="rgb(250, 212, 214)"/>
<rect x="438.67" y="451.86" width="26.80" height="7.76" fill="rgb(226, 225, 240)"/>
<rect x="465.02" y="451.86" width="9.23" height="7.76" fill="rgb(165, 167, 213)"/>
<rect x="473.80" y="451.86" width="9.23" height="7.76" fill="rgb(226, 225, 240)"/>
<rect x="482.58" y="451.86" width="18.02" height="7.76" fill="rgb(165, 167, 213)"/>
<rect x="500.15" y="451.86" width="9.23" height="7.76" fill="rgb(250, 212, 214)"/>
<rect x="508.93" y="451.86" width="9.23" height="7.76" fill="rgb(198, 198, 229)"/>
<rect x="517.72" y="451.86" width="61.93" height="7.76" fill="rgb(255, 255, 255)"/>
<rect x="579.20" y="451.86" width="8.78" height="7.76" fill="rgb(250, 212, 214)"/>
<rect x="61.00" y="459.18" width="9.23" height="7.76" fill="rgb(226, 225, 240)"/>
<rect x="69.78" y="459.18" width="9.23" height="7.76" fill="rgb(255, 255, 255)"/>
<rect x="78.57" y="459.18" width="18.02" height="7.76" fill="rgb(251, 232, 234)"/>
<rect x="96.13" y="459.18" width="18.02" height="7.76" fill="rgb(226, 225, 240)"/>
<rect x="113.70" y="459.18" width="18.02" height="7.76" fill="rgb(251, 232, 234)"/>
<rect x="131.26" y="459.18" width="9.23" height="7.76" fill="rgb(255, 255, 255)"/>
<rect x="140.05" y="459.18" width="9.23" height="7.76" fill="rgb(251, 232, 234)"/>
<rect x="148.83" y="459.18" width="18.02" height="7.76" fill="rgb(226, 225, 240)"/>
<rect x="166.40" y="459.18" width="18.02" height="7.76" fill="rgb(255, 255, 255)"/>
<rect x="183.96" y="459.18" width="9.23" height="7.76" fill="rgb(251, 232, 234)"/>
<rect x="192.75" y="459.18" width="18.02" height="7.76" fill="rgb(255, 255, 255)"/>
<rect x="210.31" y="459.18" width="9.23" height="7.76" fill="rgb(226, 225, 240)"/>
<rect x="219.09" y="459.18" width="9.23" height="7.76" fill="rgb(255, 255, 255)"/>
<rect x="227.88" y="459.18" width="18.02" height="7.76" fill="rgb(251, 232, 234)"/>
<rect x="245.44" y="459.18" width="9.23" height="7.76" fill="rgb(245, 162, 167)"/>
<rect x="254.23" y="459.18" width="9.23" height="7.76" fill="rgb(198, 198, 229)"/>
<rect x="263.01" y="459.18" width="9.23" height="7.76" fill="rgb(255, 255, 255)"/>
<rect x="271.79" y="459.18" width="9.23" height="7.76" fill="rgb(240, 124, 130)"/>
<rect x="280.57" y="459.18" width="9.23" height="7.76" fill="rgb(255, 255, 255)"/>
<rect x="289.36" y="459.18" width="9.23" height="7.76" fill="rgb(108, 114, 188)"/>
<rect x="298.14" y="459.18" width="9.23" height="7.76" fill="rgb(255, 255, 255)"/>
<rect x="306.92" y="459.18" width="9.23" height="7.76" fill="rgb(108, 114, 188)"/>
<rect x="315.71" y="459.18" width="9.23" height="7.76" fill="rgb(250, 212, 214)"/>
<rect x="324.49" y="459.18" width="44.36" height="7.76" fill="rgb(255, 255, 255)"/>
<rect x="368.40" y="459.18" width="9.23" height="7.76" fill="rgb(245, 162, 167)"/>
<rect x="377.19" y="459.18" width="18.02" height="7.76" fill="rgb(226, 225, 240)"/>
<rect x="394.75" y="459.18" width="9.23" height="7.76" fill="rgb(251, 232, 234)"/>
<rect x="403.54" y="459.18" width="9.23" height="7.76" fill="rgb(64, 84, 166)"/>
<rect x="412.32" y="459.18" width="9.23" height="7.76" fill="rgb(250, 212, 214)"/>
<rect x="421.10" y="459.18" width="9.23" height="7.76" fill="rgb(226, 225, 240)"/>
<rect x="429.89" y="459.18" width="9.23" height="7.76" fill="rgb(255, 255, 255)"/>
<rect x="438.67" y="459.18" width="18.02" height="7.76" fill="rgb(226, 225, 240)"/>
<rect x="456.23" y="459.18" width="9.23" height="7.76" fill="rgb(255, 255, 255)"/>
<rect x="465.02" y="459.18" width="9.23" height="7.76" fill="rgb(250, 212, 214)"/>
<rect x="473.80" y="459.18" width="9.23" height="7.76" fill="rgb(255, 255, 255)"/>
<rect x="482.58" y="459.18" width="18.02" height="7.76" fill="rgb(108, 114, 188)"/>
<rect x="500.15" y="459.18" width="9.23" height="7.76" fill="rgb(251, 232, 234)"/>
<rect x="508.93" y="459.18" width="9.23" height="7.76" fill="rgb(250, 212, 214)"/>
<rect x="517.72" y="459.18" width="61.93" height="7.76" fill="rgb(255, 255, 255)"/>
<rect x="579.20" y="459.18" width="8.78" height="7.76" fill="rgb(64, 84, 166)"/>
<rect x="61.00" y="466.49" width="9.23" height="7.76" fill="rgb(226, 225, 240)"/>
<rect x="69.78" y="466.49" width="9.23" height="7.76" fill="rgb(255, 255, 255)"/>
<rect x="78.57" y="466.49" width="18.02" height="7.76" fill="rgb(251, 232, 234)"/>
<rect x="96.13" y="466.49" width="18.02" height="7.76" fill="rgb(226, 225, 240)"/>
<rect x="113.70" y="466.49" width="18.02" height="7.76" fill="rgb(251, 232, 234)"/>
<rect x="131.26" y="466.49" width="9.23" height="7.76" fill="rgb(255, 255, 255)"/>
<rect x="140.05" y="466.49" width="9.23" height="7.76" fill="rgb(251, 232, 234)"/>
<rect x="148.83" y="466.49" width="18.02" height="7.76" fill="rgb(226, 225, 240)"/>
<rect x="166.40" y="466.49" width="18.02" height="7.76" fill="rgb(255, 255, 255)"/>
<rect x="183.96" y="466.49" width="9.23" height="7.76" fill="rgb(251, 232, 234)"/>
<rect x="192.75" y="466.49" width="18.02" height="7.76" fill="rgb(255, 255, 255)"/>
<rect x="210.31" y="466.49" width="9.23" height="7.76" fill="rgb(226, 225, 240)"/>
<rect x="219.09" y="466.49" width="9.23" height="7.76" fill="rgb(255, 255, 255)"/>
<rect x="227.88" y="466.49" width="18.02" height="7.76" fill="rgb(251, 232, 234)"/>
<rect x="245.44" y="466.49" width="9.23" height="7.76" fill="rgb(108, 114, 188)"/>
<rect x="254.23" y="466.49" width="9.23" height="7.76" fill="rgb(198, 198, 229)"/>
<rect x="263.01" y="466.49" width="9.23" height="7.76" fill="rgb(255, 255, 255)"/>
<rect x="271.79" y="466.49" width="9.23" height="7.76" fill="rgb(64, 84, 166)"/>
<rect x="280.57" y="466.49" width="9.23" height="7.76" fill="rgb(255, 255, 255)"/>
<rect x="289.36" y="466.49" width="9.23" height="7.76" fill="rgb(64, 84, 166)"/>
<rect x="298.14" y="466.49" width="18.02" height="7.76" fill="rgb(255, 255, 255)"/>
<rect x="315.71" y="466.49" width="9.23" height="7.76" fill="rgb(250, 212, 214)"/>
<rect x="324.49" y="466.49" width="44.36" height="7.76" fill="rgb(255, 255, 255)"/>
<rect x="368.40" y="466.49" width="26.80" height="7.76" fill="rgb(226, 225, 240)"/>
<rect x="394.75" y="466.49" width="9.23" height="7.76" fill="rgb(251, 232, 234)"/>
<rect x="403.54" y="466.49" width="9.23" height="7.76" fill="rgb(64, 84, 166)"/>
<rect x="412.32" y="466.49" width="9.23" height="7.76" fill="rgb(250, 212, 214)"/>
<rect x="421.10" y="466.49" width="9.23" height="7.76" fill="rgb(226, 225, 240)"/>
<rect x="429.89" y="466.49" width="9.23" height="7.76" fill="rgb(255, 255, 255)"/>
<rect x="438.67" y="466.49" width="18.02" height="7.76" fill="rgb(226, 225, 240)"/>
<rect x="456.23" y="466.49" width="18.02" height="7.76" fill="rgb(250, 212, 214)"/>
<rect x="473.80" y="466.49" width="9.23" height="7.76" fill="rgb(255, 255, 255)"/>
<rect x="482.58" y="466.49" width="18.02" height="7.76" fill="rgb(64, 84, 166)"/>
<rect x="500.15" y="466.49" width="9.23" height="7.76" fill="rgb(251, 232, 234)"/>
<rect x="508.93" y="466.49" width="9.23" height="7.76" fill="rgb(250, 212, 214)"/>
<rect x="517.72" y="466.49" width="61.93" height="7.76" fill="rgb(255, 255, 255)"/>
<rect x="579.20" y="466.49" width="8.78" height="7.76" fill="rgb(64, 84, 166)"/>
<rect x="61.00" y="473.80" width="9.23" height="7.76" fill="rgb(226, 225, 240)"/>
<rect x="69.78" y="473.80" width="9.23" height="7.76" fill="rgb(255, 255, 255)"/>
<rect x="78.57" y="473.80" width="18.02" height="7.76" fill="rgb(251, 232, 234)"/>
<rect x="96.13" y="473.80" width="18.02" height="7.76" fill="rgb(226, 225, 240)"/>
<rect x="113.70" y="473.80" width="9.23" height="7.76" fill="rgb(255, 255, 255)"/>
<rect x="122.48" y="473.80" width="9.23" height="7.76" fill="rgb(251, 232, 234)"/>
<rect x="131.26" y="473.80" width="9.23" height="7.76" fill="rgb(255, 255, 255)"/>
<rect x="140.05" y="473.80" width="9.23" height="7.76" fill="rgb(251, 232, 234)"/>
<rect x="148.83" y="473.80" width="18.02" height="7.76" fill="rgb(226, 225, 240)"/>
<rect x="166.40" y="473.80" width="9.23" height="7.76" fill="rgb(251, 232, 234)"/>
<rect x="175.18" y="473.80" width="9.23" height="7.76" fill="rgb(250, 212, 214)"/>
<rect x="183.96" y="473.80" width="9.23" height="7.76" fill="rgb(108, 114, 188)"/>
<rect x="192.75" y="473.80" width="18.02" height="7.76" fill="rgb(255, 255, 255)"/>
<rect x="210.31" y="473.80" width="9.23" height="7.76" fill="rgb(226, 225, 240)"/>
<rect x="219.09" y="473.80" width="9.23" height="7.76" fill="rgb(198, 198, 229)"/>
<rect x="227.88" y="473.80" width="18.02" height="7.76" fill="rgb(251, 232, 234)"/>
<rect x="245.44" y="473.80" width="9.23" height="7.76" fill="rgb(108, 114, 188)"/>
<rect x="254.23" y="473.80" width="9.23" height="7.76" fill="rgb(198, 198, 229)"/>
<rect x="263.01" y="473.80" width="9.23" height="7.76" fill="rgb(255, 255, 255)"/>
<rect x="271.79" y="473.80" width="9.23" height="7.76" fill="rgb(226, 225, 240)"/>
<rect x="280.57" y="473.80" width="9.23" height="7.76" fill="rgb(255, 255, 255)"/>
<rect x="289.36" y="473.80" width="9.23" height="7.76" fill="rgb(226, 225, 240)"/>
<rect x="298.14" y="473.80" width="18.02" height="7.76" fill="rgb(255, 255, 255)"/>
<rect x="315.71" y="473.80" width="9.23" height="7.76" fill="rgb(165, 167, 213)"/>
<rect x="324.49" y="473.80" width="44.36" height="7.76" fill="rgb(255, 255, 255)"/>
<rect x="368.40" y="473.80" width="9.23" height="7.76" fill="rgb(226, 225, 240)"/>
<rect x="377.19" y="473.80" width="9.23" height="7.76" fill="rgb(165, 167, 213)"/>
<rect x="385.97" y="473.80" width="9.23" height="7.76" fill="rgb(226, 225, 240)"/>
<rect x="394.75" y="473.80" width="9.23" height="7.76" fill="rgb(251, 232, 234)"/>
<rect x="403.54" y="473.80" width="9.23" height="7.76" fill="rgb(250, 212, 214)"/>
<rect x="412.32" y="473.80" width="9.23" height="7.76" fill="rgb(64, 84, 166)"/>
<rect x="421.10" y="473.80" width="9.23" height="7.76" fill="rgb(226, 225, 240)"/>
<rect x="429.89" y="473.80" width="9.23" height="7.76" fill="rgb(255, 255, 255)"/>
<rect x="438.67" y="473.80" width="18.02" height="7.76" fill="rgb(226, 225, 240)"/>
<rect x="456.23" y="473.80" width="9.23" height="7.76" fill="rgb(255, 255, 255)"/>
<rect x="465.02" y="473.80" width="9.23" height="7.76" fill="rgb(251, 232, 234)"/>
<rect x="473.80" y="473.80" width="26.80" height="7.76" fill="rgb(255, 255, 255)"/>
<rect x="500.15" y="473.80" width="9.23" height="7.76" fill="rgb(251, 232, 234)"/>
<rect x="508.93" y="473.80" width="9.23" height="7.76" fill="rgb(165, 167, 213)"/>
<rect x="517.72" y="473.80" width="26.80" height="7.76" fill="rgb(255, 255, 255)"/>
<rect x="544.07" y="473.80" width="9.23" height="7.76" fill="rgb(165, 167, 213)"/>
<rect x="552.85" y="473.80" width="26.80" height="7.76" fill="rgb(255, 255, 255)"/>
<rect x="579.20" y="473.80" width="8.78" height="7.76" fill="rgb(198, 198, 229)"/>
<rect x="61.00" y="481.12" width="9.23" height="7.76" fill="rgb(226, 225, 240)"/>
<rect x="69.78" y="481.12" width="9.23" height="7.76" fill="rgb(255, 255, 255)"/>
<rect x="78.57" y="481.12" width="18.02" height="7.76" fill="rgb(251, 232, 234)"/>
<rect x="96.13" y="481.12" width="18.02" height="7.76" fill="rgb(226, 225, 240)"/>
<rect x="113.70" y="481.12" width="18.02" height="7.76" fill="rgb(251, 232, 234)"/>
<rect x="131.26" y="481.12" width="9.23" height="7.76" fill="rgb(255, 255, 255)"/>
<rect x="140.05" y="481.12" width="9.23" height="7.76" fill="rgb(251, 232, 234)"/>
<rect x="148.83" y="481.12" width="35.58" height="7.76" fill="rgb(226, 225, 240)"/>
<rect x="183.96" y="481.12" width="9.23" height="7.76" fill="rgb(165, 167, 213)"/>
<rect x="192.75" y="481.12" width="18.02" height="7.76" fill="rgb(255, 255, 255)"/>
<rect x="210.31" y="481.12" width="9.23" height="7.76" fill="rgb(226, 225, 240)"/>
<rect x="219.09" y="481.12" width="9.23" height="7.76" fill="rgb(165, 167, 213)"/>
<rect x="227.88" y="481.12" width="18.02" height="7.76" fill="rgb(251, 232, 234)"/>
<rect x="245.44" y="481.12" width="9.23" height="7.76" fill="rgb(108, 114, 188)"/>
<rect x="254.23" y="481.12" width="9.23" height="7.76" fill="rgb(198, 198, 229)"/>
<rect x="263.01" y="481.12" width="9.23" height="7.76" fill="rgb(255, 255, 255)"/>
<rect x="271.79" y="481.12" width="9.23" height="7.76" fill="rgb(226, 225, 240)"/>
<rect x="280.57" y="481.12" width="9.23" height="7.76" fill="rgb(255, 255, 255)"/>
<rect x="289.36" y="481.12" width="9.23" height="7.76" fill="rgb(226, 225, 240)"/>
<rect x="298.14" y="481.12" width="18.02" height="7.76" fill="rgb(255, 255, 255)"/>
<rect x="315.71" y="481.12" width="9.23" height="7.76" fill="rgb(226, 225, 240)"/>
<rect x="324.49" y="481.12" width="9.23" height="7.76" fill="rgb(255, 255, 255)"/>
<rect x="333.27" y="481.12" width="9.23" height="7.76" fill="rgb(226, 225, 240)"/>
<rect x="342.06" y="481.12" width="26.80" height="7.76" fill="rgb(255, 255, 255)"/>
<rect x="368.40" y="481.12" width="26.80" height="7.76" fill="rgb(226, 225, 240)"/>
<rect x="394.75" y="481.12" width="18.02" height="7.76" fill="rgb(251, 232, 234)"/>
<rect x="412.32" y="481.12" width="9.23" height="7.76" fill="rgb(64, 84, 166)"/>
<rect x="421.10" y="481.12" width="9.23" height="7.76" fill="rgb(226, 225, 240)"/>
<rect x="429.89" y="481.12" width="9.23" height="7.76" fill="rgb(255, 255, 255)"/>
<rect x="438.67" y="481.12" width="18.02" height="7.76" fill="rgb(226, 225, 240)"/>
<rect x="456.23" y="481.12" width="9.23" height="7.76" fill="rgb(255, 255, 255)"/>
<rect x="465.02" y="481.12" width="9.23" height="7.76" fill="rgb(251, 232, 234)"/>
<rect x="473.80" y="481.12" width="9.23" height="7.76" fill="rgb(255, 255, 255)"/>
<rect x="482.58" y="481.12" width="9.23" height="7.76" fill="rgb(251, 232, 234)"/>
<rect x="491.37" y="481.12" width="9.23" height="7.76" fill="rgb(255, 255, 255)"/>
<rect x="500.15" y="481.12" width="9.23" height="7.76" fill="rgb(108, 114, 188)"/>
<rect x="508.93" y="481.12" width="9.23" height="7.76" fill="rgb(226, 225, 240)"/>
<rect x="517.72" y="481.12" width="26.80" height="7.76" fill="rgb(255, 255, 255)"/>
<rect x="544.07" y="481.12" width="9.23" height="7.76" fill="rgb(226, 225, 240)"/>
<rect x="552.85" y="481.12" width="26.80" height="7.76" fill="rgb(255, 255, 255)"/>
<rect x="579.20" y="481.12" width="8.78" height="7.76" fill="rgb(198, 198, 229)"/>
<rect x="61.00" y="488.43" width="9.23" height="7.76" fill="rgb(240, 124, 130)"/>
<rect x="69.78" y="488.43" width="9.23" height="7.76" fill="rgb(255, 255, 255)"/>
<rect x="78.57" y="488.43" width="18.02" height="7.76" fill="rgb(251, 232, 234)"/>
<rect x="96.13" y="488.43" width="18.02" height="7.76" fill="rgb(226, 225, 240)"/>
<rect x="113.70" y="488.43" width="18.02" height="7.76" fill="rgb(251, 232, 234)"/>
<rect x="131.26" y="488.43" width="9.23" height="7.76" fill="rgb(255, 255, 255)"/>
<rect x="140.05" y="488.43" width="9.23" height="7.76" fill="rgb(240, 124, 130)"/>
<rect x="148.83" y="488.43" width="18.02" height="7.76" fill="rgb(226, 225, 240)"/>
<rect x="166.40" y="488.43" width="18.02" height="7.76" fill="rgb(255, 255, 255)"/>
<rect x="183.96" y="488.43" width="9.23" height="7.76" fill="rgb(251, 232, 234)"/>
<rect x="192.75" y="488.43" width="18.02" height="7.76" fill="rgb(255, 255, 255)"/>
<rect x="210.31" y="488.43" width="9.23" height="7.76" fill="rgb(226, 225, 240)"/>
<rect x="219.09" y="488.43" width="9.23" height="7.76" fill="rgb(255, 255, 255)"/>
<rect x="227.88" y="488.43" width="18.02" height="7.76" fill="rgb(251, 232, 234)"/>
<rect x="245.44" y="488.43" width="9.23" height="7.76" fill="rgb(245, 162, 167)"/>
<rect x="254.23" y="488.43" width="9.23" height="7.76" fill="rgb(198, 198, 229)"/>
<rect x="263.01" y="488.43" width="9.23" height="7.76" fill="rgb(240, 124, 130)"/>
<rect x="271.79" y="488.43" width="9.23" height="7.76" fill="rgb(226, 225, 240)"/>
<rect x="280.57" y="488.43" width="9.23" height="7.76" fill="rgb(255, 255, 255)"/>
<rect x="289.36" y="488.43" width="9.23" height="7.76" fill="rgb(240, 124, 130)"/>
<rect x="298.14" y="488.43" width="9.23" height="7.76" fill="rgb(255, 255, 255)"/>
<rect x="306.92" y="488.43" width="9.23" height="7.76" fill="rgb(108, 114, 188)"/>
<rect x="315.71" y="488.43" width="18.02" height="7.76" fill="rgb(250, 212, 214)"/>
<rect x="333.27" y="488.43" width="35.58" height="7.76" fill="rgb(255, 255, 255)"/>
<rect x="368.40" y="488.43" width="26.80" height="7.76" fill="rgb(226, 225, 240)"/>
<rect x="394.75" y="488.43" width="9.23" height="7.76" fill="rgb(251, 232, 234)"/>
<rect x="403.54" y="488.43" width="9.23" height="7.76" fill="rgb(250, 212, 214)"/>
<rect x="412.32" y="488.43" width="9.23" height="7.76" fill="rgb(238, 92, 98)"/>
<rect x="421.10" y="488.43" width="9.23" height="7.76" fill="rgb(226, 225, 240)"/>
<rect x="429.89" y="488.43" width="35.58" height="7.76" fill="rgb(255, 255, 255)"/>
<rect x="465.02" y="488.43" width="9.23" height="7.76" fill="rgb(238, 92, 98)"/>
<rect x="473.80" y="488.43" width="9.23" height="7.76" fill="rgb(255, 255, 255)"/>
<rect x="482.58" y="488.43" width="9.23" height="7.76" fill="rgb(108, 114, 188)"/>
<rect x="491.37" y="488.43" width="9.23" height="7.76" fill="rgb(165, 167, 213)"/>
<rect x="500.15" y="488.43" width="9.23" height="7.76" fill="rgb(251, 232, 234)"/>
<rect x="508.93" y="488.43" width="9.23" height="7.76" fill="rgb(250, 212, 214)"/>
<rect x="517.72" y="488.43" width="61.93" height="7.76" fill="rgb(255, 255, 255)"/>
<rect x="579.20" y="488.43" width="8.78" height="7.76" fill="rgb(198, 198, 229)"/>
<rect x="61.00" y="495.75" width="9.23" height="7.76" fill="rgb(240, 124, 130)"/>
<rect x="69.78" y="495.75" width="9.23" height="7.76" fill="rgb(251, 232, 234)"/>
<rect x="78.57" y="495.75" width="18.02" height="7.76" fill="rgb(250, 212, 214)"/>
<rect x="96.13" y="495.75" width="18.02" height="7.76" fill="rgb(226, 225, 240)"/>
<rect x="113.70" y="495.75" width="18.02" height="7.76" fill="rgb(251, 232, 234)"/>
<rect x="131.26" y="495.75" width="9.23" height="7.76" fill="rgb(255, 255, 255)"/>
<rect x="140.05" y="495.75" width="9.23" height="7.76" fill="rgb(240, 124, 130)"/>
<rect x="148.83" y="495.75" width="18.02" height="7.76" fill="rgb(226, 225, 240)"/>
<rect x="166.40" y="495.75" width="18.02" height="7.76" fill="rgb(255, 255, 255)"/>
<rect x="183.96" y="495.75" width="9.23" height="7.76" fill="rgb(251, 232, 234)"/>
<rect x="192.75" y="495.75" width="18.02" height="7.76" fill="rgb(255, 255, 255)"/>
<rect x="210.31" y="495.75" width="9.23" height="7.76" fill="rgb(226, 225, 240)"/>
<rect x="219.09" y="495.75" width="9.23" height="7.76" fill="rgb(255, 255, 255)"/>
<rect x="227.88" y="495.75" width="18.02" height="7.76" fill="rgb(251, 232, 234)"/>
<rect x="245.44" y="495.75" width="9.23" height="7.76" fill="rgb(245, 162, 167)"/>
<rect x="254.23" y="495.75" width="9.23" height="7.76" fill="rgb(198, 198, 229)"/>
<rect x="263.01" y="495.75" width="9.23" height="7.76" fill="rgb(240, 124, 130)"/>
<rect x="271.79" y="495.75" width="9.23" height="7.76" fill="rgb(226, 225, 240)"/>
<rect x="280.57" y="495.75" width="9.23" height="7.76" fill="rgb(255, 255, 255)"/>
<rect x="289.36" y="495.75" width="9.23" height="7.76" fill="rgb(240, 124, 130)"/>
<rect x="298.14" y="495.75" width="18.02" height="7.76" fill="rgb(255, 255, 255)"/>
<rect x="315.71" y="495.75" width="9.23" height="7.76" fill="rgb(250, 212, 214)"/>
<rect x="324.49" y="495.75" width="9.23" height="7.76" fill="rgb(238, 92, 98)"/>
<rect x="333.27" y="495.75" width="35.58" height="7.76" fill="rgb(255, 255, 255)"/>
<rect x="368.40" y="495.75" width="9.23" height="7.76" fill="rgb(250, 212, 214)"/>
<rect x="377.19" y="495.75" width="18.02" height="7.76" fill="rgb(226, 225, 240)"/>
<rect x="394.75" y="495.75" width="9.23" height="7.76" fill="rgb(251, 232, 234)"/>
<rect x="403.54" y="495.75" width="9.23" height="7.76" fill="rgb(250, 212, 214)"/>
<rect x="412.32" y="495.75" width="9.23" height="7.76" fill="rgb(238, 92, 98)"/>
<rect x="421.10" y="495.75" width="9.23" height="7.76" fill="rgb(226, 225, 240)"/>
<rect x="429.89" y="495.75" width="9.23" height="7.76" fill="rgb(255, 255, 255)"/>
<rect x="438.67" y="495.75" width="18.02" height="7.76" fill="rgb(240, 124, 130)"/>
<rect x="456.23" y="495.75" width="9.23" height="7.76" fill="rgb(250, 212, 214)"/>
<rect x="465.02" y="495.75" width="9.23" height="7.76" fill="rgb(238, 92, 98)"/>
<rect x="473.80" y="495.75" width="9.23" height="7.76" fill="rgb(255, 255, 255)"/>
<rect x="482.58" y="495.75" width="18.02" height="7.76" fill="rgb(226, 225, 240)"/>
<rect x="500.15" y="495.75" width="9.23" height="7.76" fill="rgb(251, 232, 234)"/>
<rect x="508.93" y="495.75" width="9.23" height="7.76" fill="rgb(250, 212, 214)"/>
<rect x="517.72" y="495.75" width="61.93" height="7.76" fill="rgb(255, 255, 255)"/>
<rect x="579.20" y="495.75" width="8.78" height="7.76" fill="rgb(198, 198, 229)"/>
<rect x="61.00" y="503.06" width="9.23" height="7.76" fill="rgb(226, 225, 240)"/>
<rect x="69.78" y="503.06" width="9.23" height="7.76" fill="rgb(255, 255, 255)"/>
<rect x="78.57" y="503.06" width="18.02" height="7.76" fill="rgb(251, 232, 234)"/>
<rect x="96.13" y="503.06" width="18.02" height="7.76" fill="rgb(226, 225, 240)"/>
<rect x="113.70" y="503.06" width="9.23" height="7.76" fill="rgb(251, 232, 234)"/>
<rect x="122.48" y="503.06" width="44.36" height="7.76" fill="rgb(64, 84, 166)"/>
<rect x="166.40" y="503.06" width="18.02" height="7.76" fill="rgb(255, 255, 255)"/>
<rect x="183.96" y="503.06" width="9.23" height="7.76" fill="rgb(251, 232, 234)"/>
<rect x="192.75" y="503.06" width="18.02" height="7.76" fill="rgb(255, 255, 255)"/>
<rect x="210.31" y="503.06" width="9.23" height="7.76" fill="rgb(240, 124, 130)"/>
<rect x="219.09" y="503.06" width="9.23" height="7.76" fill="rgb(255, 255, 255)"/>
<rect x="227.88" y="503.06" width="18.02" height="7.76" fill="rgb(64, 84, 166)"/>
<rect x="245.44" y="503.06" width="9.23" height="7.76" fill="rgb(108, 114, 188)"/>
<rect x="254.23" y="503.06" width="9.23" height="7.76" fill="rgb(245, 162, 167)"/>
<rect x="263.01" y="503.06" width="9.23" height="7.76" fill="rgb(255, 255, 255)"/>
<rect x="271.79" y="503.06" width="9.23" height="7.76" fill="rgb(240, 124, 130)"/>
<rect x="280.57" y="503.06" width="9.23" height="7.76" fill="rgb(255, 255, 255)"/>
<rect x="289.36" y="503.06" width="9.23" height="7.76" fill="rgb(240, 124, 130)"/>
<rect x="298.14" y="503.06" width="9.23" height="7.76" fill="rgb(64, 84, 166)"/>
<rect x="306.92" y="503.06" width="9.23" height="7.76" fill="rgb(108, 114, 188)"/>
<rect x="315.71" y="503.06" width="9.23" height="7.76" fill="rgb(165, 167, 213)"/>
<rect x="324.49" y="503.06" width="44.36" height="7.76" fill="rgb(255, 255, 255)"/>
<rect x="368.40" y="503.06" width="18.02" height="7.76" fill="rgb(226, 225, 240)"/>
<rect x="385.97" y="503.06" width="9.23" height="7.76" fill="rgb(64, 84, 166)"/>
<rect x="394.75" y="503.06" width="9.23" height="7.76" fill="rgb(251, 232, 234)"/>
<rect x="403.54" y="503.06" width="9.23" height="7.76" fill="rgb(250, 212, 214)"/>
<rect x="412.32" y="503.06" width="9.23" height="7.76" fill="rgb(64, 84, 166)"/>
<rect x="421.10" y="503.06" width="9.23" height="7.76" fill="rgb(226, 225, 240)"/>
<rect x="429.89" y="503.06" width="9.23" height="7.76" fill="rgb(255, 255, 255)"/>
<rect x="438.67" y="503.06" width="18.02" height="7.76" fill="rgb(226, 225, 240)"/>
<rect x="456.23" y="503.06" width="9.23" height="7.76" fill="rgb(64, 84, 166)"/>
<rect x="465.02" y="503.06" width="9.23" height="7.76" fill="rgb(250, 212, 214)"/>
<rect x="473.80" y="503.06" width="9.23" height="7.76" fill="rgb(255, 255, 255)"/>
<rect x="482.58" y="503.06" width="9.23" height="7.76" fill="rgb(64, 84, 166)"/>
<rect x="491.37" y="503.06" width="9.23" height="7.76" fill="rgb(108, 114, 188)"/>
<rect x="500.15" y="503.06" width="9.23" height="7.76" fill="rgb(251, 232, 234)"/>
<rect x="508.93" y="503.06" width="9.23" height="7.76" fill="rgb(198, 198, 229)"/>
<rect x="517.72" y="503.06" width="9.23" height="7.76" fill="rgb(64, 84, 166)"/>
<rect x="526.50" y="503.06" width="18.02" height="7.76" fill="rgb(255, 255, 255)"/>
<rect x="544.07" y="503.06" width="9.23" height="7.76" fill="rgb(64, 84, 166)"/>
<rect x="552.85" y="503.06" width="26.80" height="7.76" fill="rgb(255, 255, 255)"/>
<rect x="579.20" y="503.06" width="8.78" height="7.76" fill="rgb(245, 162, 167)"/>
<rect x="61.00" y="510.37" width="18.02" height="7.76" fill="rgb(226, 225, 240)"/>
<rect x="78.57" y="510.37" width="18.02" height="7.76" fill="rgb(251, 232, 234)"/>
<rect x="96.13" y="510.37" width="18.02" height="7.76" fill="rgb(226, 225, 240)"/>
<rect x="113.70" y="510.37" width="18.02" height="7.76" fill="rgb(251, 232, 234)"/>
<rect x="131.26" y="510.37" width="9.23" height="7.76" fill="rgb(226, 225, 240)"/>
<rect x="140.05" y="510.37" width="9.23" height="7.76" fill="rgb(255, 255, 255)"/>
<rect x="148.83" y="510.37" width="18.02" height="7.76" fill="rgb(64, 84, 166)"/>
<rect x="166.40" y="510.37" width="18.02" height="7.76" fill="rgb(255, 255, 255)"/>
<rect x="183.96" y="510.37" width="9.23" height="7.76" fill="rgb(251, 232, 234)"/>
<rect x="192.75" y="510.37" width="18.02" height="7.76" fill="rgb(255, 255, 255)"/>
<rect x="210.31" y="510.37" width="9.23" height="7.76" fill="rgb(240, 124, 130)"/>
<rect x="219.09" y="510.37" width="9.23" height="7.76" fill="rgb(255, 255, 255)"/>
<rect x="227.88" y="510.37" width="18.02" height="7.76" fill="rgb(165, 167, 213)"/>
<rect x="245.44" y="510.37" width="9.23" height="7.76" fill="rgb(108, 114, 188)"/>
<rect x="254.23" y="510.37" width="9.23" height="7.76" fill="rgb(255, 255, 255)"/>
<rect x="263.01" y="510.37" width="9.23" height="7.76" fill="rgb(245, 162, 167)"/>
<rect x="271.79" y="510.37" width="9.23" height="7.76" fill="rgb(250, 212, 214)"/>
<rect x="280.57" y="510.37" width="9.23" height="7.76" fill="rgb(255, 255, 255)"/>
<rect x="289.36" y="510.37" width="9.23" height="7.76" fill="rgb(240, 124, 130)"/>
<rect x="298.14" y="510.37" width="9.23" height="7.76" fill="rgb(64, 84, 166)"/>
<rect x="306.92" y="510.37" width="9.23" height="7.76" fill="rgb(108, 114, 188)"/>
<rect x="315.71" y="510.37" width="9.23" height="7.76" fill="rgb(250, 212, 214)"/>
<rect x="324.49" y="510.37" width="44.36" height="7.76" fill="rgb(255, 255, 255)"/>
<rect x="368.40" y="510.37" width="18.02" height="7.76" fill="rgb(226, 225, 240)"/>
<rect x="385.97" y="510.37" width="9.23" height="7.76" fill="rgb(64, 84, 166)"/>
<rect x="394.75" y="510.37" width="9.23" height="7.76" fill="rgb(251, 232, 234)"/>
<rect x="403.54" y="510.37" width="9.23" height="7.76" fill="rgb(250, 212, 214)"/>
<rect x="412.32" y="510.37" width="9.23" height="7.76" fill="rgb(64, 84, 166)"/>
<rect x="421.10" y="510.37" width="9.23" height="7.76" fill="rgb(226, 225, 240)"/>
<rect x="429.89" y="510.37" width="9.23" height="7.76" fill="rgb(255, 255, 255)"/>
<rect x="438.67" y="510.37" width="9.23" height="7.76" fill="rgb(226, 225, 240)"/>
<rect x="447.45" y="510.37" width="9.23" height="7.76" fill="rgb(255, 255, 255)"/>
<rect x="456.23" y="510.37" width="9.23" height="7.76" fill="rgb(64, 84, 166)"/>
<rect x="465.02" y="510.37" width="9.23" height="7.76" fill="rgb(226, 225, 240)"/>
<rect x="473.80" y="510.37" width="9.23" height="7.76" fill="rgb(255, 255, 255)"/>
<rect x="482.58" y="510.37" width="9.23" height="7.76" fill="rgb(108, 114, 188)"/>
<rect x="491.37" y="510.37" width="9.23" height="7.76" fill="rgb(165, 167, 213)"/>
<rect x="500.15" y="510.37" width="9.23" height="7.76" fill="rgb(251, 232, 234)"/>
<rect x="508.93" y="510.37" width="9.23" height="7.76" fill="rgb(165, 167, 213)"/>
<rect x="517.72" y="510.37" width="9.23" height="7.76" fill="rgb(226, 225, 240)"/>
<rect x="526.50" y="510.37" width="18.02" height="7.76" fill="rgb(255, 255, 255)"/>
<rect x="544.07" y="510.37" width="9.23" height="7.76" fill="rgb(108, 114, 188)"/>
<rect x="552.85" y="510.37" width="26.80" height="7.76" fill="rgb(255, 255, 255)"/>
<rect x="579.20" y="510.37" width="8.78" height="7.76" fill="rgb(245, 162, 167)"/>
<rect x="61.00" y="517.69" width="526.98" height="7.76" fill="rgb(255, 255, 255)"/>
<rect x="61.00" y="525.00" width="9.23" height="7.31" fill="rgb(226, 225, 240)"/>
<rect x="69.78" y="525.00" width="26.80" height="7.31" fill="rgb(238, 92, 98)"/>
<rect x="96.13" y="525.00" width="18.02" height="7.31" fill="rgb(226, 225, 240)"/>
<rect x="113.70" y="525.00" width="18.02" height="7.31" fill="rgb(251, 232, 234)"/>
<rect x="131.26" y="525.00" width="9.23" height="7.31" fill="rgb(255, 255, 255)"/>
<rect x="140.05" y="525.00" width="9.23" height="7.31" fill="rgb(165, 167, 213)"/>
<rect x="148.83" y="525.00" width="18.02" height="7.31" fill="rgb(226, 225, 240)"/>
<rect x="166.40" y="525.00" width="26.80" height="7.31" fill="rgb(165, 167, 213)"/>
<rect x="192.75" y="525.00" width="9.23" height="7.31" fill="rgb(255, 255, 255)"/>
<rect x="201.53" y="525.00" width="9.23" height="7.31" fill="rgb(240, 124, 130)"/>
<rect x="210.31" y="525.00" width="9.23" height="7.31" fill="rgb(226, 225, 240)"/>
<rect x="219.09" y="525.00" width="9.23" height="7.31" fill="rgb(240, 124, 130)"/>
<rect x="227.88" y="525.00" width="18.02" height="7.31" fill="rgb(250, 212, 214)"/>
<rect x="245.44" y="525.00" width="9.23" height="7.31" fill="rgb(255, 255, 255)"/>
<rect x="254.23" y="525.00" width="9.23" height="7.31" fill="rgb(198, 198, 229)"/>
<rect x="263.01" y="525.00" width="9.23" height="7.31" fill="rgb(238, 92, 98)"/>
<rect x="271.79" y="525.00" width="18.02" height="7.31" fill="rgb(245, 162, 167)"/>
<rect x="289.36" y="525.00" width="9.23" height="7.31" fill="rgb(250, 212, 214)"/>
<rect x="298.14" y="525.00" width="9.23" height="7.31" fill="rgb(165, 167, 213)"/>
<rect x="306.92" y="525.00" width="9.23" height="7.31" fill="rgb(226, 225, 240)"/>
<rect x="315.71" y="525.00" width="9.23" height="7.31" fill="rgb(250, 212, 214)"/>
<rect x="324.49" y="525.00" width="44.36" height="7.31" fill="rgb(255, 255, 255)"/>
<rect x="368.40" y="525.00" width="9.23" height="7.31" fill="rgb(165, 167, 213)"/>
<rect x="377.19" y="525.00" width="9.23" height="7.31" fill="rgb(226, 225, 240)"/>
<rect x="385.97" y="525.00" width="9.23" height="7.31" fill="rgb(240, 124, 130)"/>
<rect x="394.75" y="525.00" width="9.23" height="7.31" fill="rgb(251, 232, 234)"/>
<rect x="403.54" y="525.00" width="9.23" height="7.31" fill="rgb(250, 212, 214)"/>
<rect x="412.32" y="525.00" width="9.23" height="7.31" fill="rgb(245, 162, 167)"/>
<rect x="421.10" y="525.00" width="9.23" height="7.31" fill="rgb(226, 225, 240)"/>
<rect x="429.89" y="525.00" width="9.23" height="7.31" fill="rgb(255, 255, 255)"/>
<rect x="438.67" y="525.00" width="18.02" height="7.31" fill="rgb(238, 92, 98)"/>
<rect x="456.23" y="525.00" width="18.02" height="7.31" fill="rgb(250, 212, 214)"/>
<rect x="473.80" y="525.00" width="9.23" height="7.31" fill="rgb(226, 225, 240)"/>
<rect x="482.58" y="525.00" width="26.80" height="7.31" fill="rgb(251, 232, 234)"/>
<rect x="508.93" y="525.00" width="35.58" height="7.31" fill="rgb(255, 255, 255)"/>
<rect x="544.07" y="525.00" width="9.23" height="7.31" fill="rgb(238, 92, 98)"/>
<rect x="552.85" y="525.00" width="9.23" height="7.31" fill="rgb(245, 162, 167)"/>
<rect x="561.63" y="525.00" width="18.02" height="7.31" fill="rgb(255, 255, 255)"/>
<rect x="579.20" y="525.00" width="8.78" height="7.31" fill="rgb(198, 198, 229)"/>
<rect x="61.00" y="195.8" width="105.40" height="14.70" fill="rgb(242, 165, 172)"/>
<text x="113.70" y="205.40" font-size="7.8" text-anchor="middle" fill="#333" stroke="#333" stroke-width="0.22" font-style="italic" >BRAF</text>
<line x1="166.40" y1="195.8" x2="166.40" y2="532.32" stroke="#8a8a8a" stroke-width="0.9"/>
<rect x="166.40" y="195.8" width="96.61" height="14.70" fill="rgb(201, 152, 192)"/>
<text x="214.70" y="205.40" font-size="7.8" text-anchor="middle" fill="#333" stroke="#333" stroke-width="0.22" font-style="italic" >NRAS</text>
<line x1="263.01" y1="195.8" x2="263.01" y2="532.32" stroke="#8a8a8a" stroke-width="0.9"/>
<rect x="263.01" y="195.8" width="43.91" height="14.70" fill="rgb(166, 205, 127)"/>
<text x="284.97" y="205.40" font-size="7.8" text-anchor="middle" fill="#333" stroke="#333" stroke-width="0.22" font-style="italic" >NF1</text>
<line x1="306.92" y1="195.8" x2="306.92" y2="532.32" stroke="#8a8a8a" stroke-width="0.9"/>
<rect x="306.92" y="195.8" width="26.35" height="14.70" fill="rgb(126, 190, 201)"/>
<text x="320.10" y="205.40" font-size="7.8" text-anchor="middle" fill="#333" stroke="#333" stroke-width="0.22" font-style="italic" >KIT</text>
<line x1="333.27" y1="195.8" x2="333.27" y2="532.32" stroke="#8a8a8a" stroke-width="0.9"/>
<rect x="333.27" y="195.8" width="8.78" height="14.70" fill="rgb(240, 201, 100)"/>
<text x="337.66" y="205.40" font-size="7.8" text-anchor="middle" fill="#333" stroke="#333" stroke-width="0.22"  >M</text>
<line x1="342.06" y1="195.8" x2="342.06" y2="532.32" stroke="#8a8a8a" stroke-width="0.9"/>
<rect x="342.06" y="195.8" width="245.92" height="14.70" fill="rgb(214, 214, 214)"/>
<text x="463.02" y="205.40" font-size="8.2" text-anchor="middle" fill="#333" stroke="#333" stroke-width="0.22"  >Quadruple wild type</text>
<rect x="60.60" y="195.8" width="527.38" height="336.52" fill="none" stroke="#9a9a9a" stroke-width="0.9"/>
<line x1="60.60" y1="210.5" x2="587.98" y2="210.5" stroke="#666" stroke-width="0.9"/>
<text x="56.00" y="216.26" font-size="8.1" text-anchor="end" fill="#1a1a1a" stroke="#1a1a1a" stroke-width="0.22"  >Chr. 1 p</text>
<text x="56.00" y="223.57" font-size="8.1" text-anchor="end" fill="#1a1a1a" stroke="#1a1a1a" stroke-width="0.22"  >Chr. 1 q</text>
<text x="56.00" y="230.88" font-size="8.1" text-anchor="end" fill="#1a1a1a" stroke="#1a1a1a" stroke-width="0.22"  >Chr. 2 p</text>
<text x="56.00" y="238.20" font-size="8.1" text-anchor="end" fill="#1a1a1a" stroke="#1a1a1a" stroke-width="0.22"  >Chr. 2 q</text>
<text x="56.00" y="245.51" font-size="8.1" text-anchor="end" fill="#1a1a1a" stroke="#1a1a1a" stroke-width="0.22"  >Chr. 3 p</text>
<text x="56.00" y="252.83" font-size="8.1" text-anchor="end" fill="#1a1a1a" stroke="#1a1a1a" stroke-width="0.22"  >Chr. 3 q</text>
<text x="56.00" y="260.14" font-size="8.1" text-anchor="end" fill="#1a1a1a" stroke="#1a1a1a" stroke-width="0.22"  >Chr. 4 p</text>
<text x="56.00" y="267.45" font-size="8.1" text-anchor="end" fill="#1a1a1a" stroke="#1a1a1a" stroke-width="0.22"  >Chr. 4 q</text>
<text x="56.00" y="274.77" font-size="8.1" text-anchor="end" fill="#1a1a1a" stroke="#1a1a1a" stroke-width="0.22"  >Chr. 5 p</text>
<text x="56.00" y="282.08" font-size="8.1" text-anchor="end" fill="#1a1a1a" stroke="#1a1a1a" stroke-width="0.22"  >Chr. 5 q</text>
<text x="56.00" y="289.40" font-size="8.1" text-anchor="end" fill="#1a1a1a" stroke="#1a1a1a" stroke-width="0.22"  >Chr. 6 p</text>
<text x="56.00" y="296.71" font-size="8.1" text-anchor="end" fill="#1a1a1a" stroke="#1a1a1a" stroke-width="0.22"  >Chr. 6 q</text>
<text x="56.00" y="304.03" font-size="8.1" text-anchor="end" fill="#1a1a1a" stroke="#1a1a1a" stroke-width="0.22"  >Chr. 7 p</text>
<text x="56.00" y="311.34" font-size="8.1" text-anchor="end" fill="#1a1a1a" stroke="#1a1a1a" stroke-width="0.22"  >Chr. 7 q</text>
<text x="56.00" y="318.65" font-size="8.1" text-anchor="end" fill="#1a1a1a" stroke="#1a1a1a" stroke-width="0.22"  >Chr. 8 p</text>
<text x="56.00" y="325.97" font-size="8.1" text-anchor="end" fill="#1a1a1a" stroke="#1a1a1a" stroke-width="0.22"  >Chr. 8 q</text>
<text x="56.00" y="333.28" font-size="8.1" text-anchor="end" fill="#1a1a1a" stroke="#1a1a1a" stroke-width="0.22"  >Chr. 9 p</text>
<text x="56.00" y="340.59" font-size="8.1" text-anchor="end" fill="#1a1a1a" stroke="#1a1a1a" stroke-width="0.22"  >Chr. 9 q</text>
<text x="56.00" y="347.91" font-size="8.1" text-anchor="end" fill="#1a1a1a" stroke="#1a1a1a" stroke-width="0.22"  >Chr. 10 p</text>
<text x="56.00" y="355.22" font-size="8.1" text-anchor="end" fill="#1a1a1a" stroke="#1a1a1a" stroke-width="0.22"  >Chr. 10 q</text>
<text x="56.00" y="362.54" font-size="8.1" text-anchor="end" fill="#1a1a1a" stroke="#1a1a1a" stroke-width="0.22"  >Chr. 11 p</text>
<text x="56.00" y="369.85" font-size="8.1" text-anchor="end" fill="#1a1a1a" stroke="#1a1a1a" stroke-width="0.22"  >Chr. 11 q</text>
<text x="56.00" y="377.17" font-size="8.1" text-anchor="end" fill="#1a1a1a" stroke="#1a1a1a" stroke-width="0.22"  >Chr. 12 p</text>
<text x="56.00" y="384.48" font-size="8.1" text-anchor="end" fill="#1a1a1a" stroke="#1a1a1a" stroke-width="0.22"  >Chr. 12 q</text>
<text x="56.00" y="391.79" font-size="8.1" text-anchor="end" fill="#1a1a1a" stroke="#1a1a1a" stroke-width="0.22"  >Chr. 13 p</text>
<text x="56.00" y="399.11" font-size="8.1" text-anchor="end" fill="#1a1a1a" stroke="#1a1a1a" stroke-width="0.22"  >Chr. 13 q</text>
<text x="56.00" y="406.42" font-size="8.1" text-anchor="end" fill="#1a1a1a" stroke="#1a1a1a" stroke-width="0.22"  >Chr. 14 p</text>
<text x="56.00" y="413.74" font-size="8.1" text-anchor="end" fill="#1a1a1a" stroke="#1a1a1a" stroke-width="0.22"  >Chr. 14 q</text>
<text x="56.00" y="421.05" font-size="8.1" text-anchor="end" fill="#1a1a1a" stroke="#1a1a1a" stroke-width="0.22"  >Chr. 15 p</text>
<text x="56.00" y="428.36" font-size="8.1" text-anchor="end" fill="#1a1a1a" stroke="#1a1a1a" stroke-width="0.22"  >Chr. 15 q</text>
<text x="56.00" y="435.68" font-size="8.1" text-anchor="end" fill="#1a1a1a" stroke="#1a1a1a" stroke-width="0.22"  >Chr. 16 p</text>
<text x="56.00" y="442.99" font-size="8.1" text-anchor="end" fill="#1a1a1a" stroke="#1a1a1a" stroke-width="0.22"  >Chr. 16 q</text>
<text x="56.00" y="450.31" font-size="8.1" text-anchor="end" fill="#1a1a1a" stroke="#1a1a1a" stroke-width="0.22"  >Chr. 17 p</text>
<text x="56.00" y="457.62" font-size="8.1" text-anchor="end" fill="#1a1a1a" stroke="#1a1a1a" stroke-width="0.22"  >Chr. 17 q</text>
<text x="56.00" y="464.93" font-size="8.1" text-anchor="end" fill="#1a1a1a" stroke="#1a1a1a" stroke-width="0.22"  >Chr. 18 p</text>
<text x="56.00" y="472.25" font-size="8.1" text-anchor="end" fill="#1a1a1a" stroke="#1a1a1a" stroke-width="0.22"  >Chr. 18 q</text>
<text x="56.00" y="479.56" font-size="8.1" text-anchor="end" fill="#1a1a1a" stroke="#1a1a1a" stroke-width="0.22"  >Chr. 19 p</text>
<text x="56.00" y="486.88" font-size="8.1" text-anchor="end" fill="#1a1a1a" stroke="#1a1a1a" stroke-width="0.22"  >Chr. 19 q</text>
<text x="56.00" y="494.19" font-size="8.1" text-anchor="end" fill="#1a1a1a" stroke="#1a1a1a" stroke-width="0.22"  >Chr. 20 p</text>
<text x="56.00" y="501.50" font-size="8.1" text-anchor="end" fill="#1a1a1a" stroke="#1a1a1a" stroke-width="0.22"  >Chr. 20 q</text>
<text x="56.00" y="508.82" font-size="8.1" text-anchor="end" fill="#1a1a1a" stroke="#1a1a1a" stroke-width="0.22"  >Chr. 21 p</text>
<text x="56.00" y="516.13" font-size="8.1" text-anchor="end" fill="#1a1a1a" stroke="#1a1a1a" stroke-width="0.22"  >Chr. 21 q</text>
<text x="56.00" y="523.45" font-size="8.1" text-anchor="end" fill="#1a1a1a" stroke="#1a1a1a" stroke-width="0.22"  >Chr. 22 p</text>
<text x="56.00" y="530.76" font-size="8.1" text-anchor="end" fill="#1a1a1a" stroke="#1a1a1a" stroke-width="0.22"  >Chr. 22 q</text>
<text x="68.19" y="537.12" font-size="8.1" text-anchor="end" fill="#1a1a1a"  transform="rotate(-90 68.19149999999999 537.116)" >PD40956d</text>
<text x="76.97" y="537.12" font-size="8.1" text-anchor="end" fill="#1a1a1a"  transform="rotate(-90 76.97449999999999 537.116)" >PD40961a</text>
<text x="85.76" y="537.12" font-size="8.1" text-anchor="end" fill="#1a1a1a"  transform="rotate(-90 85.7575 537.116)" >PD40961d</text>
<text x="94.54" y="537.12" font-size="8.1" text-anchor="end" fill="#1a1a1a"  transform="rotate(-90 94.54049999999998 537.116)" >PD40961e</text>
<text x="103.32" y="537.12" font-size="8.1" text-anchor="end" fill="#1a1a1a"  transform="rotate(-90 103.3235 537.116)" >PD40972a</text>
<text x="112.11" y="537.12" font-size="8.1" text-anchor="end" fill="#1a1a1a"  transform="rotate(-90 112.10649999999998 537.116)" >PD40985a</text>
<text x="120.89" y="537.12" font-size="8.1" text-anchor="end" fill="#1a1a1a"  transform="rotate(-90 120.88949999999998 537.116)" >PD40997a</text>
<text x="129.67" y="537.12" font-size="8.1" text-anchor="end" fill="#1a1a1a"  transform="rotate(-90 129.67249999999999 537.116)" >PD41043a</text>
<text x="138.46" y="537.12" font-size="8.1" text-anchor="end" fill="#1a1a1a"  transform="rotate(-90 138.45550000000003 537.116)" >PD41043d</text>
<text x="147.24" y="537.12" font-size="8.1" text-anchor="end" fill="#1a1a1a"  transform="rotate(-90 147.23850000000002 537.116)" >PD41901a</text>
<text x="156.02" y="537.12" font-size="8.1" text-anchor="end" fill="#1a1a1a"  transform="rotate(-90 156.0215 537.116)" >PD41915a</text>
<text x="164.80" y="537.12" font-size="8.1" text-anchor="end" fill="#1a1a1a"  transform="rotate(-90 164.80450000000002 537.116)" >PD41915c</text>
<text x="173.59" y="537.12" font-size="8.1" text-anchor="end" fill="#1a1a1a"  transform="rotate(-90 173.5875 537.116)" >PD41002a</text>
<text x="182.37" y="537.12" font-size="8.1" text-anchor="end" fill="#1a1a1a"  transform="rotate(-90 182.3705 537.116)" >PD41002d</text>
<text x="191.15" y="537.12" font-size="8.1" text-anchor="end" fill="#1a1a1a"  transform="rotate(-90 191.1535 537.116)" >PD41002e</text>
<text x="199.94" y="537.12" font-size="8.1" text-anchor="end" fill="#1a1a1a"  transform="rotate(-90 199.93650000000002 537.116)" >PD41020a</text>
<text x="208.72" y="537.12" font-size="8.1" text-anchor="end" fill="#1a1a1a"  transform="rotate(-90 208.7195 537.116)" >PD41025a</text>
<text x="217.50" y="537.12" font-size="8.1" text-anchor="end" fill="#1a1a1a"  transform="rotate(-90 217.5025 537.116)" >PD41027a</text>
<text x="226.29" y="537.12" font-size="8.1" text-anchor="end" fill="#1a1a1a"  transform="rotate(-90 226.2855 537.116)" >PD41909a</text>
<text x="235.07" y="537.12" font-size="8.1" text-anchor="end" fill="#1a1a1a"  transform="rotate(-90 235.0685 537.116)" >PD41913a</text>
<text x="243.85" y="537.12" font-size="8.1" text-anchor="end" fill="#1a1a1a"  transform="rotate(-90 243.85150000000002 537.116)" >PD41913e</text>
<text x="252.63" y="537.12" font-size="8.1" text-anchor="end" fill="#1a1a1a"  transform="rotate(-90 252.6345 537.116)" >PD51928a</text>
<text x="261.42" y="537.12" font-size="8.1" text-anchor="end" fill="#1a1a1a"  transform="rotate(-90 261.4175 537.116)" >PD51929a</text>
<text x="270.20" y="537.12" font-size="8.1" text-anchor="end" fill="#1a1a1a"  transform="rotate(-90 270.20050000000003 537.116)" >PD40952a</text>
<text x="278.98" y="537.12" font-size="8.1" text-anchor="end" fill="#1a1a1a"  transform="rotate(-90 278.9835 537.116)" >PD40962a</text>
<text x="287.77" y="537.12" font-size="8.1" text-anchor="end" fill="#1a1a1a"  transform="rotate(-90 287.7665 537.116)" >PD40986d</text>
<text x="296.55" y="537.12" font-size="8.1" text-anchor="end" fill="#1a1a1a"  transform="rotate(-90 296.54949999999997 537.116)" >PD51932a</text>
<text x="305.33" y="537.12" font-size="8.1" text-anchor="end" fill="#1a1a1a"  transform="rotate(-90 305.3325 537.116)" >PD51969a</text>
<text x="314.12" y="537.12" font-size="8.1" text-anchor="end" fill="#1a1a1a"  transform="rotate(-90 314.1155 537.116)" >PD40965f</text>
<text x="322.90" y="537.12" font-size="8.1" text-anchor="end" fill="#1a1a1a"  transform="rotate(-90 322.8985 537.116)" >PD41910a</text>
<text x="331.68" y="537.12" font-size="8.1" text-anchor="end" fill="#1a1a1a"  transform="rotate(-90 331.6815 537.116)" >PD51972a</text>
<text x="340.46" y="537.12" font-size="8.1" text-anchor="end" fill="#1a1a1a"  transform="rotate(-90 340.4645 537.116)" >PD41020d</text>
<text x="349.25" y="537.12" font-size="8.1" text-anchor="end" fill="#1a1a1a"  transform="rotate(-90 349.2475 537.116)" >PD40957a</text>
<text x="358.03" y="537.12" font-size="8.1" text-anchor="end" fill="#1a1a1a"  transform="rotate(-90 358.0305 537.116)" >PD40965e</text>
<text x="366.81" y="537.12" font-size="8.1" text-anchor="end" fill="#1a1a1a"  transform="rotate(-90 366.8135 537.116)" >PD40967a</text>
<text x="375.60" y="537.12" font-size="8.1" text-anchor="end" fill="#1a1a1a"  transform="rotate(-90 375.5965 537.116)" >PD40969a</text>
<text x="384.38" y="537.12" font-size="8.1" text-anchor="end" fill="#1a1a1a"  transform="rotate(-90 384.3795 537.116)" >PD40971a</text>
<text x="393.16" y="537.12" font-size="8.1" text-anchor="end" fill="#1a1a1a"  transform="rotate(-90 393.1625 537.116)" >PD40978d</text>
<text x="401.95" y="537.12" font-size="8.1" text-anchor="end" fill="#1a1a1a"  transform="rotate(-90 401.9455 537.116)" >PD40982a</text>
<text x="410.73" y="537.12" font-size="8.1" text-anchor="end" fill="#1a1a1a"  transform="rotate(-90 410.7285 537.116)" >PD40990a</text>
<text x="419.51" y="537.12" font-size="8.1" text-anchor="end" fill="#1a1a1a"  transform="rotate(-90 419.5115 537.116)" >PD40996a</text>
<text x="428.29" y="537.12" font-size="8.1" text-anchor="end" fill="#1a1a1a"  transform="rotate(-90 428.29449999999997 537.116)" >PD41026d</text>
<text x="437.08" y="537.12" font-size="8.1" text-anchor="end" fill="#1a1a1a"  transform="rotate(-90 437.0775 537.116)" >PD41030a</text>
<text x="445.86" y="537.12" font-size="8.1" text-anchor="end" fill="#1a1a1a"  transform="rotate(-90 445.8605 537.116)" >PD41035a</text>
<text x="454.64" y="537.12" font-size="8.1" text-anchor="end" fill="#1a1a1a"  transform="rotate(-90 454.6435 537.116)" >PD41035d</text>
<text x="463.43" y="537.12" font-size="8.1" text-anchor="end" fill="#1a1a1a"  transform="rotate(-90 463.4265 537.116)" >PD41038a</text>
<text x="472.21" y="537.12" font-size="8.1" text-anchor="end" fill="#1a1a1a"  transform="rotate(-90 472.2095 537.116)" >PD41044a</text>
<text x="480.99" y="537.12" font-size="8.1" text-anchor="end" fill="#1a1a1a"  transform="rotate(-90 480.9925 537.116)" >PD41045a</text>
<text x="489.78" y="537.12" font-size="8.1" text-anchor="end" fill="#1a1a1a"  transform="rotate(-90 489.77549999999997 537.116)" >PD41046d</text>
<text x="498.56" y="537.12" font-size="8.1" text-anchor="end" fill="#1a1a1a"  transform="rotate(-90 498.5585 537.116)" >PD41046e</text>
<text x="507.34" y="537.12" font-size="8.1" text-anchor="end" fill="#1a1a1a"  transform="rotate(-90 507.3415 537.116)" >PD41898a</text>
<text x="516.12" y="537.12" font-size="8.1" text-anchor="end" fill="#1a1a1a"  transform="rotate(-90 516.1244999999999 537.116)" >PD41908a</text>
<text x="524.91" y="537.12" font-size="8.1" text-anchor="end" fill="#1a1a1a"  transform="rotate(-90 524.9074999999998 537.116)" >PD41910c</text>
<text x="533.69" y="537.12" font-size="8.1" text-anchor="end" fill="#1a1a1a"  transform="rotate(-90 533.6904999999999 537.116)" >PD41923f</text>
<text x="542.47" y="537.12" font-size="8.1" text-anchor="end" fill="#1a1a1a"  transform="rotate(-90 542.4734999999998 537.116)" >PD41923g</text>
<text x="551.26" y="537.12" font-size="8.1" text-anchor="end" fill="#1a1a1a"  transform="rotate(-90 551.2565 537.116)" >PD41939d</text>
<text x="560.04" y="537.12" font-size="8.1" text-anchor="end" fill="#1a1a1a"  transform="rotate(-90 560.0394999999999 537.116)" >PD51939a</text>
<text x="568.82" y="537.12" font-size="8.1" text-anchor="end" fill="#1a1a1a"  transform="rotate(-90 568.8224999999999 537.116)" >PD51948a</text>
<text x="577.61" y="537.12" font-size="8.1" text-anchor="end" fill="#1a1a1a"  transform="rotate(-90 577.6054999999999 537.116)" >PD51978a</text>
<text x="586.39" y="537.12" font-size="8.1" text-anchor="end" fill="#1a1a1a"  transform="rotate(-90 586.3884999999999 537.116)" >PD51993a</text>
<defs><linearGradient id="cb" x1="0" y1="0" x2="0" y2="1">
<stop offset="0.0003" stop-color="rgb(238, 88, 94)"/>
<stop offset="0.2129" stop-color="rgb(245, 165, 170)"/>
<stop offset="0.3916" stop-color="rgb(255, 255, 255)"/>
<stop offset="0.5107" stop-color="rgb(214, 214, 235)"/>
<stop offset="0.6597" stop-color="rgb(150, 155, 205)"/>
<stop offset="0.8086" stop-color="rgb(92, 102, 178)"/>
<stop offset="0.9992" stop-color="rgb(60, 80, 164)"/>
</linearGradient></defs>
<rect x="612.7" y="210.2" width="16.30" height="322.00" fill="url(#cb)" stroke="#c8c8c8" stroke-width="0.6"/>
<line x1="629.0" y1="221.22" x2="631.2" y2="221.22" stroke="#444" stroke-width="0.7"/>
<text x="635.50" y="224.02" font-size="8.1" text-anchor="start" fill="#1a1a1a" stroke="#1a1a1a" stroke-width="0.22"  >0.6</text>
<line x1="629.0" y1="259.58" x2="631.2" y2="259.58" stroke="#444" stroke-width="0.7"/>
<text x="635.50" y="262.38" font-size="8.1" text-anchor="start" fill="#1a1a1a" stroke="#1a1a1a" stroke-width="0.22"  >0.4</text>
<line x1="629.0" y1="297.94" x2="631.2" y2="297.94" stroke="#444" stroke-width="0.7"/>
<text x="635.50" y="300.74" font-size="8.1" text-anchor="start" fill="#1a1a1a" stroke="#1a1a1a" stroke-width="0.22"  >0.2</text>
<line x1="629.0" y1="336.30" x2="631.2" y2="336.30" stroke="#444" stroke-width="0.7"/>
<text x="635.50" y="339.10" font-size="8.1" text-anchor="start" fill="#1a1a1a" stroke="#1a1a1a" stroke-width="0.22"  >0</text>
<line x1="629.0" y1="374.66" x2="631.2" y2="374.66" stroke="#444" stroke-width="0.7"/>
<text x="635.50" y="377.46" font-size="8.1" text-anchor="start" fill="#1a1a1a" stroke="#1a1a1a" stroke-width="0.22"  >−0.2</text>
<line x1="629.0" y1="413.02" x2="631.2" y2="413.02" stroke="#444" stroke-width="0.7"/>
<text x="635.50" y="415.82" font-size="8.1" text-anchor="start" fill="#1a1a1a" stroke="#1a1a1a" stroke-width="0.22"  >−0.4</text>
<line x1="629.0" y1="451.38" x2="631.2" y2="451.38" stroke="#444" stroke-width="0.7"/>
<text x="635.50" y="454.18" font-size="8.1" text-anchor="start" fill="#1a1a1a" stroke="#1a1a1a" stroke-width="0.22"  >−0.6</text>
<line x1="629.0" y1="489.74" x2="631.2" y2="489.74" stroke="#444" stroke-width="0.7"/>
<text x="635.50" y="492.54" font-size="8.1" text-anchor="start" fill="#1a1a1a" stroke="#1a1a1a" stroke-width="0.22"  >−0.8</text>
<line x1="629.0" y1="528.10" x2="631.2" y2="528.10" stroke="#444" stroke-width="0.7"/>
<text x="635.50" y="530.90" font-size="8.1" text-anchor="start" fill="#1a1a1a" stroke="#1a1a1a" stroke-width="0.22"  >−1.0</text>
<text x="622.30" y="197.00" font-size="8.1" text-anchor="middle" fill="#1a1a1a" stroke="#1a1a1a" stroke-width="0.22"  >Average</text>
<text x="622.30" y="206.20" font-size="8.1" text-anchor="middle" fill="#1a1a1a" stroke="#1a1a1a" stroke-width="0.22"  >(segment mean)</text>
<text x="0.90" y="593.50" font-size="11.5" text-anchor="start" fill="#000" font-weight="bold" >c</text>
<line x1="24.5" y1="599.5" x2="24.5" y2="774.8" stroke="#666" stroke-width="0.8"/>
<line x1="27.5" y1="778.5" x2="204.5" y2="778.5" stroke="#666" stroke-width="0.8"/>
<text x="19.50" y="623.20" font-size="8.1" text-anchor="end" fill="#1a1a1a" stroke="#1a1a1a" stroke-width="0.22"  >4</text>
<text x="19.50" y="646.10" font-size="8.1" text-anchor="end" fill="#1a1a1a" stroke="#1a1a1a" stroke-width="0.22"  >3</text>
<text x="19.50" y="669.00" font-size="8.1" text-anchor="end" fill="#1a1a1a" stroke="#1a1a1a" stroke-width="0.22"  >2</text>
<text x="19.50" y="691.90" font-size="8.1" text-anchor="end" fill="#1a1a1a" stroke="#1a1a1a" stroke-width="0.22"  >1</text>
<text x="19.50" y="714.80" font-size="8.1" text-anchor="end" fill="#1a1a1a" stroke="#1a1a1a" stroke-width="0.22"  >0</text>
<text x="19.50" y="737.70" font-size="8.1" text-anchor="end" fill="#1a1a1a" stroke="#1a1a1a" stroke-width="0.22"  >−1</text>
<text x="19.50" y="760.60" font-size="8.1" text-anchor="end" fill="#1a1a1a" stroke="#1a1a1a" stroke-width="0.22"  >−2</text>
<text x="6.50" y="689.00" font-size="8.1" text-anchor="middle" fill="#1a1a1a"  transform="rotate(-90 6.5 689)" >GCS</text>
<line x1="45.45" y1="686.30" x2="45.45" y2="752.70" stroke="#808080" stroke-width="0.9"/>
<line x1="38.10" y1="686.30" x2="52.80" y2="686.30" stroke="#808080" stroke-width="0.9"/>
<line x1="38.10" y1="752.70" x2="52.80" y2="752.70" stroke="#808080" stroke-width="0.9"/>
<rect x="31.30" y="700.40" width="28.30" height="35.00" fill="#f2a5ad" stroke="#808080" stroke-width="0.9"/>
<line x1="31.30" y1="720.30" x2="59.60" y2="720.30" stroke="#808080" stroke-width="0.9"/>
<line x1="80.65" y1="711.40" x2="80.65" y2="739.30" stroke="#808080" stroke-width="0.9"/>
<line x1="73.50" y1="711.40" x2="87.80" y2="711.40" stroke="#808080" stroke-width="0.9"/>
<line x1="73.50" y1="739.30" x2="87.80" y2="739.30" stroke="#808080" stroke-width="0.9"/>
<rect x="66.50" y="714.40" width="28.30" height="10.70" fill="#cf97c7" stroke="#808080" stroke-width="0.9"/>
<line x1="66.50" y1="717.20" x2="94.80" y2="717.20" stroke="#808080" stroke-width="0.9"/>
<line x1="116.10" y1="661.90" x2="116.10" y2="693.60" stroke="#808080" stroke-width="0.9"/>
<line x1="109.05" y1="661.90" x2="123.15" y2="661.90" stroke="#808080" stroke-width="0.9"/>
<line x1="109.05" y1="693.60" x2="123.15" y2="693.60" stroke="#808080" stroke-width="0.9"/>
<rect x="102.00" y="668.40" width="28.20" height="25.20" fill="#a4cb7e" stroke="#808080" stroke-width="0.9"/>
<line x1="102.00" y1="687.50" x2="130.20" y2="687.50" stroke="#808080" stroke-width="0.9"/>
<line x1="151.50" y1="679.30" x2="151.50" y2="721.20" stroke="#808080" stroke-width="0.9"/>
<line x1="144.70" y1="679.30" x2="158.30" y2="679.30" stroke="#808080" stroke-width="0.9"/>
<line x1="144.70" y1="721.20" x2="158.30" y2="721.20" stroke="#808080" stroke-width="0.9"/>
<rect x="137.40" y="690.00" width="28.20" height="20.60" fill="#7fbfca" stroke="#808080" stroke-width="0.9"/>
<line x1="137.40" y1="700.40" x2="165.60" y2="700.40" stroke="#808080" stroke-width="0.9"/>
<line x1="186.65" y1="606.60" x2="186.65" y2="765.30" stroke="#808080" stroke-width="0.9"/>
<line x1="179.60" y1="606.60" x2="193.70" y2="606.60" stroke="#808080" stroke-width="0.9"/>
<line x1="179.60" y1="765.30" x2="193.70" y2="765.30" stroke="#808080" stroke-width="0.9"/>
<rect x="172.60" y="675.00" width="28.10" height="90.30" fill="#d6d6d9" stroke="#808080" stroke-width="0.9"/>
<line x1="172.60" y1="715.20" x2="200.70" y2="715.20" stroke="#808080" stroke-width="0.9"/>
<circle cx="47.00" cy="690.70" r="1.4" fill="#8f8f8f"/>
<circle cx="43.70" cy="703.60" r="1.4" fill="#8f8f8f"/>
<circle cx="45.80" cy="720.30" r="1.4" fill="#8f8f8f"/>
<circle cx="48.60" cy="734.50" r="1.4" fill="#8f8f8f"/>
<circle cx="47.60" cy="738.70" r="1.4" fill="#8f8f8f"/>
<circle cx="44.60" cy="752.70" r="1.4" fill="#8f8f8f"/>
<circle cx="80.60" cy="711.40" r="1.4" fill="#8f8f8f"/>
<circle cx="81.50" cy="716.30" r="1.4" fill="#8f8f8f"/>
<circle cx="82.00" cy="718.60" r="1.4" fill="#8f8f8f"/>
<circle cx="81.60" cy="720.30" r="1.4" fill="#8f8f8f"/>
<circle cx="77.80" cy="739.30" r="1.4" fill="#8f8f8f"/>
<circle cx="81.90" cy="739.30" r="1.4" fill="#8f8f8f"/>
<circle cx="78.00" cy="631.60" r="1.4" fill="#8f8f8f"/>
<circle cx="112.60" cy="661.90" r="1.4" fill="#8f8f8f"/>
<circle cx="116.30" cy="668.40" r="1.4" fill="#8f8f8f"/>
<circle cx="117.90" cy="687.10" r="1.4" fill="#8f8f8f"/>
<circle cx="118.10" cy="693.90" r="1.4" fill="#8f8f8f"/>
<circle cx="150.30" cy="679.30" r="1.4" fill="#8f8f8f"/>
<circle cx="154.60" cy="721.20" r="1.4" fill="#8f8f8f"/>
<circle cx="185.40" cy="628.20" r="1.4" fill="#8f8f8f"/>
<circle cx="183.50" cy="637.90" r="1.4" fill="#8f8f8f"/>
<circle cx="188.60" cy="643.70" r="1.4" fill="#8f8f8f"/>
<circle cx="184.70" cy="670.80" r="1.4" fill="#8f8f8f"/>
<circle cx="183.50" cy="676.70" r="1.4" fill="#8f8f8f"/>
<circle cx="189.80" cy="695.30" r="1.4" fill="#8f8f8f"/>
<circle cx="185.90" cy="700.90" r="1.4" fill="#8f8f8f"/>
<circle cx="185.40" cy="702.80" r="1.4" fill="#8f8f8f"/>
<circle cx="190.00" cy="712.00" r="1.4" fill="#8f8f8f"/>
<circle cx="186.40" cy="718.60" r="1.4" fill="#8f8f8f"/>
<circle cx="185.40" cy="741.80" r="1.4" fill="#8f8f8f"/>
<circle cx="182.50" cy="765.60" r="1.4" fill="#8f8f8f"/>
<circle cx="184.50" cy="765.90" r="1.4" fill="#8f8f8f"/>
<circle cx="186.50" cy="765.60" r="1.4" fill="#8f8f8f"/>
<circle cx="188.50" cy="765.90" r="1.4" fill="#8f8f8f"/>
<circle cx="190.30" cy="765.40" r="1.4" fill="#8f8f8f"/>
<circle cx="48.30" cy="686.30" r="1.5" fill="#2a4fb0"/>
<circle cx="118.40" cy="749.20" r="1.5" fill="#7b1f82"/>
<circle cx="185.90" cy="606.60" r="1.5" fill="#7b1f82"/>
<circle cx="188.80" cy="680.30" r="1.5" fill="#7b1f82"/>
<circle cx="184.20" cy="730.20" r="1.5" fill="#7b1f82"/>
<circle cx="184.00" cy="753.20" r="1.5" fill="#e05550"/>
<text x="45.30" y="789.60" font-size="8.1" text-anchor="middle" fill="#1a1a1a" stroke="#1a1a1a" stroke-width="0.22" font-style="italic" >BRAF</text>
<text x="80.60" y="789.60" font-size="8.1" text-anchor="middle" fill="#1a1a1a" stroke="#1a1a1a" stroke-width="0.22" font-style="italic" >NRAS</text>
<text x="116.50" y="789.60" font-size="8.1" text-anchor="middle" fill="#1a1a1a" stroke="#1a1a1a" stroke-width="0.22" font-style="italic" >NF1</text>
<text x="151.50" y="789.60" font-size="8.1" text-anchor="middle" fill="#1a1a1a" stroke="#1a1a1a" stroke-width="0.22" font-style="italic" >KIT</text>
<text x="186.60" y="789.60" font-size="8.1" text-anchor="middle" fill="#1a1a1a" stroke="#1a1a1a" stroke-width="0.22"  >QWT</text>
<text x="115.00" y="803.80" font-size="8.1" text-anchor="middle" fill="#1a1a1a" stroke="#1a1a1a" stroke-width="0.22"  >Mutational status</text>
<text x="84.50" y="613.50" font-size="8.1" text-anchor="start" fill="#1a1a1a" stroke="#1a1a1a" stroke-width="0.22"  >Sample type</text>
<circle cx="88.60" cy="619.90" r="3.2" fill="#939393"/>
<text x="95.80" y="622.70" font-size="8.1" text-anchor="start" fill="#1a1a1a" stroke="#1a1a1a" stroke-width="0.22"  >Primary</text>
<circle cx="88.60" cy="628.23" r="3.2" fill="#7b1f82"/>
<text x="95.80" y="631.03" font-size="8.1" text-anchor="start" fill="#1a1a1a" stroke="#1a1a1a" stroke-width="0.22"  >Lymph node metastatis</text>
<circle cx="88.60" cy="636.56" r="3.2" fill="#2a4fb0"/>
<text x="95.80" y="639.36" font-size="8.1" text-anchor="start" fill="#1a1a1a" stroke="#1a1a1a" stroke-width="0.22"  >Recurrence</text>
<circle cx="88.60" cy="644.89" r="3.2" fill="#e05550"/>
<text x="95.80" y="647.69" font-size="8.1" text-anchor="start" fill="#1a1a1a" stroke="#1a1a1a" stroke-width="0.22"  >Metastasis</text>
<text x="236.30" y="593.40" font-size="11.5" text-anchor="start" fill="#000" font-weight="bold" >d</text>
<rect x="259.2" y="588.5" width="192.6" height="189.8" fill="none" stroke="#8a8a8a" stroke-width="0.9"/>
<text x="255.00" y="614.40" font-size="8.1" text-anchor="end" fill="#1a1a1a" stroke="#1a1a1a" stroke-width="0.22"  >4</text>
<text x="255.00" y="639.25" font-size="8.1" text-anchor="end" fill="#1a1a1a" stroke="#1a1a1a" stroke-width="0.22"  >3</text>
<text x="255.00" y="664.10" font-size="8.1" text-anchor="end" fill="#1a1a1a" stroke="#1a1a1a" stroke-width="0.22"  >2</text>
<text x="255.00" y="688.95" font-size="8.1" text-anchor="end" fill="#1a1a1a" stroke="#1a1a1a" stroke-width="0.22"  >1</text>
<text x="255.00" y="713.80" font-size="8.1" text-anchor="end" fill="#1a1a1a" stroke="#1a1a1a" stroke-width="0.22"  >0</text>
<text x="255.00" y="738.65" font-size="8.1" text-anchor="end" fill="#1a1a1a" stroke="#1a1a1a" stroke-width="0.22"  >−1</text>
<text x="255.00" y="763.50" font-size="8.1" text-anchor="end" fill="#1a1a1a" stroke="#1a1a1a" stroke-width="0.22"  >−2</text>
<text x="267.60" y="789.60" font-size="8.1" text-anchor="middle" fill="#1a1a1a" stroke="#1a1a1a" stroke-width="0.22"  >0</text>
<text x="295.65" y="789.60" font-size="8.1" text-anchor="middle" fill="#1a1a1a" stroke="#1a1a1a" stroke-width="0.22"  >20</text>
<text x="323.70" y="789.60" font-size="8.1" text-anchor="middle" fill="#1a1a1a" stroke="#1a1a1a" stroke-width="0.22"  >40</text>
<text x="351.75" y="789.60" font-size="8.1" text-anchor="middle" fill="#1a1a1a" stroke="#1a1a1a" stroke-width="0.22"  >60</text>
<text x="379.80" y="789.60" font-size="8.1" text-anchor="middle" fill="#1a1a1a" stroke="#1a1a1a" stroke-width="0.22"  >80</text>
<text x="407.85" y="789.60" font-size="8.1" text-anchor="middle" fill="#1a1a1a" stroke="#1a1a1a" stroke-width="0.22"  >100</text>
<text x="435.90" y="789.60" font-size="8.1" text-anchor="middle" fill="#1a1a1a" stroke="#1a1a1a" stroke-width="0.22"  >120</text>
<text x="357.00" y="803.30" font-size="8.1" text-anchor="middle" fill="#1a1a1a" stroke="#1a1a1a" stroke-width="0.22"  >Total TMB</text>
<text x="242.50" y="685.80" font-size="8.1" text-anchor="middle" fill="#1a1a1a"  transform="rotate(-90 242.5 685.8)" >GCS</text>
<rect x="394.00" y="594.50" width="4.6" height="4.6" fill="#d4d4d4" stroke="#3a3a3a" stroke-width="0.7"/>
<rect x="439.00" y="617.30" width="4.6" height="4.6" fill="#d4d4d4" stroke="#3a3a3a" stroke-width="0.7"/>
<rect x="314.00" y="628.10" width="4.6" height="4.6" fill="#d4d4d4" stroke="#3a3a3a" stroke-width="0.7"/>
<rect x="424.50" y="634.40" width="4.6" height="4.6" fill="#d4d4d4" stroke="#3a3a3a" stroke-width="0.7"/>
<rect x="350.30" y="663.30" width="4.6" height="4.6" fill="#d4d4d4" stroke="#3a3a3a" stroke-width="0.7"/>
<rect x="352.00" y="669.70" width="4.6" height="4.6" fill="#d4d4d4" stroke="#3a3a3a" stroke-width="0.7"/>
<rect x="420.50" y="664.00" width="4.6" height="4.6" fill="#d4d4d4" stroke="#3a3a3a" stroke-width="0.7"/>
<rect x="381.20" y="674.10" width="4.6" height="4.6" fill="#d4d4d4" stroke="#3a3a3a" stroke-width="0.7"/>
<rect x="325.50" y="697.60" width="4.6" height="4.6" fill="#d4d4d4" stroke="#3a3a3a" stroke-width="0.7"/>
<rect x="341.90" y="695.90" width="4.6" height="4.6" fill="#d4d4d4" stroke="#3a3a3a" stroke-width="0.7"/>
<rect x="353.00" y="690.90" width="4.6" height="4.6" fill="#d4d4d4" stroke="#3a3a3a" stroke-width="0.7"/>
<rect x="353.30" y="708.00" width="4.6" height="4.6" fill="#d4d4d4" stroke="#3a3a3a" stroke-width="0.7"/>
<rect x="272.40" y="715.00" width="4.6" height="4.6" fill="#d4d4d4" stroke="#3a3a3a" stroke-width="0.7"/>
<rect x="325.50" y="728.10" width="4.6" height="4.6" fill="#d4d4d4" stroke="#3a3a3a" stroke-width="0.7"/>
<rect x="290.50" y="740.90" width="4.6" height="4.6" fill="#d4d4d4" stroke="#3a3a3a" stroke-width="0.7"/>
<rect x="293.20" y="753.00" width="4.6" height="4.6" fill="#d4d4d4" stroke="#3a3a3a" stroke-width="0.7"/>
<rect x="278.10" y="765.30" width="4.6" height="4.6" fill="#d4d4d4" stroke="#3a3a3a" stroke-width="0.7"/>
<rect x="279.70" y="766.10" width="4.6" height="4.6" fill="#d4d4d4" stroke="#3a3a3a" stroke-width="0.7"/>
<rect x="273.10" y="765.70" width="4.6" height="4.6" fill="#d4d4d4" stroke="#3a3a3a" stroke-width="0.7"/>
<rect x="269.70" y="766.70" width="4.6" height="4.6" fill="#d4d4d4" stroke="#3a3a3a" stroke-width="0.7"/>
<rect x="265.70" y="767.40" width="4.6" height="4.6" fill="#d4d4d4" stroke="#3a3a3a" stroke-width="0.7"/>
<rect x="268.20" y="767.10" width="4.6" height="4.6" fill="#d4d4d4" stroke="#3a3a3a" stroke-width="0.7"/>
<polygon transform="rotate(45 339.80 683.10)" points="338.80,679.90 340.80,679.90 340.80,682.10 343.00,682.10 343.00,684.10 340.80,684.10 340.80,686.30 338.80,686.30 338.80,684.10 336.60,684.10 336.60,682.10 338.80,682.10" fill="#f2939b" stroke="#3a3a3a" stroke-width="0.7"/>
<polygon transform="rotate(45 343.20 687.50)" points="342.20,684.30 344.20,684.30 344.20,686.50 346.40,686.50 346.40,688.50 344.20,688.50 344.20,690.70 342.20,690.70 342.20,688.50 340.00,688.50 340.00,686.50 342.20,686.50" fill="#f2939b" stroke="#3a3a3a" stroke-width="0.7"/>
<polygon transform="rotate(45 386.50 701.20)" points="385.50,698.00 387.50,698.00 387.50,700.20 389.70,700.20 389.70,702.20 387.50,702.20 387.50,704.40 385.50,704.40 385.50,702.20 383.30,702.20 383.30,700.20 385.50,700.20" fill="#f2939b" stroke="#3a3a3a" stroke-width="0.7"/>
<polygon transform="rotate(45 332.50 719.00)" points="331.50,715.80 333.50,715.80 333.50,718.00 335.70,718.00 335.70,720.00 333.50,720.00 333.50,722.20 331.50,722.20 331.50,720.00 329.30,720.00 329.30,718.00 331.50,718.00" fill="#f2939b" stroke="#3a3a3a" stroke-width="0.7"/>
<polygon transform="rotate(45 305.60 719.00)" points="304.60,715.80 306.60,715.80 306.60,718.00 308.80,718.00 308.80,720.00 306.60,720.00 306.60,722.20 304.60,722.20 304.60,720.00 302.40,720.00 302.40,718.00 304.60,718.00" fill="#f2939b" stroke="#3a3a3a" stroke-width="0.7"/>
<polygon transform="rotate(45 323.00 734.80)" points="322.00,731.60 324.00,731.60 324.00,733.80 326.20,733.80 326.20,735.80 324.00,735.80 324.00,738.00 322.00,738.00 322.00,735.80 319.80,735.80 319.80,733.80 322.00,733.80" fill="#f2939b" stroke="#3a3a3a" stroke-width="0.7"/>
<polygon transform="rotate(45 302.60 754.60)" points="301.60,751.40 303.60,751.40 303.60,753.60 305.80,753.60 305.80,755.60 303.60,755.60 303.60,757.80 301.60,757.80 301.60,755.60 299.40,755.60 299.40,753.60 301.60,753.60" fill="#f2939b" stroke="#3a3a3a" stroke-width="0.7"/>
<polygon transform="rotate(45 397.60 739.50)" points="396.60,736.30 398.60,736.30 398.60,738.50 400.80,738.50 400.80,740.50 398.60,740.50 398.60,742.70 396.60,742.70 396.60,740.50 394.40,740.50 394.40,738.50 396.60,738.50" fill="#f2939b" stroke="#3a3a3a" stroke-width="0.7"/>
<polygon points="310.00,706.80 312.00,706.80 312.00,709.00 314.20,709.00 314.20,711.00 312.00,711.00 312.00,713.20 310.00,713.20 310.00,711.00 307.80,711.00 307.80,709.00 310.00,709.00" fill="#d67cc2" stroke="#3a3a3a" stroke-width="0.7"/>
<polygon points="304.60,710.80 306.60,710.80 306.60,713.00 308.80,713.00 308.80,715.00 306.60,715.00 306.60,717.20 304.60,717.20 304.60,715.00 302.40,715.00 302.40,713.00 304.60,713.00" fill="#d67cc2" stroke="#3a3a3a" stroke-width="0.7"/>
<polygon points="311.60,711.50 313.60,711.50 313.60,713.70 315.80,713.70 315.80,715.70 313.60,715.70 313.60,717.90 311.60,717.90 311.60,715.70 309.40,715.70 309.40,713.70 311.60,713.70" fill="#d67cc2" stroke="#3a3a3a" stroke-width="0.7"/>
<polygon points="293.20,714.80 295.20,714.80 295.20,717.00 297.40,717.00 297.40,719.00 295.20,719.00 295.20,721.20 293.20,721.20 293.20,719.00 291.00,719.00 291.00,717.00 293.20,717.00" fill="#d67cc2" stroke="#3a3a3a" stroke-width="0.7"/>
<polygon points="324.10,715.80 326.10,715.80 326.10,718.00 328.30,718.00 328.30,720.00 326.10,720.00 326.10,722.20 324.10,722.20 324.10,720.00 321.90,720.00 321.90,718.00 324.10,718.00" fill="#d67cc2" stroke="#3a3a3a" stroke-width="0.7"/>
<polygon points="304.60,737.30 306.60,737.30 306.60,739.50 308.80,739.50 308.80,741.50 306.60,741.50 306.60,743.70 304.60,743.70 304.60,741.50 302.40,741.50 302.40,739.50 304.60,739.50" fill="#d67cc2" stroke="#3a3a3a" stroke-width="0.7"/>
<polygon points="315.30,737.30 317.30,737.30 317.30,739.50 319.50,739.50 319.50,741.50 317.30,741.50 317.30,743.70 315.30,743.70 315.30,741.50 313.10,741.50 313.10,739.50 315.30,739.50" fill="#d67cc2" stroke="#3a3a3a" stroke-width="0.7"/>
<polygon points="442.60,620.50 444.60,620.50 444.60,622.70 446.80,622.70 446.80,624.70 444.60,624.70 444.60,626.90 442.60,626.90 442.60,624.70 440.40,624.70 440.40,622.70 442.60,622.70" fill="#d67cc2" stroke="#3a3a3a" stroke-width="0.7"/>
<circle cx="318.00" cy="656.60" r="2.7" fill="#9ccc5a" stroke="#3a3a3a" stroke-width="0.7"/>
<circle cx="319.70" cy="663.30" r="2.7" fill="#9ccc5a" stroke="#3a3a3a" stroke-width="0.7"/>
<circle cx="327.80" cy="683.80" r="2.7" fill="#9ccc5a" stroke="#3a3a3a" stroke-width="0.7"/>
<circle cx="354.00" cy="690.80" r="2.7" fill="#9ccc5a" stroke="#3a3a3a" stroke-width="0.7"/>
<circle cx="284.80" cy="750.90" r="2.7" fill="#9ccc5a" stroke="#3a3a3a" stroke-width="0.7"/>
<polygon points="341.5,672.1999999999999 344.7,675.4 341.5,678.6 338.3,675.4" fill="#62b7cf" stroke="#3a3a3a" stroke-width="0.7"/>
<polygon points="433.9,717.1999999999999 437.09999999999997,720.4 433.9,723.6 430.7,720.4" fill="#62b7cf" stroke="#3a3a3a" stroke-width="0.7"/>
<polygon transform="rotate(45 269.40 599.80)" points="268.40,596.60 270.40,596.60 270.40,598.80 272.60,598.80 272.60,600.80 270.40,600.80 270.40,603.00 268.40,603.00 268.40,600.80 266.20,600.80 266.20,598.80 268.40,598.80" fill="#f2939b" stroke="#3a3a3a" stroke-width="0.7"/>
<text x="279.00" y="602.60" font-size="8.1" text-anchor="start" fill="#1a1a1a" stroke="#1a1a1a" stroke-width="0.22" font-style="italic" >BRAF</text>
<polygon points="268.40,606.50 270.40,606.50 270.40,608.70 272.60,608.70 272.60,610.70 270.40,610.70 270.40,612.90 268.40,612.90 268.40,610.70 266.20,610.70 266.20,608.70 268.40,608.70" fill="#d67cc2" stroke="#3a3a3a" stroke-width="0.7"/>
<text x="279.00" y="612.50" font-size="8.1" text-anchor="start" fill="#1a1a1a" stroke="#1a1a1a" stroke-width="0.22" font-style="italic" >NRAS</text>
<circle cx="269.40" cy="619.40" r="2.7" fill="#9ccc5a" stroke="#3a3a3a" stroke-width="0.7"/>
<text x="279.00" y="622.20" font-size="8.1" text-anchor="start" fill="#1a1a1a" stroke="#1a1a1a" stroke-width="0.22" font-style="italic" >NF1</text>
<polygon points="269.4,625.9 272.59999999999997,629.1 269.4,632.3000000000001 266.2,629.1" fill="#62b7cf" stroke="#3a3a3a" stroke-width="0.7"/>
<text x="279.00" y="631.90" font-size="8.1" text-anchor="start" fill="#1a1a1a" stroke="#1a1a1a" stroke-width="0.22" font-style="italic" >KIT</text>
<rect x="267.10" y="636.70" width="4.6" height="4.6" fill="#d4d4d4" stroke="#3a3a3a" stroke-width="0.7"/>
<text x="279.00" y="641.80" font-size="8.1" text-anchor="start" fill="#1a1a1a" stroke="#1a1a1a" stroke-width="0.22"  >QWT</text>
<text x="264.4" y="660.0" font-size="8.1" fill="#1a1a1a" stroke="#1a1a1a" stroke-width="0.22"><tspan font-style="italic">r</tspan> = 0.72</text>
<text x="264.4" y="668.4" font-size="8.1" fill="#1a1a1a" stroke="#1a1a1a" stroke-width="0.22"><tspan font-style="italic">P</tspan> &lt; 0.0001</text>
<text x="479.90" y="593.40" font-size="11.5" text-anchor="start" fill="#000" font-weight="bold" >e</text>
<line x1="501.3" y1="600.1" x2="501.3" y2="774.8" stroke="#666" stroke-width="0.8"/>
<line x1="505.4" y1="778.3" x2="683.5" y2="778.3" stroke="#666" stroke-width="0.8"/>
<text x="497.00" y="622.80" font-size="8.1" text-anchor="end" fill="#1a1a1a" stroke="#1a1a1a" stroke-width="0.22"  >4</text>
<text x="497.00" y="645.80" font-size="8.1" text-anchor="end" fill="#1a1a1a" stroke="#1a1a1a" stroke-width="0.22"  >3</text>
<text x="497.00" y="668.80" font-size="8.1" text-anchor="end" fill="#1a1a1a" stroke="#1a1a1a" stroke-width="0.22"  >2</text>
<text x="497.00" y="691.80" font-size="8.1" text-anchor="end" fill="#1a1a1a" stroke="#1a1a1a" stroke-width="0.22"  >1</text>
<text x="497.00" y="714.80" font-size="8.1" text-anchor="end" fill="#1a1a1a" stroke="#1a1a1a" stroke-width="0.22"  >0</text>
<text x="497.00" y="737.80" font-size="8.1" text-anchor="end" fill="#1a1a1a" stroke="#1a1a1a" stroke-width="0.22"  >−1</text>
<text x="497.00" y="760.80" font-size="8.1" text-anchor="end" fill="#1a1a1a" stroke="#1a1a1a" stroke-width="0.22"  >−2</text>
<text x="487.00" y="694.20" font-size="8.1" text-anchor="middle" fill="#1a1a1a"  transform="rotate(-90 487.0 694.2)" >GCS</text>
<text x="535.60" y="789.00" font-size="8.1" text-anchor="middle" fill="#1a1a1a" stroke="#1a1a1a" stroke-width="0.22"  >Foot</text>
<text x="594.40" y="789.00" font-size="8.1" text-anchor="middle" fill="#1a1a1a" stroke="#1a1a1a" stroke-width="0.22"  >Hand</text>
<text x="654.30" y="789.00" font-size="8.1" text-anchor="middle" fill="#1a1a1a" stroke="#1a1a1a" stroke-width="0.22"  >Subungual</text>
<text x="593.30" y="803.60" font-size="8.1" text-anchor="middle" fill="#1a1a1a" stroke="#1a1a1a" stroke-width="0.22"  >Site of presentation</text>
<polyline points="533.2,602.5 533.2,600.6 652.9,600.6 652.9,602.5" fill="none" stroke="#666" stroke-width="0.8"/>
<text x="594.4" y="597.9" font-size="8.1" text-anchor="middle" fill="#1a1a1a" stroke="#1a1a1a" stroke-width="0.22"><tspan font-style="italic">P</tspan> = 0.057</text>
<line x1="535.05" y1="629.60" x2="535.05" y2="764.60" stroke="#808080" stroke-width="0.9"/>
<line x1="523.20" y1="629.60" x2="546.90" y2="629.60" stroke="#808080" stroke-width="0.9"/>
<line x1="523.20" y1="764.60" x2="546.90" y2="764.60" stroke="#808080" stroke-width="0.9"/>
<rect x="511.30" y="690.20" width="47.50" height="58.30" fill="#f5babe" stroke="#808080" stroke-width="0.9"/>
<line x1="511.30" y1="718.30" x2="558.80" y2="718.30" stroke="#808080" stroke-width="0.9"/>
<line x1="594.90" y1="680.00" x2="594.90" y2="738.10" stroke="#808080" stroke-width="0.9"/>
<line x1="583.10" y1="680.00" x2="606.70" y2="680.00" stroke="#808080" stroke-width="0.9"/>
<line x1="583.10" y1="738.10" x2="606.70" y2="738.10" stroke="#808080" stroke-width="0.9"/>
<rect x="570.90" y="686.90" width="48.00" height="29.00" fill="#9bd4a8" stroke="#808080" stroke-width="0.9"/>
<line x1="570.90" y1="694.20" x2="618.90" y2="694.20" stroke="#808080" stroke-width="0.9"/>
<line x1="654.65" y1="609.40" x2="654.65" y2="720.60" stroke="#808080" stroke-width="0.9"/>
<line x1="642.85" y1="609.40" x2="666.45" y2="609.40" stroke="#808080" stroke-width="0.9"/>
<line x1="642.85" y1="720.60" x2="666.45" y2="720.60" stroke="#808080" stroke-width="0.9"/>
<rect x="630.40" y="627.30" width="48.50" height="63.30" fill="#98a6d6" stroke="#808080" stroke-width="0.9"/>
<line x1="630.40" y1="657.30" x2="678.90" y2="657.30" stroke="#808080" stroke-width="0.9"/>
<circle cx="536.00" cy="629.60" r="1.4" fill="#8f8f8f"/>
<circle cx="531.20" cy="639.20" r="1.4" fill="#8f8f8f"/>
<circle cx="540.20" cy="645.00" r="1.4" fill="#8f8f8f"/>
<circle cx="534.40" cy="662.70" r="1.4" fill="#8f8f8f"/>
<circle cx="536.30" cy="669.00" r="1.4" fill="#8f8f8f"/>
<circle cx="536.00" cy="671.00" r="1.4" fill="#8f8f8f"/>
<circle cx="530.80" cy="671.90" r="1.4" fill="#8f8f8f"/>
<circle cx="532.70" cy="677.10" r="1.4" fill="#8f8f8f"/>
<circle cx="533.50" cy="687.30" r="1.4" fill="#8f8f8f"/>
<circle cx="535.40" cy="690.80" r="1.4" fill="#8f8f8f"/>
<circle cx="536.00" cy="696.00" r="1.4" fill="#8f8f8f"/>
<circle cx="532.10" cy="702.30" r="1.4" fill="#8f8f8f"/>
<circle cx="536.90" cy="700.80" r="1.4" fill="#8f8f8f"/>
<circle cx="539.60" cy="703.30" r="1.4" fill="#8f8f8f"/>
<circle cx="531.50" cy="711.00" r="1.4" fill="#8f8f8f"/>
<circle cx="533.50" cy="711.50" r="1.4" fill="#8f8f8f"/>
<circle cx="534.20" cy="714.80" r="1.4" fill="#8f8f8f"/>
<circle cx="540.80" cy="714.80" r="1.4" fill="#8f8f8f"/>
<circle cx="529.60" cy="719.00" r="1.4" fill="#8f8f8f"/>
<circle cx="531.50" cy="718.50" r="1.4" fill="#8f8f8f"/>
<circle cx="534.00" cy="719.60" r="1.4" fill="#8f8f8f"/>
<circle cx="537.30" cy="733.80" r="1.4" fill="#8f8f8f"/>
<circle cx="539.80" cy="738.30" r="1.4" fill="#8f8f8f"/>
<circle cx="540.30" cy="737.80" r="1.4" fill="#8f8f8f"/>
<circle cx="530.60" cy="740.80" r="1.4" fill="#8f8f8f"/>
<circle cx="538.80" cy="751.50" r="1.4" fill="#8f8f8f"/>
<circle cx="528.60" cy="763.30" r="1.4" fill="#8f8f8f"/>
<circle cx="530.50" cy="763.60" r="1.4" fill="#8f8f8f"/>
<circle cx="532.40" cy="763.30" r="1.4" fill="#8f8f8f"/>
<circle cx="534.80" cy="763.80" r="1.4" fill="#8f8f8f"/>
<circle cx="536.60" cy="763.30" r="1.4" fill="#8f8f8f"/>
<circle cx="538.80" cy="763.60" r="1.4" fill="#8f8f8f"/>
<circle cx="541.00" cy="763.30" r="1.4" fill="#8f8f8f"/>
<circle cx="589.60" cy="680.00" r="1.4" fill="#8f8f8f"/>
<circle cx="590.50" cy="694.20" r="1.4" fill="#8f8f8f"/>
<circle cx="593.80" cy="738.10" r="1.4" fill="#8f8f8f"/>
<circle cx="656.00" cy="633.20" r="1.4" fill="#8f8f8f"/>
<circle cx="653.40" cy="720.60" r="1.4" fill="#8f8f8f"/>
<circle cx="539.20" cy="686.70" r="1.5" fill="#2a4fb0"/>
<circle cx="531.90" cy="729.40" r="1.5" fill="#7b1f82"/>
<circle cx="533.50" cy="747.50" r="1.5" fill="#7b1f82"/>
<circle cx="531.50" cy="751.90" r="1.5" fill="#e05550"/>
<circle cx="653.60" cy="609.40" r="1.5" fill="#7b1f82"/>
<circle cx="648.40" cy="680.70" r="1.5" fill="#7b1f82"/>
<text x="629.30" y="732.20" font-size="8.1" text-anchor="start" fill="#1a1a1a" stroke="#1a1a1a" stroke-width="0.22"  >Sample type</text>
<circle cx="633.50" cy="738.40" r="3.2" fill="#939393"/>
<text x="641.00" y="741.20" font-size="8.1" text-anchor="start" fill="#1a1a1a" stroke="#1a1a1a" stroke-width="0.22"  >Primary</text>
<circle cx="633.50" cy="746.40" r="3.2" fill="#7b1f82"/>
<text x="641.00" y="749.20" font-size="8.1" text-anchor="start" fill="#1a1a1a" stroke="#1a1a1a" stroke-width="0.22"  >Lymph node</text>
<text x="641.00" y="756.50" font-size="8.1" text-anchor="start" fill="#1a1a1a" stroke="#1a1a1a" stroke-width="0.22"  >metastatis</text>
<circle cx="633.50" cy="762.50" r="3.2" fill="#2a4fb0"/>
<text x="641.00" y="765.30" font-size="8.1" text-anchor="start" fill="#1a1a1a" stroke="#1a1a1a" stroke-width="0.22"  >Recurrence</text>
<circle cx="633.50" cy="771.20" r="3.2" fill="#e05550"/>
<text x="641.00" y="774.00" font-size="8.1" text-anchor="start" fill="#1a1a1a" stroke="#1a1a1a" stroke-width="0.22"  >Metastasis</text>
</svg>
</body></html>
